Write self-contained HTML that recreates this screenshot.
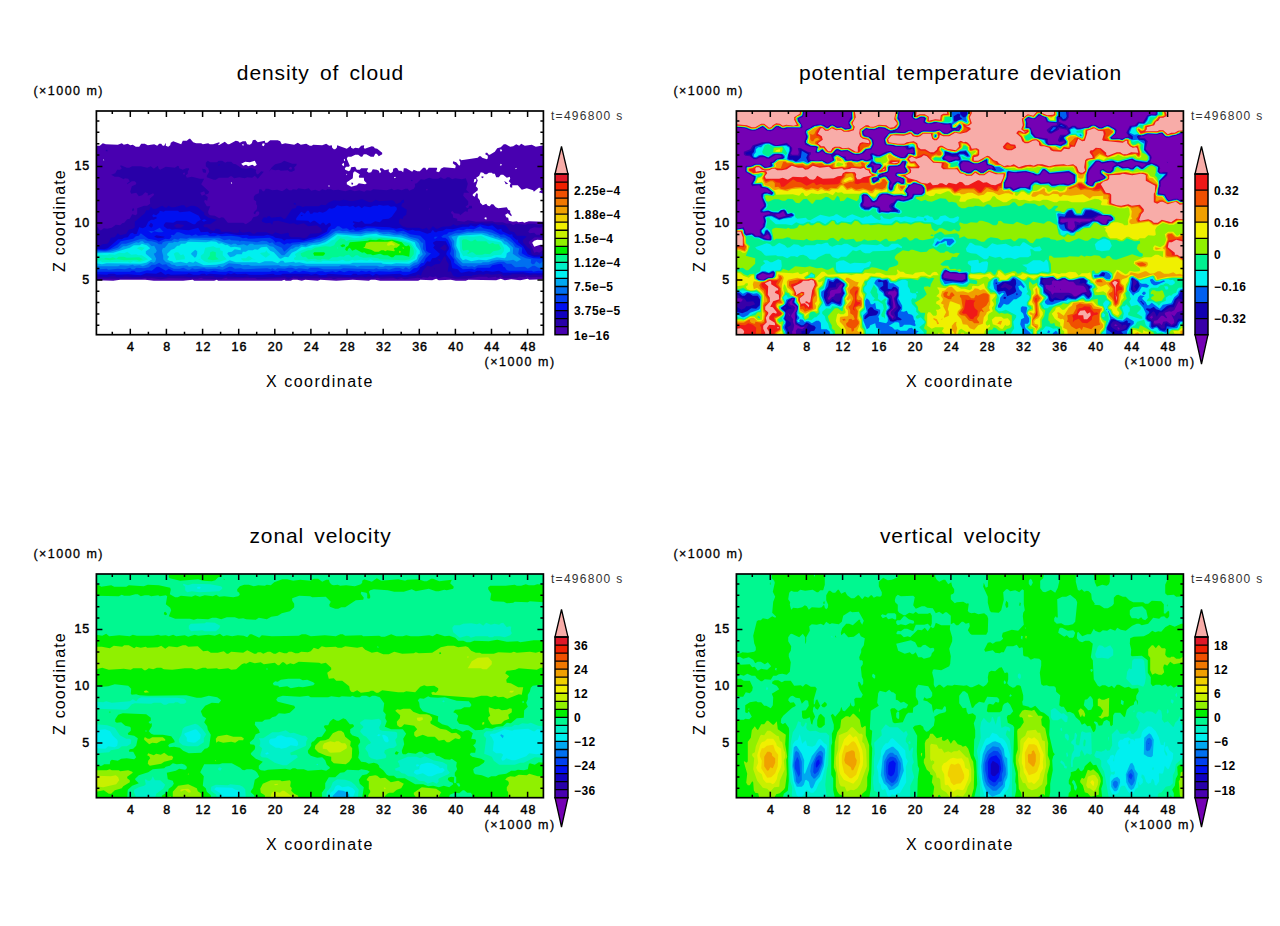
<!DOCTYPE html><html><head><meta charset="utf-8"><style>html,body{margin:0;padding:0;background:#fff;}svg{display:block;}text{font-family:"Liberation Sans",sans-serif;}</style></head><body>
<svg width="1280" height="926" viewBox="0 0 1280 926">
<g transform="translate(0,0)"><clipPath id="cp_cloud"><rect x="96.4" y="111.0" width="447.0" height="223.7"/></clipPath><g clip-path="url(#cp_cloud)"><rect x="96.4" y="111.0" width="447.0" height="223.7" fill="#ffffff"/><path fill-rule="evenodd" fill="#4800b0" d="M351.8 182.2L351.2 184.2L352.8 184.8L353.2 183.2ZM504.2 180.8L505.8 184.2L508.2 183.8ZM481.8 176.2L481.2 177.2L482.8 178.2L483.8 176.8ZM96.2 145.8L96.2 180.2L97.2 180.8L96.2 181.8L96.2 280.2L113.2 280.8L120.2 279.8L145.2 279.8L153.8 280.8L183.2 280.8L192.8 279.8L194.2 280.8L214.2 280.8L216.8 279.8L218.2 280.8L281.8 280.8L284.2 279.8L285.8 280.8L290.8 280.8L292.8 279.8L297.2 279.8L301.8 280.8L305.2 279.8L317.8 280.8L320.2 279.8L336.2 280.8L352.8 279.8L368.8 280.8L370.8 279.8L375.2 279.8L380.2 280.8L418.2 280.8L420.2 279.8L432.2 280.2L436.2 278.8L438.8 280.2L450.8 279.8L455.8 280.8L465.8 280.8L468.2 279.8L496.2 280.2L500.8 278.8L504.8 280.2L511.2 279.2L520.2 280.2L527.8 278.8L529.2 279.8L543.8 279.2L543.8 244.8L540.2 244.8L534.2 246.8L532.2 242.8L534.2 240.8L537.2 239.8L543.8 240.2L543.8 221.8L528.8 221.2L524.2 222.8L522.8 221.8L518.2 222.2L516.8 221.2L512.8 221.8L508.8 220.8L508.2 217.8L506.2 217.2L505.2 214.8L507.8 213.2L511.2 216.2L511.8 215.2L510.2 212.8L510.2 210.8L508.2 209.8L506.8 207.2L498.2 208.2L495.8 207.2L493.2 204.2L491.2 204.2L489.8 206.2L487.8 205.8L486.2 203.8L482.8 205.2L480.2 202.8L479.8 200.2L477.8 197.8L477.8 193.8L476.2 193.2L474.8 196.8L472.8 195.8L472.8 194.2L477.8 190.2L477.8 188.2L475.8 186.2L477.8 180.2L476.2 177.8L479.2 175.8L480.8 172.2L483.2 172.8L484.8 174.2L486.8 174.2L488.8 172.8L491.8 172.8L492.8 173.8L494.8 173.8L496.2 177.2L498.8 177.2L500.8 174.8L503.2 174.8L506.8 177.8L509.8 176.8L510.2 178.8L508.8 181.2L510.8 183.2L509.8 185.2L510.2 187.2L512.2 187.8L512.2 185.2L517.8 185.2L521.8 189.8L526.8 188.2L533.2 190.2L533.8 191.8L538.8 187.8L540.2 187.8L541.8 189.8L538.8 192.2L543.8 193.8L543.8 145.2L535.8 146.8L531.8 144.8L524.8 145.8L521.2 143.8L519.2 145.8L516.2 144.2L513.2 146.2L510.2 146.8L505.8 144.2L503.8 144.2L500.8 147.2L497.2 148.2L494.8 151.8L489.8 154.8L488.8 154.8L487.2 152.8L485.8 152.8L485.2 154.2L487.8 155.8L487.8 158.2L486.8 159.2L482.2 157.8L480.8 156.2L479.2 156.2L477.8 157.8L461.2 160.2L459.8 158.8L459.2 160.2L460.2 161.8L460.2 164.8L459.2 165.8L456.2 162.2L453.2 161.2L452.8 163.2L455.8 165.8L455.2 168.2L443.8 167.2L440.8 168.8L439.8 171.2L438.2 172.2L436.2 171.2L437.2 168.8L436.8 167.8L428.8 167.8L426.8 170.2L425.2 167.8L423.2 167.8L419.8 171.2L417.2 171.2L413.8 169.8L412.2 171.8L406.2 168.2L403.8 168.2L403.2 172.2L401.2 170.8L398.8 170.8L397.2 168.2L395.8 167.8L393.2 168.8L392.8 171.8L390.8 173.2L388.8 171.8L388.8 169.2L384.8 170.2L382.2 168.2L380.2 168.2L379.8 169.2L381.2 171.8L379.8 173.2L378.8 170.8L376.8 169.8L372.8 169.2L371.2 172.2L368.8 172.8L366.8 171.2L368.2 168.2L361.2 168.2L359.8 169.8L356.8 169.8L355.2 166.8L351.2 167.2L350.2 170.2L348.8 171.2L345.2 169.8L344.8 168.2L346.2 166.8L348.8 166.8L349.8 165.8L346.8 158.8L347.8 156.8L351.2 156.8L355.2 154.8L358.2 154.8L360.8 156.8L362.2 156.8L363.8 154.2L366.2 154.2L370.8 156.8L373.8 156.8L375.2 153.8L376.8 153.8L378.8 156.2L382.2 154.2L382.2 152.8L377.2 148.8L374.8 148.2L373.8 146.8L371.8 146.2L364.8 148.8L363.8 147.8L364.2 145.2L361.2 145.8L358.8 148.2L355.2 147.8L353.2 148.8L351.2 147.8L350.8 145.8L346.8 148.8L337.2 145.2L336.8 147.8L335.2 149.2L333.8 149.2L332.2 147.8L331.8 145.2L329.2 145.8L326.2 143.8L322.2 145.2L313.2 144.8L311.8 145.8L309.8 145.8L306.2 143.8L300.8 144.8L297.8 142.8L294.2 144.8L285.2 143.2L281.8 144.2L280.2 141.2L277.8 140.2L270.2 140.2L267.2 142.8L265.2 142.8L264.8 140.8L257.8 142.2L255.2 139.8L252.8 140.2L251.8 143.2L249.8 144.8L247.2 144.2L245.8 141.2L242.8 141.2L239.8 142.8L238.2 141.2L235.8 140.8L229.2 144.2L227.8 144.2L224.8 141.8L218.8 145.2L218.2 144.2L219.8 143.2L219.2 142.2L213.2 144.2L209.8 144.2L208.2 143.2L202.8 144.2L201.2 143.2L196.2 143.2L193.2 142.2L190.2 138.8L189.2 138.8L186.8 140.8L182.8 140.8L181.2 144.2L173.2 141.2L170.8 142.8L170.2 145.2L168.2 146.8L165.8 145.8L165.8 142.8L164.2 145.8L162.8 145.8L161.2 143.8L159.2 143.8L157.2 145.8L154.2 144.2L147.8 145.2L144.8 143.8L141.2 143.8L139.2 146.8L135.8 146.8L132.8 144.8L130.2 145.2L127.8 143.8L123.8 144.8L121.8 143.2L117.8 144.8L105.8 144.2L102.8 143.2L99.8 145.8ZM485.2 217.2L486.8 217.8L486.2 219.8L484.2 218.2ZM328.2 185.8L329.2 185.2L329.8 186.2L328.8 186.8ZM230.8 182.8L231.8 182.2L232.2 183.2L231.2 183.8ZM476.2 178.8L476.2 181.2L473.8 182.8L474.2 179.2ZM393.8 177.2L395.2 176.8L395.8 177.8L394.8 178.2ZM346.2 174.2L346.8 173.8L347.2 174.8L346.8 175.2ZM346.8 182.2L352.8 178.2L353.2 172.8L354.8 171.2L359.8 174.2L358.8 176.2L359.2 177.8L363.8 177.8L364.2 180.8L366.8 183.2L365.2 184.2L358.8 183.2L356.8 185.2L351.2 186.8L346.8 184.2ZM515.2 168.2L516.2 167.8L516.8 168.8L515.8 169.2ZM500.8 163.8L501.8 164.2L501.2 165.8L499.8 165.2ZM343.8 162.8L344.2 165.2L343.2 166.2L341.8 164.2ZM256.8 164.8L254.8 166.2L252.2 164.8L248.2 166.2L246.2 164.8L243.2 165.8L241.2 163.8L245.2 161.8L249.8 162.2L254.8 160.8ZM103.2 159.8L103.8 159.2L104.2 160.2L103.8 160.8ZM344.8 158.8L345.2 160.2L344.2 161.2L343.8 159.8ZM499.8 149.8L501.2 149.2L502.2 150.8L500.8 151.8ZM242.2 144.2L243.2 143.8L243.8 145.2L242.8 145.8ZM262.8 143.2L264.8 143.8L263.8 146.2L261.8 145.2Z"/><path fill-rule="evenodd" fill="#2800a8" d="M133.8 208.2L132.2 208.8L132.2 211.2L134.2 210.2ZM411.2 179.8L410.8 180.8L412.2 181.2L412.8 180.2ZM202.2 168.8L202.8 171.8L203.8 172.8L205.8 172.8L206.2 170.8L205.2 169.2ZM96.2 227.2L96.2 278.8L141.8 278.8L145.2 277.8L147.2 278.8L151.8 278.2L160.8 279.2L168.8 278.2L197.8 278.8L201.2 277.8L203.2 278.8L221.2 279.2L226.2 277.8L227.8 278.8L255.2 278.2L257.2 279.2L284.8 278.2L288.2 279.8L293.2 277.8L298.8 278.8L331.2 278.2L333.8 279.2L337.8 278.2L373.2 278.8L377.8 277.8L380.8 278.8L393.2 278.2L397.8 279.2L401.2 278.2L404.8 279.2L417.8 277.8L421.2 278.2L423.2 277.2L427.8 277.8L429.8 276.2L432.8 277.2L435.8 276.2L438.2 278.2L444.8 276.8L455.2 278.8L466.2 278.8L478.8 276.8L486.8 276.8L488.2 277.8L495.8 276.8L496.8 277.8L498.8 277.8L500.2 276.2L503.8 278.2L517.2 277.8L519.2 276.8L525.2 277.2L526.2 276.2L529.8 277.2L543.8 276.8L543.8 250.8L542.2 250.8L539.2 252.8L536.8 251.8L534.2 252.8L531.8 246.8L528.8 243.2L528.8 241.8L534.8 237.2L543.8 237.8L543.8 234.8L536.2 234.8L534.2 232.8L529.8 233.2L528.2 231.8L530.2 228.8L534.2 227.2L540.2 227.8L543.8 226.8L543.8 223.8L537.8 224.8L534.2 223.8L527.8 223.8L525.8 224.8L515.8 223.8L513.2 225.2L510.2 223.2L506.8 223.8L502.8 222.2L494.8 222.2L492.2 221.2L476.2 221.8L467.8 220.2L464.2 221.8L457.2 220.8L457.2 218.8L453.2 217.8L452.8 214.8L450.8 212.8L451.8 211.2L452.8 211.2L454.2 213.2L459.2 213.8L460.2 215.2L465.2 211.2L467.8 211.8L467.8 209.8L468.8 208.8L472.2 208.2L471.8 205.8L469.2 205.8L468.2 208.2L465.8 207.2L465.8 206.2L468.2 204.8L468.2 201.2L463.2 195.8L463.8 192.8L469.2 192.8L466.2 189.8L467.8 183.8L465.8 178.2L461.8 179.2L455.2 178.2L452.2 179.2L449.2 177.2L447.2 177.2L445.2 178.8L443.2 178.8L440.8 177.2L438.2 178.8L432.8 178.8L429.2 177.8L424.2 179.8L420.8 179.2L416.8 183.2L414.8 183.8L415.2 186.2L413.8 188.8L409.2 190.8L407.8 188.8L405.2 188.8L401.8 190.2L397.8 189.2L393.8 190.2L391.8 188.8L386.8 190.2L373.2 189.2L370.8 190.8L366.8 190.2L364.2 191.8L359.2 190.2L354.8 191.2L350.2 189.8L345.2 191.2L338.2 189.8L333.2 190.2L330.8 189.2L327.2 189.2L325.8 190.2L322.2 189.2L319.2 191.2L315.2 189.8L311.2 190.8L308.8 188.2L304.8 189.2L298.2 188.2L296.8 189.8L292.8 189.2L291.8 190.2L289.2 190.2L286.8 188.2L282.2 191.2L277.2 189.8L272.2 190.2L268.2 188.8L265.8 188.8L264.2 191.2L262.8 191.2L261.2 189.2L259.2 189.2L258.8 193.2L255.2 194.8L253.8 196.8L253.8 199.8L256.2 201.2L256.2 204.2L257.2 205.8L256.8 209.2L253.8 212.2L253.8 213.8L255.2 214.2L256.2 211.8L258.2 211.2L259.2 212.2L259.2 214.2L257.2 216.2L253.2 217.2L251.2 220.8L245.8 224.2L243.2 222.8L227.8 222.8L223.8 217.8L221.8 217.2L219.2 218.2L214.8 215.8L209.8 215.2L208.2 213.2L208.2 211.2L210.2 206.2L206.8 206.2L204.2 201.8L204.8 199.8L207.2 200.8L207.8 197.2L204.8 194.8L208.2 193.8L209.2 191.8L201.2 184.2L204.2 178.8L199.8 178.8L191.8 176.8L186.8 177.8L185.8 175.2L187.8 173.8L187.8 171.2L189.2 169.2L188.8 168.2L186.2 168.2L182.8 169.8L179.2 168.2L178.8 166.2L177.8 165.8L174.8 167.8L165.8 166.8L160.2 169.8L158.8 168.8L157.8 165.8L153.8 168.8L150.8 166.2L147.2 167.8L140.8 166.2L132.2 166.2L129.2 167.8L126.8 167.8L120.8 165.2L120.2 166.2L121.8 168.2L120.2 169.8L117.2 169.8L115.2 173.2L111.2 174.8L114.8 176.8L118.8 176.8L123.8 179.2L124.8 178.2L128.2 178.8L129.8 181.2L127.2 183.2L127.2 184.2L131.8 181.2L134.8 181.2L136.2 182.8L136.2 184.2L131.8 186.2L130.2 191.8L131.2 193.8L136.2 192.8L138.8 196.2L142.2 195.2L145.2 192.2L147.8 193.2L147.8 195.8L153.2 193.2L154.2 194.8L149.8 198.8L150.2 203.8L147.2 205.8L144.2 205.8L137.2 208.2L137.2 213.8L135.8 215.2L132.2 214.2L129.8 218.8L127.2 219.2L124.2 222.8L122.2 223.2L120.2 225.2L115.8 224.8L111.8 227.8L107.2 228.8L103.8 228.2L101.2 230.2L99.8 230.2L97.8 227.2ZM429.2 208.8L429.8 208.2L430.2 209.2L429.8 209.8ZM204.2 191.2L205.2 194.2L201.8 195.8L200.2 192.8ZM425.8 189.2L427.2 188.8L427.8 189.8L426.8 190.8ZM182.8 173.8L184.2 172.2L185.2 174.2L183.8 174.8ZM296.8 163.8L292.2 163.8L284.2 160.8L281.2 162.8L275.2 164.2L271.8 167.2L268.8 171.8L271.2 169.2L275.2 170.2L278.8 169.8L280.8 170.8L287.8 170.2L289.8 171.8L291.8 171.8L294.8 170.2L294.2 167.2L296.2 165.8ZM290.2 166.8L292.2 167.8L291.2 169.8L288.8 168.8ZM205.8 162.8L205.8 166.2L208.2 168.2L209.2 171.8L206.8 175.8L206.8 177.2L213.8 179.8L215.8 179.8L218.8 177.8L228.2 177.8L230.2 176.2L231.8 176.2L234.2 178.2L239.2 177.2L244.8 178.2L247.2 177.2L252.2 177.8L254.8 175.8L257.8 178.8L263.8 171.8L261.2 171.2L258.2 174.2L256.8 174.2L255.8 171.8L256.2 169.8L251.2 167.8L246.2 168.8L241.8 168.2L235.8 164.2L233.2 163.8L231.2 161.8L227.2 161.8L225.2 162.8L222.2 160.8L218.8 160.8L216.8 162.2L210.2 162.2L207.8 160.8ZM105.8 149.8L105.8 151.2L107.8 151.2L107.2 149.8Z"/><path fill-rule="evenodd" fill="#1000c0" d="M435.2 268.2L434.2 268.2L434.2 269.2ZM293.8 203.2L293.8 204.2L296.2 204.8L295.2 202.8ZM543.8 254.2L534.8 255.2L531.8 254.2L530.2 249.2L527.8 247.8L523.2 242.8L522.8 239.8L526.8 236.8L524.2 235.8L516.8 235.8L514.2 232.2L510.2 231.2L505.8 225.8L503.2 224.8L498.2 225.2L493.2 223.2L485.8 223.8L482.2 222.8L477.2 223.8L469.8 223.2L467.8 224.8L462.2 224.2L456.8 225.8L453.2 224.2L450.8 226.2L442.2 226.8L437.8 228.8L436.2 228.8L432.8 226.2L429.8 229.8L428.2 229.8L426.8 227.8L422.8 229.2L419.2 227.8L406.8 227.8L402.2 226.2L399.2 223.2L399.2 219.8L400.8 218.2L402.8 219.2L403.2 216.8L406.2 214.8L406.8 209.8L401.2 206.2L401.8 203.8L404.2 202.2L403.8 199.8L401.8 200.2L400.8 202.2L397.2 203.8L395.8 203.8L394.2 201.2L392.2 200.2L379.2 201.2L375.8 199.8L371.8 202.2L369.2 202.2L362.2 199.2L351.8 201.2L343.8 199.8L339.8 200.8L333.8 200.2L328.2 202.8L325.8 205.2L321.2 204.8L318.8 206.2L304.8 206.2L303.2 207.2L299.8 205.8L296.8 205.8L295.8 208.2L292.2 208.8L285.8 218.2L284.2 219.2L280.8 216.8L271.2 217.8L269.8 216.2L267.8 216.2L266.8 217.8L263.8 217.2L261.8 220.2L262.2 221.8L266.2 223.2L270.2 222.8L272.2 224.8L273.2 221.2L278.2 220.8L289.8 223.8L293.8 223.2L297.2 224.8L303.8 223.2L308.2 226.2L316.8 225.2L320.8 228.2L322.2 231.2L319.2 233.2L310.2 233.8L307.2 237.2L304.2 238.2L299.2 237.2L290.8 237.2L288.8 235.8L288.8 233.2L287.8 232.8L281.2 234.2L275.2 232.2L272.8 234.2L271.2 234.2L266.2 232.2L256.8 232.2L254.8 233.8L252.8 233.8L249.8 231.8L242.8 232.8L239.8 231.2L240.2 229.8L238.8 230.2L239.8 231.2L238.2 232.8L233.2 232.8L229.2 231.8L221.2 231.8L220.2 229.8L217.8 228.8L215.2 228.8L215.2 230.2L212.8 231.2L206.8 227.2L204.2 227.2L203.2 225.8L204.8 224.2L210.2 224.2L216.8 219.8L208.8 217.8L204.2 214.8L204.2 212.8L197.8 207.2L193.8 205.8L190.8 205.8L186.2 207.8L184.2 205.2L181.8 205.2L174.8 207.2L171.2 207.2L168.2 205.8L167.2 207.2L165.2 207.8L162.2 205.8L155.8 208.8L152.8 208.8L150.8 206.8L149.2 210.2L146.2 210.2L144.8 213.2L134.8 221.8L134.8 227.2L132.8 228.8L128.8 229.8L126.2 233.8L120.2 235.2L117.8 233.2L114.8 237.2L110.8 237.8L109.2 241.8L107.2 243.8L102.2 244.2L100.8 245.8L96.2 245.2L96.2 276.8L108.2 277.2L110.8 276.2L114.8 276.2L117.2 277.2L121.8 277.2L125.2 276.2L132.2 277.2L146.8 276.2L166.2 277.2L168.2 276.2L183.8 276.2L190.2 277.2L199.2 276.2L213.2 276.2L215.8 277.2L222.8 277.2L224.2 276.2L242.8 277.2L247.8 276.2L250.2 277.2L272.8 277.2L285.2 276.2L287.2 277.2L290.8 277.2L292.8 276.2L296.8 276.2L301.8 277.2L304.2 276.2L317.8 276.2L319.8 277.2L326.2 277.2L328.2 276.2L354.2 277.2L361.8 276.2L365.8 277.2L368.2 276.2L373.8 277.2L377.2 275.8L379.2 276.8L392.2 276.2L396.2 277.8L398.8 276.8L407.8 277.2L410.2 276.2L415.2 276.2L417.8 274.2L420.8 275.8L422.8 270.8L427.2 265.8L431.2 266.8L435.2 264.2L439.8 263.8L444.2 256.2L445.8 256.8L446.2 260.2L448.8 264.2L447.8 271.8L450.8 271.2L453.2 275.8L457.8 277.2L464.2 275.8L471.2 276.2L472.8 275.2L480.2 274.2L483.8 274.8L485.8 273.8L489.2 273.8L490.8 274.8L501.2 273.8L503.8 275.8L509.8 275.2L511.8 274.2L523.8 274.2L529.2 275.2L534.8 274.2L538.2 275.2L543.8 274.8ZM438.8 258.8L440.8 260.2L439.8 261.2L437.8 259.8ZM444.2 244.8L445.2 244.8L446.8 247.2L446.8 248.8L444.8 251.2L439.8 248.2ZM173.8 225.8L176.8 223.8L183.2 224.8L184.2 225.8L180.8 227.8L176.2 227.8ZM220.2 164.8L218.8 164.2L218.2 165.8Z"/><path fill-rule="evenodd" fill="#0010f0" d="M201.8 220.2L203.8 221.8L206.8 220.2L204.2 219.2ZM543.8 256.8L534.2 256.8L527.8 254.2L523.2 246.2L518.2 242.2L517.8 239.8L516.2 239.8L512.8 236.8L512.2 234.2L509.8 234.8L502.2 231.2L501.2 228.8L497.8 229.8L492.2 225.2L488.2 226.2L479.8 224.2L475.2 226.8L470.8 225.2L468.8 226.8L462.8 226.8L452.8 229.2L446.2 228.8L442.8 230.8L437.8 231.2L436.8 232.2L434.8 232.2L433.2 230.2L432.2 230.2L430.8 232.8L427.2 233.8L419.2 230.8L415.2 230.8L412.8 229.8L407.8 230.8L400.8 227.8L396.2 228.8L389.2 227.2L366.2 226.2L362.2 227.8L357.2 227.2L355.8 228.2L352.8 225.8L354.8 223.8L352.8 222.2L353.2 221.2L358.8 222.2L361.8 220.8L364.8 223.8L370.8 223.8L375.2 221.2L379.8 222.2L382.8 219.2L388.8 218.8L391.8 216.8L396.8 209.8L396.8 207.8L394.8 206.2L390.8 206.8L388.2 205.2L383.2 205.8L378.8 204.8L377.8 205.8L373.2 205.8L370.2 207.2L364.2 206.2L361.8 208.2L358.8 205.8L355.2 207.2L353.2 205.8L349.8 206.8L347.2 205.8L341.2 206.2L337.2 205.2L334.8 207.8L331.8 208.8L329.2 208.2L326.2 211.2L322.8 212.8L319.2 211.8L317.8 212.8L313.8 212.2L312.2 213.8L310.2 213.8L308.8 210.8L307.2 210.8L304.8 213.8L301.2 211.8L296.2 218.2L296.2 220.2L308.2 220.8L310.2 222.8L313.2 220.8L314.8 220.8L320.2 224.8L322.2 222.8L323.8 222.8L325.8 225.2L329.2 222.8L330.8 223.8L330.8 225.8L328.2 227.8L326.8 231.8L315.8 237.2L310.8 237.8L303.8 240.2L298.8 239.2L286.2 239.2L284.2 240.8L281.8 238.8L275.2 237.8L273.2 236.2L267.2 234.8L263.8 235.8L249.2 235.8L247.2 234.8L238.8 235.2L226.2 233.2L220.8 234.2L213.2 232.8L210.2 233.8L207.8 231.8L200.8 232.2L198.2 227.8L188.8 230.2L175.8 229.2L171.8 229.8L170.2 228.8L167.2 228.8L163.8 226.2L163.8 224.8L165.8 222.2L173.2 222.8L176.8 220.8L186.2 220.8L193.2 224.2L195.2 224.2L197.2 221.8L200.8 219.8L198.8 215.8L189.8 211.2L179.8 212.2L177.8 210.8L165.2 210.8L163.8 211.8L159.8 210.8L159.2 212.8L156.2 215.2L153.2 214.2L152.2 215.8L153.2 217.2L156.2 216.8L156.8 218.2L153.8 219.8L151.2 219.8L148.2 221.8L145.8 226.8L142.8 228.2L139.2 227.2L136.8 233.8L134.8 234.2L132.2 232.8L130.2 233.8L127.8 237.2L124.2 237.8L121.8 239.2L118.2 239.2L107.8 248.2L104.2 249.2L96.2 248.8L96.2 274.2L107.2 274.8L108.8 273.8L114.2 273.8L116.8 274.8L128.2 274.2L140.8 275.2L146.2 273.2L156.2 273.8L160.8 271.8L165.2 274.8L168.2 273.8L170.8 274.8L187.2 274.2L188.8 273.2L193.2 274.8L199.2 274.8L201.8 273.8L204.8 273.8L206.2 274.8L209.8 273.8L225.8 274.8L228.2 273.2L230.8 274.2L234.2 273.2L237.2 274.2L245.8 273.8L249.2 274.8L262.2 274.8L273.2 273.8L275.2 274.8L280.8 274.8L282.8 273.8L308.2 273.8L311.2 274.8L315.8 273.8L320.2 275.2L326.2 274.8L328.2 273.8L350.8 275.2L353.2 273.8L356.2 273.8L357.8 274.8L369.2 273.8L372.8 275.8L375.8 273.8L379.2 274.8L399.8 273.8L403.2 275.2L406.2 275.2L416.2 272.2L419.2 269.8L420.2 267.2L424.2 265.2L427.2 261.2L430.2 261.8L432.2 258.2L435.8 257.8L439.2 255.2L439.8 253.8L433.2 247.8L434.8 245.2L433.2 243.8L433.2 242.2L436.2 240.8L445.8 241.2L448.8 247.2L448.8 249.2L446.8 251.8L446.2 254.2L450.8 260.8L452.2 268.2L457.8 269.2L460.2 272.2L461.8 272.8L468.8 271.2L474.2 272.2L477.2 270.8L480.8 270.8L482.8 271.8L486.2 270.8L492.8 271.8L498.8 270.8L503.2 272.8L523.2 272.2L529.8 273.2L543.8 273.2ZM154.2 236.8L156.2 235.2L164.8 236.8L163.2 237.8L157.8 238.2ZM150.8 222.8L152.8 224.2L152.8 226.2L151.2 227.8L148.8 225.8ZM300.8 215.2L302.2 214.8L302.8 215.8L301.2 216.2Z"/><path fill-rule="evenodd" fill="#0040f0" d="M433.8 238.2L435.2 238.8L437.8 236.8L434.8 236.8ZM163.8 231.2L162.8 231.2L159.8 227.8L153.2 231.2L147.2 230.8L149.2 231.2L151.2 233.2L154.2 231.2L158.2 232.2L162.2 232.2ZM441.2 236.8L442.8 237.8L445.2 237.8L447.8 239.8L450.8 246.8L450.8 251.2L449.8 253.8L454.2 259.8L454.2 262.8L462.8 269.2L471.8 268.8L474.8 269.8L477.2 267.8L489.8 267.8L492.2 265.2L500.2 263.8L502.2 264.2L503.2 266.8L504.8 267.2L506.8 270.2L509.2 270.8L531.8 270.8L533.2 271.8L538.2 270.8L543.8 271.2L543.8 258.8L533.8 258.2L527.8 256.8L521.8 253.2L522.2 247.8L516.8 244.8L510.2 237.8L503.8 234.2L500.8 234.8L491.8 229.8L483.2 228.2L480.2 226.2L473.8 229.2L466.8 228.8L463.2 230.2L458.2 229.8L451.2 232.2L448.8 232.2L446.8 234.2L443.8 234.8ZM431.2 253.2L428.8 252.8L426.2 250.8L425.2 240.8L420.2 235.8L410.2 234.2L403.2 230.8L396.8 231.8L393.8 229.8L381.2 229.8L374.2 228.2L367.2 228.2L358.2 230.8L355.2 230.8L353.2 229.2L349.8 230.2L346.8 228.2L342.8 228.8L339.2 226.2L337.2 226.2L334.8 228.8L331.8 229.2L328.2 233.2L320.2 237.8L302.8 241.8L291.8 242.8L290.2 243.8L287.2 243.2L284.2 244.8L279.8 241.8L277.2 241.8L275.8 242.8L273.2 239.8L269.8 237.8L248.2 238.8L246.2 237.8L242.8 238.2L239.2 236.8L231.2 235.8L221.8 236.2L217.8 235.2L214.8 236.2L209.8 236.2L206.8 234.8L198.2 235.8L195.8 234.2L191.8 235.8L189.8 234.8L185.8 234.8L179.2 232.2L176.8 232.2L173.8 235.2L171.8 234.8L170.8 235.8L171.8 236.8L169.2 239.2L165.2 238.8L158.8 241.8L156.2 240.2L148.2 238.8L140.8 233.2L138.8 235.8L135.8 236.2L133.2 238.8L120.8 241.2L117.8 244.2L109.8 249.2L105.2 250.2L96.2 249.8L96.2 271.8L130.2 271.8L131.8 270.8L134.2 270.8L136.2 272.2L139.8 272.2L147.2 270.2L151.8 270.8L156.8 266.8L158.8 266.8L165.8 270.8L168.8 268.8L173.8 271.2L197.2 271.8L200.2 270.8L208.8 271.8L213.8 270.8L218.8 271.8L226.2 271.8L229.8 270.8L233.8 271.8L270.2 271.8L272.2 270.8L277.8 271.8L279.8 270.8L287.2 271.2L290.2 272.8L295.2 270.8L299.2 272.2L302.8 270.8L310.8 272.2L315.8 272.2L317.8 271.2L322.8 271.2L325.2 272.2L332.8 271.2L335.8 272.2L339.8 270.8L344.2 272.2L348.8 270.8L359.2 271.8L361.2 270.8L366.2 271.8L369.2 270.8L373.2 272.2L378.8 271.2L390.2 271.8L400.8 270.8L402.2 271.8L409.8 271.8L413.8 268.2L417.2 267.8L421.2 263.2L423.8 262.8L425.8 258.2Z"/><path fill-rule="evenodd" fill="#0070f0" d="M448.2 236.2L451.8 242.2L452.2 246.8L453.8 250.2L454.2 257.2L458.2 262.8L462.2 266.2L466.2 265.8L467.8 266.8L472.2 266.2L474.2 267.2L478.2 265.2L488.2 264.8L498.2 261.8L503.8 261.8L506.8 263.8L511.2 263.8L515.2 267.2L524.8 266.8L527.8 268.8L532.8 265.8L534.8 265.8L538.2 267.8L543.8 267.8L543.8 260.8L539.8 263.8L536.2 261.2L534.2 264.2L532.2 264.2L530.8 262.8L531.2 259.2L525.8 258.2L520.2 255.8L518.2 253.8L519.2 248.2L515.2 247.2L512.8 243.2L505.2 237.8L500.8 237.2L499.2 235.8L491.8 232.8L483.8 230.8L474.8 230.8L472.8 231.8L467.2 231.2L459.2 233.2L455.2 233.2ZM426.2 253.8L422.8 248.8L423.2 242.8L421.8 242.8L418.2 238.8L409.8 236.8L405.8 234.2L403.2 234.2L401.8 233.2L396.8 233.8L388.8 231.8L379.2 231.8L376.2 230.2L371.2 231.2L365.8 230.8L360.2 232.2L350.8 232.2L346.8 230.8L342.8 231.2L339.2 230.2L334.8 231.2L326.8 236.8L319.2 239.8L316.8 239.8L312.2 241.8L300.8 243.2L299.2 244.2L292.8 244.8L284.2 251.8L281.8 247.8L274.8 244.8L272.2 242.2L269.8 243.2L266.8 241.2L262.2 240.8L257.2 242.2L241.2 240.8L239.8 241.8L238.8 240.8L231.2 240.2L229.8 239.2L224.2 240.2L219.2 237.8L189.2 237.8L186.8 238.8L180.2 238.2L178.2 239.8L174.2 238.8L171.8 240.8L165.8 241.2L162.8 242.2L161.8 244.2L158.8 244.2L156.8 242.8L151.8 241.2L147.8 241.2L144.2 239.2L139.8 239.2L125.8 243.8L121.8 243.8L117.8 247.8L106.2 251.2L96.2 250.8L96.2 268.2L99.8 269.2L106.8 268.8L108.2 269.8L117.8 268.8L124.8 269.2L130.2 267.8L131.8 269.2L134.2 269.2L136.2 267.8L143.8 268.2L148.8 267.2L151.8 264.8L155.2 264.8L159.2 262.8L162.2 264.8L166.2 264.2L168.2 266.2L173.8 268.8L179.8 268.8L183.2 267.8L187.8 269.8L189.8 269.8L192.2 268.2L194.8 269.2L204.2 268.2L206.8 269.2L215.2 268.8L222.8 269.8L229.2 266.8L231.8 266.8L234.8 268.8L240.8 268.2L243.8 269.2L267.2 268.2L270.8 269.2L272.2 268.2L275.2 269.8L277.8 268.2L284.8 268.8L288.2 267.8L292.2 267.8L295.8 269.2L298.8 268.2L307.8 269.2L310.2 267.8L317.8 267.8L323.2 269.2L340.8 269.2L343.2 268.2L373.8 269.2L376.2 268.2L378.8 269.2L385.8 268.8L388.8 269.8L395.8 267.8L399.2 267.8L403.2 269.2L405.8 267.2L409.2 269.2L411.8 266.8L418.8 263.8Z"/><path fill-rule="evenodd" fill="#00a8f0" d="M156.8 250.8L154.2 245.8L151.8 246.2L148.2 243.2L144.8 243.2L142.8 241.2L140.8 241.2L138.8 242.8L136.2 242.2L126.2 246.2L123.2 246.2L119.2 249.2L110.2 251.8L96.2 252.2L96.2 266.2L118.2 266.2L120.2 265.2L128.2 265.8L132.8 264.8L134.2 265.8L139.8 265.2L142.8 266.2L147.8 264.2L150.8 261.8L153.8 262.8L155.2 261.8L156.2 258.8L153.8 253.8L155.8 252.8ZM451.2 236.8L454.2 241.2L454.2 246.8L456.2 251.2L456.2 256.8L462.8 263.2L481.2 263.2L482.8 262.2L488.8 262.2L491.8 260.8L499.2 259.8L507.2 260.8L513.2 259.8L516.8 261.8L521.2 259.2L512.8 253.8L513.2 247.8L506.8 241.8L504.8 241.2L503.2 239.2L500.8 239.2L497.8 237.2L495.2 237.2L492.8 235.2L489.8 235.2L487.2 233.8L482.2 232.8L468.2 232.8ZM422.8 254.2L418.8 243.2L416.2 240.8L400.8 235.2L394.2 235.2L388.8 233.8L383.8 234.2L377.2 232.2L366.2 232.8L360.8 234.2L335.8 232.8L327.2 238.8L320.8 241.8L308.8 243.8L305.8 245.8L301.2 244.8L298.8 246.8L295.8 246.8L292.8 248.8L291.2 248.8L284.2 255.2L281.8 255.2L273.2 246.8L270.2 246.2L266.8 244.2L254.2 244.8L252.8 243.8L249.8 243.8L247.2 245.8L243.8 244.2L237.8 245.2L235.8 243.8L233.2 243.8L231.2 244.8L214.2 239.2L209.8 240.2L190.2 239.2L186.8 240.8L180.2 240.8L177.8 242.2L174.2 241.8L172.8 242.8L168.8 242.8L164.8 247.8L162.8 248.2L161.8 250.8L163.2 255.8L163.2 259.2L166.2 262.2L169.2 262.8L171.8 264.8L174.2 264.8L176.8 266.2L187.2 265.2L188.8 266.8L196.2 265.8L205.2 267.2L216.8 267.2L218.8 265.8L222.2 267.2L228.8 263.2L240.2 264.2L242.2 265.2L248.2 264.8L250.8 265.8L278.8 265.2L280.8 266.2L287.2 266.2L290.2 265.2L295.2 266.2L303.8 265.2L307.2 266.2L338.8 266.2L341.2 265.2L354.8 265.8L357.2 266.8L360.8 265.8L377.2 265.8L379.8 266.8L383.2 266.8L385.2 265.8L409.2 266.2L414.2 262.8L417.2 262.2L419.8 257.2Z"/><path fill-rule="evenodd" fill="#00f0f0" d="M152.2 259.2L145.8 253.8L145.8 251.2L150.2 248.2L146.8 245.2L141.8 243.8L139.8 245.2L133.8 245.2L129.8 247.8L113.2 252.8L96.2 253.2L96.2 263.2L101.8 264.2L106.8 263.2L140.8 263.8L146.2 262.8ZM456.8 239.2L456.2 245.8L459.8 253.8L460.2 257.2L462.8 260.2L465.8 259.2L471.2 261.2L478.8 259.8L486.2 260.2L496.8 257.2L504.8 258.2L506.2 256.8L506.8 253.2L510.2 251.2L509.8 248.2L506.2 244.8L504.2 244.2L501.2 240.8L481.2 234.2L459.2 235.8L457.8 236.8ZM419.8 250.8L416.2 246.2L414.8 242.2L402.2 237.8L379.8 235.2L376.2 233.8L365.8 234.8L361.2 236.2L337.2 234.2L325.2 242.2L317.2 244.8L312.8 244.8L305.8 247.2L301.8 246.8L296.2 250.8L291.8 252.8L288.2 257.2L284.8 256.8L280.8 258.8L279.2 258.2L273.8 252.2L270.2 250.8L266.8 246.8L261.2 247.2L257.8 249.8L254.8 249.2L252.8 250.2L248.2 250.2L245.8 251.8L242.8 251.8L241.8 254.2L236.8 254.2L234.2 256.2L230.2 257.2L227.2 253.8L228.2 252.2L231.8 251.8L234.8 249.2L240.8 250.2L240.8 247.8L234.8 246.8L230.8 247.2L227.2 244.8L225.8 245.2L221.8 243.2L218.8 243.8L216.2 241.8L211.2 241.2L206.2 242.2L187.8 241.8L185.2 243.8L181.2 243.8L179.2 245.8L177.2 245.8L174.2 248.8L171.2 249.8L167.2 253.8L167.2 255.2L169.2 256.8L167.2 259.2L169.2 260.8L172.2 261.2L173.8 262.8L180.8 261.8L186.8 263.2L189.2 261.8L193.2 262.8L195.2 261.2L203.8 265.2L216.2 264.8L223.8 263.2L229.8 260.2L235.8 262.2L256.2 262.2L259.2 263.2L264.8 261.2L272.2 261.2L277.8 263.2L280.8 260.8L283.2 260.8L284.8 262.8L293.8 261.8L295.2 262.8L299.2 262.2L306.2 263.8L350.2 263.8L352.8 262.8L381.2 262.8L382.8 263.8L391.2 264.2L396.2 263.2L409.2 263.8L416.8 259.2L418.2 254.8L419.8 253.8ZM195.2 249.8L197.2 251.2L197.2 253.8L196.2 256.8L194.8 257.8L191.2 254.2L191.2 253.2Z"/><path fill-rule="evenodd" fill="#00f0c8" d="M200.2 259.2L199.2 258.8L198.2 259.8ZM241.2 258.2L241.2 259.2L243.2 260.8L248.8 260.8L251.8 259.2L256.2 259.2L252.8 258.8L249.8 256.2L248.2 256.2L245.8 258.2ZM173.8 253.8L176.2 260.2L184.8 259.2L184.8 256.8L183.2 254.2L180.8 255.2L178.2 252.2L175.8 252.2ZM148.2 259.2L141.8 255.2L138.2 255.2L136.2 254.2L131.2 254.8L127.2 251.8L124.2 253.2L119.2 252.8L114.8 254.8L109.2 254.2L107.2 255.2L100.8 254.8L96.2 255.8L96.2 261.8L100.8 261.2L102.2 262.2L127.8 261.8L130.2 262.8L133.2 261.2L139.8 262.2ZM266.2 250.2L265.2 252.2L260.8 252.8L260.2 253.8L265.8 257.8L269.8 254.8L269.8 253.8L268.2 253.2ZM136.8 248.2L141.8 250.8L144.8 247.8L139.8 246.8ZM200.8 255.8L200.8 258.2L204.2 261.2L208.8 262.8L219.8 261.8L226.8 259.2L222.8 255.2L222.8 251.2L220.2 250.2L220.2 247.8L216.2 247.8L213.2 246.2L205.2 247.8L203.8 253.2ZM459.2 237.8L460.2 250.8L463.2 256.2L465.8 255.8L472.2 257.8L476.2 256.8L480.2 257.8L491.2 256.8L494.2 255.2L501.2 254.8L503.8 251.2L504.2 248.2L500.8 242.2L488.8 240.2L481.2 235.8L473.2 236.8L466.2 236.2L460.8 236.8ZM293.8 259.2L295.8 260.2L303.8 260.2L307.2 261.8L312.2 260.8L317.2 261.8L321.2 261.8L322.8 260.8L337.2 261.2L342.8 259.8L345.8 261.2L348.8 261.2L352.2 259.8L354.8 260.8L360.8 259.8L367.2 260.8L370.2 259.2L373.8 260.8L380.8 260.8L384.2 261.8L407.2 261.8L414.8 258.8L416.8 250.8L411.2 242.8L397.2 238.2L371.2 236.2L354.2 238.2L347.2 236.2L342.2 236.8L337.8 235.8L334.2 239.8L331.8 240.2L327.2 243.8L318.2 246.2L314.2 246.2L311.2 248.2L307.8 247.8L299.2 251.2L294.8 254.2L296.2 256.8L294.2 257.8Z"/><path fill-rule="evenodd" fill="#00f890" d="M96.2 258.2L96.2 259.8L102.8 259.2L110.2 260.2L116.8 259.2L124.2 260.2L136.8 259.8L139.2 260.8L142.8 259.2L139.2 257.2L126.8 257.8L123.8 256.8L118.8 256.8L116.2 258.8L112.8 257.2L109.8 258.2L105.8 257.8L103.8 258.8ZM207.8 258.2L207.8 259.2L212.8 260.2L218.8 259.2L215.8 256.8L215.8 252.2L212.8 251.2L210.2 252.2L209.8 255.8ZM461.8 240.8L462.2 249.2L463.2 250.8L468.2 249.8L469.2 251.8L467.2 252.8L467.8 254.2L471.2 252.2L472.8 252.2L476.2 254.8L482.2 254.8L484.8 253.8L489.8 254.2L493.2 251.2L498.8 250.2L501.2 248.8L498.8 244.2L494.8 244.2L492.8 242.8L489.2 244.2L486.2 241.2L477.2 241.2L475.2 239.2L472.2 241.2L470.2 241.2L466.2 239.2L463.2 239.2ZM413.8 250.8L412.8 247.8L409.8 243.8L395.8 239.2L380.8 237.8L373.8 238.8L369.8 237.8L357.8 240.2L349.8 239.8L346.2 241.2L344.8 239.2L340.2 238.2L335.8 242.2L334.2 245.2L330.2 246.8L325.2 246.2L315.2 247.8L311.2 250.2L308.2 250.2L300.8 253.2L300.8 255.2L302.8 257.2L305.8 256.8L308.2 259.2L315.2 258.8L317.8 259.8L320.8 259.8L322.2 258.8L328.8 259.8L332.2 257.2L337.2 257.2L339.8 256.2L343.8 256.8L345.8 255.2L348.8 254.8L351.8 257.2L353.2 257.2L355.8 255.2L357.8 255.2L359.8 256.8L363.8 257.8L371.2 257.2L378.2 258.2L379.8 259.2L404.8 260.2L409.8 259.2L413.8 254.2ZM336.8 247.8L337.8 247.2L338.2 248.2L337.8 248.8Z"/><path fill-rule="evenodd" fill="#00f000" d="M313.2 253.2L314.2 255.8L323.2 255.8L325.2 253.8L324.2 252.2L314.2 252.2ZM344.8 244.8L342.8 244.2L340.2 245.8L342.2 247.2L345.2 246.2ZM410.2 247.2L408.8 245.2L406.2 246.2L404.8 245.8L401.8 242.2L392.2 239.8L384.8 240.2L379.2 239.2L376.2 240.2L369.8 239.8L367.8 240.8L349.8 242.2L348.2 245.8L345.8 247.2L345.2 249.8L347.2 251.2L348.2 248.8L349.8 247.8L352.2 250.8L355.8 249.2L362.2 252.8L364.2 252.2L367.2 254.2L370.8 254.2L372.8 255.2L380.2 253.8L383.8 255.2L387.8 255.2L391.2 257.2L393.2 257.2L395.2 255.2L402.8 255.2L409.2 256.8Z"/><path fill-rule="evenodd" fill="#90f000" d="M399.2 250.8L399.2 252.8L400.2 253.2L400.8 251.2ZM402.2 247.8L403.2 248.8L404.2 248.2L403.2 247.2ZM400.2 244.8L391.8 240.8L387.8 241.8L370.8 241.8L366.2 242.8L364.8 246.8L363.2 247.8L371.2 249.8L374.8 251.8L378.8 251.8L381.2 250.2L383.8 250.2L385.2 251.2L387.2 250.2L394.2 251.2L394.8 250.2L393.8 248.8L394.8 247.8L396.8 247.8Z"/><path fill-rule="evenodd" fill="#c8f000" d="M394.8 244.2L391.2 241.8L387.8 242.8L386.8 245.2L388.8 245.8L391.2 244.8L394.2 245.8Z"/></g><path d="M112.3 111.0v3M112.3 334.7v-3M130.3 111.0v6M130.3 334.7v-6M148.4 111.0v3M148.4 334.7v-3M166.4 111.0v6M166.4 334.7v-6M184.5 111.0v3M184.5 334.7v-3M202.6 111.0v6M202.6 334.7v-6M220.6 111.0v3M220.6 334.7v-3M238.7 111.0v6M238.7 334.7v-6M256.7 111.0v3M256.7 334.7v-3M274.8 111.0v6M274.8 334.7v-6M292.9 111.0v3M292.9 334.7v-3M310.9 111.0v6M310.9 334.7v-6M329.0 111.0v3M329.0 334.7v-3M347.0 111.0v6M347.0 334.7v-6M365.1 111.0v3M365.1 334.7v-3M383.2 111.0v6M383.2 334.7v-6M401.2 111.0v3M401.2 334.7v-3M419.3 111.0v6M419.3 334.7v-6M437.3 111.0v3M437.3 334.7v-3M455.4 111.0v6M455.4 334.7v-6M473.5 111.0v3M473.5 334.7v-3M491.5 111.0v6M491.5 334.7v-6M509.6 111.0v3M509.6 334.7v-3M527.6 111.0v6M527.6 334.7v-6M96.4 325.2h3M543.4 325.2h-3M96.4 313.9h3M543.4 313.9h-3M96.4 302.6h3M543.4 302.6h-3M96.4 291.2h3M543.4 291.2h-3M96.4 279.9h6M543.4 279.9h-6M96.4 268.5h3M543.4 268.5h-3M96.4 257.2h3M543.4 257.2h-3M96.4 245.8h3M543.4 245.8h-3M96.4 234.5h3M543.4 234.5h-3M96.4 223.1h6M543.4 223.1h-6M96.4 211.8h3M543.4 211.8h-3M96.4 200.4h3M543.4 200.4h-3M96.4 189.1h3M543.4 189.1h-3M96.4 177.7h3M543.4 177.7h-3M96.4 166.4h6M543.4 166.4h-6M96.4 155.0h3M543.4 155.0h-3M96.4 143.7h3M543.4 143.7h-3M96.4 132.3h3M543.4 132.3h-3M96.4 121.0h3M543.4 121.0h-3" stroke="#000" stroke-width="1.5" fill="none"/><rect x="96.4" y="111.0" width="447.0" height="223.7" fill="none" stroke="#000" stroke-width="1.7"/><text x="320.5" y="80" text-anchor="middle" font-size="21" letter-spacing="0.9" word-spacing="3.5">density of cloud</text><text x="33.5" y="95" font-size="12.5" letter-spacing="1.45" stroke="#000" stroke-width="0.3">(×1000 m)</text><text x="484.5" y="366.2" font-size="12.5" letter-spacing="1.55" stroke="#000" stroke-width="0.3">(×1000 m)</text><text x="320" y="387" text-anchor="middle" font-size="16" letter-spacing="1.5">X coordinate</text><text transform="translate(64.5,220.5) rotate(-90)" x="0" y="0" text-anchor="middle" font-size="16" letter-spacing="1.15">Z coordinate</text><text x="90.3" y="283.5" text-anchor="end" font-size="12.5" letter-spacing="1" stroke="#000" stroke-width="0.45">5</text><text x="90.3" y="226.7" text-anchor="end" font-size="12.5" letter-spacing="1" stroke="#000" stroke-width="0.45">10</text><text x="90.3" y="170.0" text-anchor="end" font-size="12.5" letter-spacing="1" stroke="#000" stroke-width="0.45">15</text><text x="131.1" y="350.9" text-anchor="middle" font-size="12.5" letter-spacing="1" stroke="#000" stroke-width="0.45">4</text><text x="167.2" y="350.9" text-anchor="middle" font-size="12.5" letter-spacing="1" stroke="#000" stroke-width="0.45">8</text><text x="203.4" y="350.9" text-anchor="middle" font-size="12.5" letter-spacing="1" stroke="#000" stroke-width="0.45">12</text><text x="239.5" y="350.9" text-anchor="middle" font-size="12.5" letter-spacing="1" stroke="#000" stroke-width="0.45">16</text><text x="275.6" y="350.9" text-anchor="middle" font-size="12.5" letter-spacing="1" stroke="#000" stroke-width="0.45">20</text><text x="311.7" y="350.9" text-anchor="middle" font-size="12.5" letter-spacing="1" stroke="#000" stroke-width="0.45">24</text><text x="347.8" y="350.9" text-anchor="middle" font-size="12.5" letter-spacing="1" stroke="#000" stroke-width="0.45">28</text><text x="384.0" y="350.9" text-anchor="middle" font-size="12.5" letter-spacing="1" stroke="#000" stroke-width="0.45">32</text><text x="420.1" y="350.9" text-anchor="middle" font-size="12.5" letter-spacing="1" stroke="#000" stroke-width="0.45">36</text><text x="456.2" y="350.9" text-anchor="middle" font-size="12.5" letter-spacing="1" stroke="#000" stroke-width="0.45">40</text><text x="492.3" y="350.9" text-anchor="middle" font-size="12.5" letter-spacing="1" stroke="#000" stroke-width="0.45">44</text><text x="528.4" y="350.9" text-anchor="middle" font-size="12.5" letter-spacing="1" stroke="#000" stroke-width="0.45">48</text><text x="551" y="119.8" font-size="12" fill="#333" letter-spacing="1.27">t=496800 s</text><rect x="555.0" y="326.66" width="13.0" height="8.04" fill="#4800b0"/><rect x="555.0" y="318.63" width="13.0" height="8.04" fill="#2800a8"/><rect x="555.0" y="310.59" width="13.0" height="8.04" fill="#1000c0"/><rect x="555.0" y="302.56" width="13.0" height="8.04" fill="#0010f0"/><rect x="555.0" y="294.52" width="13.0" height="8.04" fill="#0040f0"/><rect x="555.0" y="286.49" width="13.0" height="8.04" fill="#0070f0"/><rect x="555.0" y="278.45" width="13.0" height="8.04" fill="#00a8f0"/><rect x="555.0" y="270.42" width="13.0" height="8.04" fill="#00f0f0"/><rect x="555.0" y="262.38" width="13.0" height="8.04" fill="#00f0c8"/><rect x="555.0" y="254.35" width="13.0" height="8.04" fill="#00f890"/><rect x="555.0" y="246.31" width="13.0" height="8.04" fill="#00f000"/><rect x="555.0" y="238.28" width="13.0" height="8.04" fill="#90f000"/><rect x="555.0" y="230.25" width="13.0" height="8.04" fill="#c8f000"/><rect x="555.0" y="222.21" width="13.0" height="8.04" fill="#f0f000"/><rect x="555.0" y="214.17" width="13.0" height="8.04" fill="#f0d000"/><rect x="555.0" y="206.14" width="13.0" height="8.04" fill="#f0a000"/><rect x="555.0" y="198.10" width="13.0" height="8.04" fill="#f07800"/><rect x="555.0" y="190.07" width="13.0" height="8.04" fill="#f05000"/><rect x="555.0" y="182.03" width="13.0" height="8.04" fill="#f02000"/><rect x="555.0" y="174.00" width="13.0" height="8.04" fill="#e01828"/><path d="M555.0 326.66H568.0M555.0 318.63H568.0M555.0 310.59H568.0M555.0 302.56H568.0M555.0 294.52H568.0M555.0 286.49H568.0M555.0 278.45H568.0M555.0 270.42H568.0M555.0 262.38H568.0M555.0 254.35H568.0M555.0 246.31H568.0M555.0 238.28H568.0M555.0 230.25H568.0M555.0 222.21H568.0M555.0 214.17H568.0M555.0 206.14H568.0M555.0 198.10H568.0M555.0 190.07H568.0M555.0 182.03H568.0" stroke="#000" stroke-width="1.3"/><path d="M555.0 174.0L561.5 146.5L568.0 174.0Z" fill="#f8aca8" stroke="#000" stroke-width="1.3"/><rect x="555.0" y="174.0" width="13.0" height="160.7" fill="none" stroke="#000" stroke-width="1.5"/><text x="574" y="339.5" font-size="12" font-weight="bold" letter-spacing="0.4">1e−16</text><text x="574" y="315.4" font-size="12" font-weight="bold" letter-spacing="0.4">3.75e−5</text><text x="574" y="291.3" font-size="12" font-weight="bold" letter-spacing="0.4">7.5e−5</text><text x="574" y="267.2" font-size="12" font-weight="bold" letter-spacing="0.4">1.12e−4</text><text x="574" y="243.1" font-size="12" font-weight="bold" letter-spacing="0.4">1.5e−4</text><text x="574" y="219.0" font-size="12" font-weight="bold" letter-spacing="0.4">1.88e−4</text><text x="574" y="194.9" font-size="12" font-weight="bold" letter-spacing="0.4">2.25e−4</text></g>
<g transform="translate(640,0)"><clipPath id="cp_theta"><rect x="96.4" y="111.0" width="447.0" height="223.7"/></clipPath><g clip-path="url(#cp_theta)"><rect x="96.4" y="111.0" width="447.0" height="223.7" fill="#7400b4"/><path fill-rule="evenodd" fill="#3800a8" d="M420.8 288.8L419.8 289.2L420.8 290.2ZM413.8 285.8L414.2 287.8L414.8 286.2ZM526.8 161.8L527.2 162.8L528.2 162.2ZM103.8 151.8L103.8 154.2L105.2 155.8L109.8 156.2L113.8 159.2L116.8 159.2L120.2 157.2L124.2 157.2L126.8 158.8L129.2 158.8L135.8 154.8L140.2 155.2L141.8 156.8L135.2 159.2L132.8 161.8L130.8 161.8L129.8 163.2L130.2 165.2L127.8 166.8L124.8 166.8L121.2 163.8L114.8 163.8L111.2 165.8L106.2 165.8L105.2 166.8L105.2 171.8L113.8 177.2L113.2 180.2L110.8 183.8L112.2 186.2L119.2 185.2L120.8 187.8L126.2 188.8L130.8 192.2L128.2 192.8L124.8 191.8L121.2 193.8L120.8 196.2L124.2 205.8L120.2 209.8L120.2 211.8L121.2 212.8L128.8 212.2L130.2 213.8L124.8 215.2L122.8 216.8L124.2 221.8L122.8 224.2L122.8 226.8L119.8 229.8L119.8 233.2L120.8 234.2L120.2 235.8L115.8 235.8L113.8 233.8L110.8 232.8L106.2 233.8L103.8 227.2L96.2 228.8L96.2 298.2L100.8 298.2L102.8 299.8L101.2 301.8L96.2 301.8L96.2 334.8L152.2 334.8L152.2 331.2L153.2 330.2L154.2 325.2L152.8 321.2L153.2 319.2L151.2 316.8L151.2 315.2L154.2 310.8L155.2 307.2L152.8 305.2L150.8 305.2L149.2 302.8L152.8 298.2L153.8 298.8L152.2 301.2L152.2 303.2L156.8 306.8L156.8 309.8L154.8 313.2L155.2 324.2L160.8 327.2L165.2 326.8L162.2 329.2L157.8 328.2L155.8 330.8L156.2 334.8L543.8 334.8L543.8 310.2L537.2 312.2L534.2 316.2L531.2 314.2L534.2 320.2L534.2 322.8L531.8 324.8L526.8 321.2L523.2 321.8L521.8 325.2L519.8 323.2L514.8 323.8L513.8 322.8L514.2 320.8L517.2 320.2L521.2 315.8L523.2 315.8L526.2 318.2L527.2 317.8L524.8 314.2L524.8 312.8L529.2 311.2L531.2 311.8L534.2 310.2L538.8 301.2L543.8 303.2L543.8 201.2L540.8 200.8L537.8 198.8L533.8 198.8L529.2 200.2L527.2 198.8L525.2 194.2L519.2 193.2L519.8 187.8L520.8 186.2L520.8 181.2L527.2 175.8L527.8 172.2L523.8 171.8L520.8 172.8L519.2 171.2L520.2 168.2L519.8 166.8L516.8 164.2L510.2 162.2L511.8 157.8L511.2 155.8L505.8 149.2L507.8 141.2L504.8 138.2L499.8 137.8L501.2 136.2L503.8 136.2L507.8 134.2L517.8 134.8L519.8 133.8L521.8 133.8L526.2 137.8L528.8 137.8L543.8 133.2L543.8 111.2L515.8 111.2L515.8 113.2L514.8 114.2L509.8 114.2L507.2 115.2L502.8 122.2L498.2 121.8L494.8 125.2L489.8 125.8L486.2 132.8L488.8 136.2L482.2 138.8L477.2 137.8L472.2 138.2L472.2 136.8L475.8 134.2L476.8 130.2L475.8 128.8L468.2 124.8L461.8 127.2L459.2 127.2L455.2 124.8L451.2 124.8L447.2 127.2L444.2 126.8L441.8 127.8L437.8 127.8L435.2 125.8L432.2 125.8L428.8 127.8L426.8 125.2L418.8 121.8L419.2 118.8L422.8 121.2L425.2 121.2L427.2 119.8L428.8 117.2L428.8 111.2L272.8 111.2L271.2 116.8L274.2 119.8L277.8 119.8L280.8 117.8L283.2 117.8L284.2 118.8L283.2 122.2L285.8 123.8L291.2 124.2L297.8 122.8L303.8 124.8L309.8 124.8L310.2 127.8L311.8 129.2L307.2 133.2L303.2 132.2L299.8 129.2L290.8 130.8L283.2 130.2L277.2 133.8L271.2 129.8L267.8 130.2L264.2 132.2L255.2 131.2L259.2 128.2L260.8 125.2L260.8 120.8L258.8 117.2L259.8 111.2L210.8 111.2L211.2 116.2L208.2 121.8L208.2 124.2L209.8 127.2L208.2 128.2L204.8 128.2L201.2 126.2L197.2 126.8L192.8 124.2L190.2 124.8L187.2 127.2L184.2 124.8L177.2 124.2L172.2 125.8L170.2 127.8L166.2 129.2L164.8 131.2L164.8 133.8L166.2 136.2L164.2 141.8L165.2 144.8L169.8 146.8L175.8 147.2L176.2 148.8L175.2 152.2L176.8 153.2L178.8 153.2L182.2 151.2L185.8 154.2L190.8 154.8L192.8 160.2L187.8 162.8L181.8 159.8L177.2 160.8L169.8 159.8L169.2 156.2L170.8 154.2L170.8 152.2L167.8 151.8L160.2 147.8L157.8 148.2L158.8 152.2L158.2 154.8L151.8 154.8L150.8 153.2L152.2 150.2L152.2 147.8L146.8 142.8L136.2 145.2L128.8 141.8L122.2 142.2L112.8 145.2L110.2 149.2ZM477.2 327.8L478.2 327.2L479.8 328.8L478.8 329.8ZM474.2 325.2L475.2 324.2L477.8 325.2L475.2 326.2ZM512.2 315.2L512.8 317.8L511.2 318.8L509.8 317.2ZM148.8 314.8L149.2 314.2L150.2 315.8L149.8 316.2ZM148.2 313.8L148.8 313.2L149.2 314.2L148.8 314.8ZM254.8 290.2L256.8 292.8L256.2 295.2L253.8 298.2L255.8 307.2L250.8 311.8L250.8 314.2L253.8 316.8L252.8 318.8L248.8 314.2L248.8 312.2L253.2 308.2L253.2 303.8L251.8 296.2L250.8 294.8L248.2 294.2L247.8 292.8L249.8 291.2L253.2 291.2ZM202.2 283.8L202.8 285.2L201.2 288.2L201.2 292.2L199.8 293.2L195.2 293.8L194.2 296.2L191.8 297.2L188.8 300.2L187.8 298.2L189.8 295.2L189.8 291.8L191.2 290.2L196.8 289.2L199.8 285.2ZM405.2 285.8L406.2 284.8L409.8 285.2L412.2 284.2L411.8 281.8L413.2 280.2L419.8 281.2L424.2 279.2L429.2 281.8L433.2 281.8L436.2 285.2L443.2 285.8L445.2 287.8L446.8 291.8L441.8 292.8L436.2 296.2L434.2 296.2L431.8 293.8L428.8 292.8L414.2 292.8L412.2 294.8L410.8 291.8L406.2 288.8ZM118.2 277.8L118.2 275.8L122.8 273.2L126.8 274.8L129.2 274.8L132.2 273.2L133.2 274.2L131.8 277.2L127.8 277.2L123.2 279.8L120.2 279.2ZM303.2 276.2L304.8 272.8L306.8 271.8L309.8 273.2L324.2 274.2L325.2 275.2L325.2 278.8L322.2 280.2L317.8 280.2L303.8 277.8ZM123.2 237.2L127.8 234.2L129.2 235.8L129.8 238.2L128.2 239.2ZM420.2 221.8L420.8 218.8L431.2 218.2L452.2 219.2L449.8 221.2L441.2 221.8L439.8 222.8L435.2 221.2L434.2 221.8L435.2 226.8L432.8 230.2L429.2 229.2L427.8 227.8L427.8 221.8L422.8 222.8ZM454.2 218.8L458.8 215.8L468.2 216.2L471.8 218.2L471.2 219.8L467.8 219.2L465.8 223.8L463.2 223.8L458.8 220.8L454.8 219.8ZM145.8 215.8L138.8 217.8L134.8 214.8L139.8 213.8L143.2 211.2ZM283.2 189.2L283.2 191.2L281.2 193.8L272.8 193.8L271.8 196.8L268.2 198.8L262.2 200.2L259.2 198.8L256.2 199.2L253.2 202.8L251.2 203.2L249.2 205.2L249.2 207.2L251.2 209.8L248.2 211.2L240.8 210.2L239.8 206.8L234.2 205.2L229.2 206.8L226.2 206.8L222.8 205.2L224.2 201.8L224.2 195.8L227.2 196.2L229.8 198.8L231.2 202.2L234.2 202.8L237.2 201.2L239.2 197.2L242.8 194.8L246.8 194.8L252.2 196.8L260.8 196.2L265.2 197.8L267.2 197.2L268.8 195.8L268.8 193.2L266.8 191.2L267.2 189.2L270.2 185.8L274.2 183.8L281.2 185.8ZM233.2 179.8L234.2 178.2L236.8 178.8L234.8 180.8ZM240.2 175.8L241.2 174.8L242.8 175.2L241.2 176.2ZM433.8 181.8L428.2 184.2L424.8 183.2L412.2 184.2L409.2 181.8L401.2 182.8L397.2 180.2L395.8 180.2L391.8 182.2L388.2 187.2L379.2 186.8L373.8 189.2L370.8 186.8L365.2 186.8L365.2 183.2L367.8 178.2L368.8 172.8L377.8 173.2L384.8 172.2L392.2 173.8L395.2 175.8L400.2 175.2L403.2 170.8L404.8 170.8L408.8 174.2L428.8 172.8L433.2 175.8ZM232.2 163.2L234.2 164.8L238.8 164.8L240.2 165.8L240.2 166.8L236.8 168.8L234.8 171.8L233.8 171.2L233.8 166.2L231.2 164.8ZM264.2 162.2L263.8 167.2L266.2 171.2L264.2 172.8L256.8 172.2L255.2 173.8L255.2 175.8L262.2 178.8L263.2 179.8L263.2 181.8L261.8 182.8L259.8 181.2L256.8 180.8L252.8 183.8L250.8 188.2L249.8 185.8L251.8 183.2L251.2 181.2L248.2 178.2L247.2 175.8L242.2 174.8L247.8 172.8L249.2 171.2L250.2 166.8L257.2 166.8L260.2 165.8L263.2 162.2ZM476.2 164.2L472.2 167.2L472.2 169.2L470.2 171.8L467.2 171.8L463.2 168.8L459.8 170.2L459.8 173.8L464.2 177.2L463.8 178.2L455.2 180.8L453.2 182.2L451.8 185.2L450.2 185.2L447.8 183.2L448.2 174.2L449.8 170.2L456.2 162.2L458.8 161.8L462.2 163.8L471.8 161.8ZM352.8 167.2L352.2 168.8L348.8 168.2L343.2 171.8L340.8 171.8L336.2 168.8L334.8 168.8L330.2 171.8L326.8 171.8L323.2 170.8L321.2 168.8L320.8 164.2L323.2 161.8L328.8 162.2L333.2 164.2L338.2 164.2L345.2 161.2L346.8 165.2L350.8 165.8ZM477.8 164.2L491.2 159.8L494.8 161.8L505.2 163.8L505.8 164.8L502.2 167.2L498.8 165.2L495.8 165.2L491.8 168.2L487.8 166.8L483.8 167.2ZM304.2 157.8L306.2 155.8L308.8 155.8L312.8 157.2L317.2 156.8L318.8 158.2L317.8 159.2L314.8 159.2L308.8 161.2ZM273.8 151.2L272.8 153.2L267.8 152.8L263.8 157.2L260.2 156.8L254.2 153.8L250.8 150.8L245.8 151.8L238.8 155.2L231.8 152.8L229.8 154.2L230.8 158.2L226.8 160.2L223.2 158.8L220.8 158.8L218.2 160.2L212.2 159.2L207.2 159.8L205.8 158.2L205.8 156.8L201.8 156.2L198.8 153.8L194.8 153.2L195.8 151.2L197.8 150.2L200.8 151.8L207.8 151.2L213.2 154.8L218.2 155.2L223.8 153.2L226.8 149.8L231.2 149.8L234.2 144.2L233.2 139.8L230.8 137.2L224.8 135.2L223.8 133.8L223.8 131.2L226.2 129.2L234.2 130.2L238.8 128.2L244.2 128.8L249.8 131.8L243.8 138.2L244.2 143.2L245.8 145.2L252.2 145.8L254.2 146.8L265.2 147.2L266.8 149.8L270.2 149.8L272.2 148.8ZM316.2 129.2L318.2 127.8L319.2 128.2L318.8 129.8ZM386.8 119.2L388.2 118.2L394.8 119.2L399.2 115.2L404.8 117.8L406.8 122.2L416.8 123.2L417.2 124.2L416.2 125.2L411.8 125.8L406.8 129.8L406.8 130.8L408.8 133.2L411.2 133.8L418.8 129.8L419.2 128.2L426.8 129.8L428.2 132.8L426.2 134.8L420.2 134.8L417.8 140.2L419.2 142.2L424.2 141.2L424.8 142.2L420.2 144.8L416.8 143.8L409.2 144.2L407.8 142.2L407.8 138.8L395.8 136.8L392.8 132.8L390.8 127.8L387.2 126.2L387.8 123.2L386.8 121.8ZM96.2 111.2L96.2 127.8L104.8 128.2L110.8 130.8L115.2 130.8L122.8 127.2L126.8 130.8L130.8 131.2L133.2 130.2L136.2 127.2L138.2 127.2L142.2 129.2L145.8 129.2L147.8 128.2L161.8 128.2L162.8 126.8L158.8 118.8L163.2 116.8L164.2 111.2Z"/><path fill-rule="evenodd" fill="#1000b0" d="M426.2 126.2L421.2 123.8L419.2 123.8L417.8 126.2L412.8 126.2L408.8 131.8L410.2 132.8L412.8 132.2L416.8 129.2L418.2 126.8L426.2 128.2ZM105.2 152.8L106.2 154.8L109.8 154.8L113.2 158.2L115.2 158.8L120.2 156.2L123.2 156.2L128.2 158.2L134.8 154.2L139.8 154.2L143.2 156.2L142.2 158.2L137.8 158.8L133.2 162.2L131.8 162.2L130.8 163.2L131.8 165.2L129.8 166.8L125.8 167.8L120.2 164.2L115.2 164.2L111.8 166.2L106.2 166.8L105.8 170.8L107.2 172.8L109.8 173.2L114.8 176.8L114.8 178.8L112.2 182.8L112.8 184.8L120.2 184.8L121.8 187.2L126.2 187.8L132.2 192.2L131.2 194.2L127.2 192.8L124.2 192.8L122.2 194.2L121.8 196.2L125.2 205.8L121.2 209.8L121.8 211.8L123.8 212.2L127.8 211.2L133.2 213.2L138.8 213.2L143.2 210.2L146.8 214.8L151.2 214.2L151.8 215.2L140.8 218.2L137.8 218.2L132.8 215.2L125.8 215.8L123.8 217.2L124.8 222.8L123.2 227.8L120.8 229.8L120.8 232.8L122.2 235.2L124.2 235.8L127.2 231.8L130.8 236.8L130.8 238.8L129.8 239.8L126.8 239.8L119.8 236.8L115.2 236.2L112.2 233.8L106.2 234.8L104.8 233.2L103.2 228.2L96.2 229.2L96.2 294.8L98.2 294.8L100.2 296.8L104.8 298.8L106.8 301.8L113.2 301.2L115.2 304.2L109.8 306.2L106.2 306.2L104.8 308.2L101.2 309.8L96.2 306.2L96.2 334.8L148.2 334.8L148.8 331.2L147.2 327.2L150.8 325.2L150.8 322.8L145.2 318.8L146.2 314.2L145.8 311.2L147.2 309.8L151.8 308.2L147.8 305.2L147.8 302.2L149.8 299.8L153.2 297.8L154.2 299.2L152.8 302.2L157.2 306.8L157.2 309.8L155.8 312.2L155.8 322.8L161.2 326.8L162.8 326.8L166.8 323.8L168.2 324.8L165.2 330.2L161.2 331.2L161.8 334.8L543.8 334.8L543.8 318.8L538.2 318.8L535.8 323.8L531.2 326.2L526.2 322.8L524.8 324.2L524.8 328.2L521.8 328.8L518.2 325.2L514.2 325.2L512.8 323.8L512.8 321.8L507.8 318.2L507.8 316.8L513.2 311.2L514.8 312.2L516.8 316.8L519.2 312.2L522.2 312.2L529.8 307.2L533.8 307.2L536.8 299.8L538.8 298.2L543.8 300.8L543.8 201.8L540.8 201.2L537.2 199.2L528.8 200.8L524.2 194.8L518.2 193.8L519.8 181.2L526.8 174.8L526.8 172.8L520.2 173.2L518.2 171.2L519.2 168.2L518.8 166.8L511.2 163.2L507.8 164.2L502.8 168.2L501.2 168.2L497.8 165.8L495.2 166.2L492.8 168.8L490.8 168.8L489.2 167.8L482.8 167.8L477.2 165.2L473.8 166.8L472.8 170.2L469.8 172.8L466.8 172.2L463.8 169.8L460.8 170.2L460.2 171.8L461.2 174.2L465.2 176.8L464.2 178.8L454.2 182.2L452.2 185.8L449.8 185.8L446.8 183.8L447.2 174.2L448.8 169.8L455.8 161.2L457.8 160.8L461.8 162.8L464.8 162.8L468.8 161.2L472.8 161.2L474.8 162.8L479.8 162.8L482.8 161.2L492.2 159.2L495.8 161.2L503.2 162.8L508.2 162.2L510.8 157.8L510.2 155.8L504.8 148.8L506.2 140.8L504.2 139.2L499.8 139.2L498.2 138.2L498.2 136.8L499.2 135.8L502.2 135.8L507.2 133.8L517.2 134.2L521.2 132.8L524.8 136.2L528.2 137.2L531.2 135.8L536.2 135.2L539.8 133.2L543.8 132.8L543.8 111.2L516.8 111.2L516.8 113.8L515.2 115.2L510.8 114.8L508.2 115.8L503.2 123.2L498.2 122.8L496.2 125.8L490.2 126.8L487.8 131.8L487.8 133.8L491.8 137.2L490.8 138.8L488.8 137.8L484.8 137.8L482.8 139.2L471.8 138.8L470.8 137.8L475.8 133.2L475.8 130.2L468.8 125.8L466.2 125.8L460.8 128.2L454.8 125.2L450.8 125.8L447.8 127.8L437.8 128.8L434.8 126.8L432.2 126.8L428.2 128.8L429.2 133.2L427.8 134.8L420.8 136.8L419.8 139.2L420.2 140.8L423.8 139.8L425.8 141.2L425.2 143.2L421.2 145.2L415.2 144.2L408.8 144.8L406.8 143.2L406.2 139.2L402.8 139.2L395.2 137.2L391.8 133.2L390.2 128.2L386.2 127.2L386.8 122.8L385.8 119.2L388.2 117.2L394.2 118.8L399.8 114.8L405.2 117.2L407.8 121.8L416.2 122.8L418.2 121.2L418.2 116.8L423.2 120.2L425.2 120.2L427.8 116.2L426.8 111.2L273.2 111.2L272.2 117.2L273.8 118.8L276.8 119.2L280.2 117.2L283.8 117.2L285.2 118.2L284.2 121.8L286.2 123.2L290.8 123.8L294.2 122.2L298.2 122.2L304.8 124.2L309.8 123.8L311.2 124.8L311.2 127.8L312.8 128.8L315.2 128.8L319.8 125.2L320.8 127.2L319.8 129.8L318.2 130.8L313.2 130.2L307.2 133.8L303.8 133.2L299.2 129.8L294.8 131.2L281.8 131.2L277.2 134.2L275.2 133.8L270.8 130.2L264.8 132.8L254.8 132.2L248.8 133.2L244.2 139.8L246.2 144.8L255.2 146.2L266.8 146.2L267.8 148.8L270.8 148.8L272.2 147.8L273.8 148.2L274.2 153.2L268.8 153.2L264.8 157.8L259.8 157.2L253.8 154.2L251.2 151.8L248.2 151.8L239.8 155.8L236.2 155.8L232.2 153.8L230.8 154.8L231.8 158.8L227.2 160.8L224.8 160.8L221.8 159.2L215.8 161.2L211.2 159.8L206.2 160.2L203.8 157.2L196.2 154.2L192.8 156.8L193.8 159.2L193.2 160.8L189.8 162.8L186.8 163.2L182.8 160.8L176.2 161.2L171.8 160.2L169.2 161.2L167.8 159.2L169.2 153.2L161.2 149.2L159.8 149.2L160.2 154.8L158.8 156.2L150.2 155.8L149.2 154.2L150.8 151.8L151.2 148.2L150.2 146.2L146.2 143.8L135.2 145.8L129.2 142.8L125.2 142.8L114.2 145.8L111.2 150.8ZM470.8 324.2L473.2 321.2L476.8 321.2L481.8 324.8L481.8 327.2L482.8 324.8L486.2 324.8L486.8 326.8L485.2 328.8L478.2 331.2L472.8 328.2L470.8 326.2ZM143.8 307.8L145.2 306.8L146.2 308.2L144.2 308.8ZM255.2 288.8L257.8 292.2L255.2 299.2L258.2 308.2L254.2 312.8L256.2 318.2L252.8 320.2L247.8 314.2L248.2 311.2L251.8 307.8L250.8 298.8L248.2 295.8L245.8 294.8L245.2 292.2L246.2 291.2L252.2 290.2ZM360.2 287.2L364.8 282.8L372.2 286.2L372.2 287.8L369.2 290.2L365.2 287.2L362.2 288.2ZM202.2 282.8L203.8 284.2L202.2 287.2L202.8 294.2L200.8 297.2L200.2 300.2L198.8 301.8L196.2 301.8L192.8 298.8L189.2 302.2L188.2 302.2L186.8 300.8L186.2 297.8L187.8 293.8L187.2 292.2L189.8 287.8L195.8 287.2L196.2 283.8L199.8 282.2ZM493.2 279.8L495.2 280.2L497.2 282.8L494.2 286.2L496.2 289.8L494.8 291.2L492.8 289.8ZM402.2 280.8L403.8 278.8L405.8 279.2L411.8 277.2L416.2 280.2L420.2 280.2L422.2 278.8L425.2 278.8L428.8 280.8L439.8 279.8L440.2 281.2L439.2 283.2L441.2 283.8L443.8 282.8L447.8 286.8L450.2 293.8L449.2 295.8L447.8 295.8L445.2 293.2L442.8 293.2L435.2 297.8L429.8 295.2L427.2 295.2L424.8 296.2L424.2 298.2L421.2 299.8L415.2 297.2L412.2 299.2L410.8 297.8L409.8 294.2L405.2 291.2L404.2 289.2L404.2 284.2L402.2 282.2ZM134.2 273.2L132.8 277.2L128.2 277.8L123.8 280.2L119.2 279.8L117.2 278.2L117.2 275.2L122.2 272.8L129.8 273.8L133.2 272.2ZM302.2 275.8L304.2 271.2L306.2 270.8L310.8 272.8L314.8 272.2L319.8 273.8L325.8 273.8L326.2 279.2L321.8 281.2L307.2 279.8L303.2 278.8L302.2 277.8ZM472.8 218.8L470.8 220.8L468.2 220.2L466.8 224.2L462.2 224.2L458.2 221.2L452.8 220.8L449.8 222.2L442.2 223.2L440.2 224.8L437.2 224.8L436.2 228.8L433.2 231.2L429.2 230.2L426.8 228.2L425.8 222.8L420.8 223.8L419.2 222.2L419.2 218.8L420.8 217.2L452.2 217.8L458.2 214.8L469.2 215.8ZM283.8 187.8L283.8 192.2L281.8 194.2L273.8 194.2L271.2 198.2L263.2 200.8L257.2 199.8L250.8 206.2L253.2 209.2L251.8 211.2L239.8 211.8L239.2 207.8L231.8 206.2L228.2 208.2L225.8 208.2L222.2 206.8L221.2 205.2L223.2 201.2L222.2 196.2L223.8 194.8L226.2 194.8L230.8 198.8L232.2 201.8L234.2 201.8L237.2 199.8L240.2 194.8L244.8 193.8L254.2 196.2L261.8 195.8L266.8 196.8L268.2 194.8L265.8 191.2L269.8 185.2L274.8 182.8L282.2 185.8ZM232.2 178.8L233.8 177.8L237.2 177.8L237.8 179.8L233.8 181.8ZM434.8 175.2L434.8 181.8L433.2 183.2L427.8 185.2L423.2 183.8L412.2 185.2L409.2 182.8L400.2 183.2L397.8 181.8L394.2 181.8L390.2 185.2L388.8 188.8L385.2 187.2L380.8 187.2L373.2 190.2L370.2 187.8L364.8 187.8L364.8 182.2L366.8 178.8L367.8 172.8L368.8 171.8L375.8 172.8L385.8 171.8L392.8 173.2L394.8 174.8L399.2 174.8L403.2 169.8L404.8 169.8L409.8 173.8L428.8 171.8ZM232.2 161.8L235.8 164.2L239.8 164.2L241.2 165.8L241.2 166.8L237.8 168.8L234.8 172.8L232.8 171.2L232.2 166.8L228.2 166.2ZM264.8 161.2L265.8 162.2L264.8 164.2L264.8 167.8L267.2 171.2L264.8 173.2L257.8 172.8L255.8 174.2L256.8 176.2L263.8 179.2L263.8 182.8L262.2 183.8L259.2 181.8L255.8 182.2L250.8 189.8L248.8 186.2L250.2 183.8L250.2 181.2L245.8 175.8L239.8 177.2L238.8 175.8L241.2 173.8L247.2 172.2L248.8 170.2L248.8 167.2L250.2 165.8L256.8 166.2L260.2 164.8L263.2 161.2ZM354.8 169.2L352.8 169.8L349.2 168.8L342.8 172.8L340.2 172.2L337.2 169.8L333.8 169.8L330.8 172.8L327.2 172.8L320.8 169.8L319.8 164.2L322.2 161.2L323.8 160.8L327.8 161.2L333.8 163.8L338.2 163.8L346.2 160.2L347.2 164.8L352.2 165.8ZM303.2 157.2L306.2 154.2L312.2 155.8L316.8 155.2L319.2 157.2L319.8 159.2L318.8 160.2L315.2 159.8L308.8 161.8L304.2 159.8ZM259.2 111.2L211.2 111.2L211.8 118.2L209.2 121.8L209.2 124.8L210.8 126.8L210.2 128.2L205.2 129.2L202.2 127.2L196.8 127.2L193.8 125.2L190.8 125.2L187.8 127.8L181.8 124.8L173.8 125.8L165.8 130.8L166.8 138.2L165.2 140.8L165.2 143.2L170.8 146.2L176.8 146.8L177.2 148.2L175.8 151.2L177.2 152.8L182.8 150.2L186.2 153.8L192.2 154.2L196.2 149.8L198.8 149.8L201.2 151.2L206.8 150.2L215.8 154.8L219.8 154.2L223.8 152.2L226.2 149.2L230.8 148.8L233.2 144.2L232.2 139.8L230.2 137.8L224.2 135.8L223.2 134.8L222.8 131.2L225.8 128.8L232.8 129.8L239.8 127.2L245.2 128.2L251.2 131.2L257.2 129.2L260.2 124.2L259.8 120.8L257.8 117.8ZM96.2 127.2L104.8 127.8L109.2 129.8L114.8 130.2L123.2 126.8L126.2 129.8L128.8 130.8L132.8 129.8L136.8 126.2L142.8 128.8L147.2 127.8L161.2 127.8L161.8 125.2L158.2 120.8L157.8 118.8L162.8 115.8L163.8 111.2L96.2 111.2Z"/><path fill-rule="evenodd" fill="#0060f0" d="M415.8 127.2L413.2 127.2L410.2 131.2L412.2 131.2L415.8 128.2ZM419.8 125.2L424.8 127.2L421.2 124.8ZM106.2 167.8L106.2 170.8L107.2 172.2L109.8 172.8L111.8 174.8L115.2 176.2L114.8 180.2L112.8 183.2L113.2 184.2L120.8 184.2L121.8 186.8L128.2 188.2L133.2 192.8L131.8 194.8L127.2 193.2L124.8 193.2L122.8 194.8L122.8 197.8L125.8 204.2L125.8 206.2L121.8 210.8L123.2 211.8L128.2 210.8L133.8 212.8L138.2 212.8L141.2 210.2L143.8 209.8L145.8 211.2L147.2 214.2L151.2 213.2L153.2 214.8L153.2 215.8L139.2 219.2L132.2 215.8L128.2 215.8L124.8 217.2L125.8 221.8L124.2 227.2L121.2 230.2L121.2 232.2L123.2 234.8L124.2 234.8L125.8 230.8L127.2 230.2L129.2 232.2L131.2 236.8L131.2 239.2L130.2 240.2L126.8 240.2L117.8 236.8L114.8 236.8L111.8 234.2L106.2 235.2L104.2 233.2L103.2 228.8L96.2 229.8L96.2 292.8L98.8 292.8L102.2 295.8L104.8 295.8L107.2 293.2L109.2 293.2L112.8 295.8L117.8 295.8L120.2 299.8L119.8 305.2L116.2 308.8L111.2 308.2L107.2 311.2L102.2 313.2L96.2 311.8L96.2 334.8L146.8 334.8L146.8 331.8L144.8 327.8L146.2 321.8L144.2 318.8L145.8 313.2L145.2 311.8L140.8 308.2L146.2 303.8L147.8 300.2L152.2 297.8L154.8 298.2L153.8 302.2L157.8 306.2L157.8 309.8L156.2 312.8L157.2 317.2L156.2 320.2L156.8 322.8L161.2 325.2L163.2 325.2L166.8 322.2L171.8 325.2L174.2 325.8L175.8 327.8L174.2 330.8L170.8 331.2L168.2 334.8L472.2 334.8L471.8 332.8L467.2 329.8L467.2 327.2L471.2 319.2L473.8 319.2L480.8 322.2L483.2 322.2L486.8 320.2L487.8 321.2L487.8 323.2L489.2 322.8L490.8 323.8L486.8 329.8L481.2 331.8L482.8 333.2L482.8 334.8L543.8 334.8L543.8 320.8L539.2 321.2L537.8 322.8L537.2 325.2L534.2 327.2L526.8 326.2L526.2 329.2L524.8 330.8L522.8 330.8L520.2 329.8L516.8 326.2L512.2 327.8L511.2 326.8L511.2 321.8L507.8 320.2L506.2 318.2L506.8 315.8L509.2 312.8L509.2 311.8L505.8 309.2L506.8 308.2L510.2 308.8L513.8 306.8L516.2 309.2L521.2 310.8L527.2 305.8L532.8 304.2L534.8 299.2L538.8 295.8L539.8 292.8L541.2 291.2L543.8 290.8L543.8 201.8L540.8 201.8L537.8 199.8L533.8 199.8L528.2 201.2L524.2 195.2L517.8 194.2L519.2 181.2L526.2 173.8L519.2 173.2L517.8 171.2L518.2 166.8L511.8 163.8L507.2 165.2L502.8 168.8L501.2 168.8L497.8 166.2L496.2 166.2L493.2 169.2L490.8 169.2L489.2 168.2L482.2 168.2L477.2 165.8L474.2 167.2L472.8 171.2L470.8 172.8L467.2 172.8L463.8 170.2L461.8 170.2L460.8 171.8L461.2 173.2L464.8 175.8L465.8 177.8L459.2 181.2L455.8 181.8L452.2 186.2L450.2 186.2L445.8 183.2L446.8 181.2L446.8 174.2L448.2 169.8L455.8 160.8L459.2 160.8L461.8 162.2L469.2 160.8L473.2 160.8L475.2 162.2L479.8 162.2L482.8 160.8L492.2 158.8L495.8 160.8L503.2 162.2L507.2 162.2L509.8 159.8L509.8 156.2L504.2 149.8L505.2 141.8L503.8 140.2L498.8 139.8L496.8 136.8L498.2 135.2L502.8 135.2L508.2 133.2L517.8 133.8L519.2 132.8L522.2 132.8L526.2 136.8L528.8 136.8L543.8 132.2L543.8 111.2L517.2 111.2L517.2 114.2L515.8 115.8L511.2 115.2L507.8 116.8L507.2 119.2L503.8 123.8L498.8 123.2L497.2 125.8L491.8 126.8L488.8 131.2L488.8 133.2L492.8 136.2L492.8 139.2L487.2 137.8L482.8 139.8L471.2 139.2L470.2 137.8L475.2 133.2L475.2 130.2L469.2 126.2L465.8 126.2L462.2 128.2L458.8 128.2L455.2 125.8L451.8 125.8L448.8 127.8L437.2 129.2L434.2 127.2L432.8 127.2L429.2 129.2L430.2 133.2L423.8 137.2L423.8 138.8L426.2 141.2L426.2 142.8L421.2 145.8L415.2 144.8L408.8 145.2L406.2 143.2L405.2 139.8L394.8 137.8L391.2 133.8L390.2 129.2L389.2 128.2L385.8 127.8L386.2 122.8L385.2 119.2L388.8 116.8L391.8 118.2L394.8 118.2L398.8 114.2L406.2 117.2L407.8 121.2L416.2 122.2L417.2 121.8L416.8 117.2L418.2 115.8L421.2 116.8L423.2 119.2L425.8 118.2L426.8 116.2L425.8 111.2L327.2 111.2L327.2 114.2L325.2 117.2L323.2 117.2L320.2 114.2L320.2 111.2L273.8 111.2L272.8 117.2L273.8 118.2L277.2 118.8L280.2 116.8L283.8 116.8L285.8 118.2L284.8 121.8L287.2 123.2L291.2 123.2L295.2 121.8L305.2 123.8L310.2 123.2L311.8 124.2L311.8 127.2L312.8 128.2L317.2 127.2L319.2 124.8L321.2 125.8L321.2 127.2L319.2 130.8L313.2 130.8L308.2 133.8L303.8 133.8L299.8 130.2L293.2 131.8L283.8 131.2L278.2 134.2L275.2 134.2L271.2 130.8L269.2 130.8L263.8 133.2L253.8 132.8L248.8 133.8L244.8 139.8L246.2 144.2L261.8 146.2L267.8 145.8L268.8 148.2L271.8 147.2L274.2 147.8L274.8 153.8L273.8 154.8L268.8 153.8L265.8 157.8L261.8 158.2L253.8 154.8L251.2 152.2L248.2 152.2L239.8 156.2L236.2 156.2L233.8 154.8L231.8 154.8L232.8 158.8L227.2 161.2L224.8 161.2L222.2 159.8L218.2 161.2L213.8 161.2L211.8 160.2L205.8 160.8L204.2 158.2L197.8 154.8L196.2 154.8L193.2 156.8L194.2 160.2L187.2 163.8L181.8 160.8L177.8 161.8L171.2 160.8L168.2 162.2L166.2 157.8L167.8 154.2L161.8 150.8L160.8 157.8L156.8 161.2L155.2 161.2L152.8 159.8L149.2 159.8L148.2 158.8L148.2 154.8L150.2 150.8L149.8 146.8L146.2 144.8L135.8 146.2L129.2 143.2L125.2 143.2L115.2 146.8L113.8 152.2L112.2 153.8L112.2 155.8L113.8 157.8L116.8 157.8L119.8 155.8L123.8 155.8L128.2 157.8L134.8 153.8L142.2 154.2L144.2 157.2L142.8 158.8L137.2 159.2L134.2 162.2L131.8 163.2L132.2 166.2L128.2 167.8L124.2 167.8L120.8 164.8L114.8 164.8L110.8 166.8L107.2 166.8ZM237.8 311.2L238.2 312.8L236.2 315.2L229.2 316.2L225.2 319.2L224.2 318.8L224.8 316.2L227.8 313.2L227.8 309.8L230.2 307.2L232.2 307.2L234.2 309.8ZM501.8 302.8L502.8 302.2L504.2 304.2L503.2 304.8ZM500.2 301.2L501.2 300.8L502.2 302.2L501.8 302.8ZM363.2 298.2L364.2 296.8L366.2 297.2L365.2 299.2ZM375.8 293.8L377.2 293.2L377.8 294.2L376.8 295.2ZM356.2 282.2L357.2 283.2L356.8 284.2L355.2 283.2ZM238.2 280.2L239.8 279.8L242.8 280.8L246.2 279.8L247.8 282.2L247.8 288.8L251.2 289.2L253.2 286.8L255.8 287.2L257.8 289.2L258.2 295.2L256.8 299.2L258.2 303.8L261.2 307.8L257.8 312.8L257.8 316.8L261.8 319.2L260.8 320.2L257.2 320.2L253.2 321.8L250.2 321.2L246.8 313.8L247.2 311.2L250.2 308.2L250.2 306.2L248.2 303.8L249.2 298.8L244.8 295.2L243.8 291.8L240.2 288.8L240.2 287.8L243.2 285.8L243.2 282.8L242.2 281.8L238.8 282.2L237.8 281.2ZM197.8 279.2L204.2 283.8L204.2 285.8L202.8 287.8L202.8 290.2L204.2 293.2L201.8 297.8L200.8 303.8L199.8 304.8L191.8 301.8L187.8 304.8L186.2 303.2L183.8 297.2L184.2 291.8L188.2 286.2L189.2 280.8L193.2 282.2L195.8 279.2ZM375.8 279.8L376.2 283.8L375.2 286.8L376.2 291.2L374.2 293.2L367.2 296.2L365.2 291.2L363.8 290.8L358.2 291.8L356.8 290.2L356.8 284.8L358.2 284.8L362.8 281.8L370.2 281.2L373.2 278.2ZM492.2 277.8L498.2 281.8L499.8 285.8L497.2 290.2L494.8 292.2L492.8 292.2L490.8 289.2L491.8 281.8L491.2 279.2ZM400.8 278.8L401.8 277.8L406.8 278.2L412.2 276.8L417.8 280.2L422.2 278.2L425.2 278.2L428.8 280.2L432.8 280.2L443.2 278.2L446.8 280.8L446.2 283.8L450.8 286.8L449.2 289.2L451.2 294.2L450.2 296.8L448.2 298.2L444.2 294.2L442.8 294.2L435.8 298.8L431.8 298.8L427.8 297.2L423.8 300.2L414.2 300.2L413.2 301.8L410.8 301.8L409.2 300.2L408.2 295.8L404.2 292.2L403.2 285.2L400.2 283.8ZM465.2 273.2L464.2 276.2L458.8 275.8L462.8 272.2ZM134.8 272.8L134.2 276.2L132.8 277.8L127.8 278.2L124.8 280.2L119.8 280.2L117.2 279.2L116.2 277.8L117.2 274.2L122.8 271.8L129.2 273.2L133.2 271.2ZM301.8 275.2L304.8 270.2L306.8 270.2L310.8 272.2L314.2 271.8L319.2 273.2L325.8 272.8L327.2 274.2L327.2 279.8L325.8 281.2L321.8 282.2L305.2 280.8L302.2 278.8ZM418.8 223.2L418.8 217.2L419.8 216.2L424.8 216.8L426.8 212.8L429.8 210.2L431.8 210.2L434.2 214.8L436.8 215.8L441.8 215.8L443.8 214.8L445.8 210.2L451.2 210.2L462.8 215.2L466.2 214.8L470.8 215.8L473.2 218.2L472.2 220.8L468.2 221.2L468.8 222.8L466.8 224.8L462.2 224.8L458.2 221.8L452.8 221.2L439.2 227.8L432.8 232.2L427.2 230.2L425.2 228.2L424.2 224.2L420.8 224.8ZM284.2 187.8L284.2 192.8L281.8 194.8L274.2 194.8L271.8 198.8L263.8 201.2L260.2 201.2L259.2 200.2L256.8 200.8L253.2 206.8L258.2 210.8L257.8 211.8L238.8 212.2L238.8 208.8L237.8 207.8L232.2 206.8L228.8 209.2L224.8 209.2L220.8 206.2L220.8 203.8L222.2 201.8L221.8 195.8L223.2 194.2L227.2 194.8L232.8 201.2L236.2 200.2L238.2 196.2L241.8 193.8L247.8 193.8L254.2 195.8L261.8 195.2L266.8 196.2L267.2 193.8L265.2 191.2L265.8 189.2L269.2 184.8L270.8 184.8L273.8 182.8L281.2 184.8ZM231.8 178.8L233.8 177.2L238.8 177.8L238.8 179.8L233.8 182.8L232.8 182.2ZM435.2 174.8L434.8 182.8L427.2 185.8L423.2 184.2L411.8 185.8L408.8 183.2L400.2 183.8L397.2 182.2L394.2 182.2L390.8 185.2L389.8 189.2L385.2 187.8L380.8 187.8L373.2 190.8L370.2 188.2L364.2 188.2L364.2 182.2L366.2 178.8L367.2 172.2L368.2 171.2L375.2 172.2L385.8 171.2L392.8 172.8L397.2 174.8L399.2 174.2L402.8 169.2L404.8 169.2L409.8 173.2L428.8 171.2ZM231.8 161.2L236.2 163.8L239.8 163.8L241.8 165.8L239.8 168.8L237.2 169.8L235.8 172.8L232.2 171.8L232.2 168.2L231.2 166.8L227.2 166.8L227.2 165.8L229.8 164.2ZM265.8 161.2L266.2 163.2L264.8 166.2L267.8 171.2L265.8 173.2L257.8 173.2L256.2 174.2L257.2 176.2L262.8 177.8L264.2 179.2L264.2 183.2L262.2 184.2L259.2 182.2L256.8 182.2L253.8 185.2L252.2 189.8L250.2 190.2L248.8 188.2L249.8 181.2L246.2 176.8L243.8 176.2L241.2 177.8L238.8 177.8L238.2 175.2L242.8 172.8L247.2 171.8L248.2 170.2L248.2 166.8L249.2 165.8L257.2 165.8L260.2 164.2L262.2 161.2ZM356.2 170.2L353.8 170.8L351.2 169.2L348.8 169.2L343.8 172.8L340.2 172.8L337.2 170.2L335.2 169.8L330.8 173.2L327.2 173.2L321.8 171.2L320.2 169.8L319.2 163.8L320.8 161.2L323.8 160.2L328.2 160.8L333.2 163.2L338.8 163.2L346.8 159.2L347.2 163.8L353.8 166.2ZM302.2 158.2L304.8 154.8L304.8 152.2L305.8 151.2L312.2 153.8L317.2 153.2L319.8 151.8L325.8 151.2L328.8 155.2L327.8 156.2L323.8 153.8L319.2 153.8L318.2 155.2L320.2 157.8L320.2 160.2L315.8 160.2L311.2 162.2L308.8 162.2L305.8 160.2L303.8 160.2ZM294.8 135.8L295.2 135.2L295.8 136.2L295.2 136.8ZM319.2 113.8L320.2 114.8L319.8 116.8L322.2 118.8L314.8 121.8L313.8 120.8L313.8 116.2L317.8 113.8ZM258.8 111.2L211.8 111.2L212.2 118.8L209.2 122.8L211.2 126.8L210.2 128.8L205.8 129.8L201.8 127.2L196.8 127.8L192.2 125.2L187.8 128.2L182.2 125.2L175.2 125.8L166.2 130.8L166.2 133.8L167.8 136.8L165.8 142.8L170.8 145.8L176.8 146.2L177.8 147.2L176.8 149.8L177.2 152.2L179.2 151.8L182.2 149.2L186.2 153.2L192.2 153.8L196.2 149.2L198.2 149.2L201.2 150.8L207.8 150.2L215.2 154.2L221.2 153.2L225.8 149.2L230.8 148.2L232.8 144.2L231.8 139.8L227.8 136.8L224.2 136.2L222.8 134.8L222.2 131.2L225.8 128.2L233.8 129.2L238.2 127.2L244.8 127.8L250.8 130.8L257.2 128.8L259.8 124.8L259.2 120.8L257.2 117.8ZM96.2 126.8L104.2 127.2L110.8 129.8L115.2 129.8L121.8 126.2L123.2 126.2L128.2 130.2L132.2 129.8L135.8 126.2L138.8 126.2L142.2 128.2L147.2 127.2L159.8 127.8L161.2 126.8L161.2 125.2L157.8 120.8L157.2 118.8L162.2 115.8L163.2 111.2L96.2 111.2Z"/><path fill-rule="evenodd" fill="#00f0f0" d="M543.8 111.2L517.8 111.2L517.8 114.8L516.8 115.8L511.2 115.8L508.8 116.8L507.2 120.8L504.8 123.8L499.2 123.8L496.8 126.8L491.8 127.8L489.8 132.8L494.2 134.8L497.2 134.2L501.8 135.2L506.8 133.2L516.2 133.8L522.2 132.2L525.2 135.8L529.2 136.2L532.8 134.8L535.8 134.8L540.8 132.2L543.8 132.2ZM543.8 202.2L541.2 202.2L536.8 199.8L528.8 201.8L526.2 199.8L524.2 195.8L518.8 195.2L517.2 194.2L517.8 188.2L519.2 184.8L518.8 180.8L525.2 174.2L519.8 174.2L517.2 171.8L517.8 167.2L511.8 164.2L507.2 165.8L502.8 169.2L501.2 169.2L497.8 166.8L496.2 166.8L493.2 169.8L490.8 169.8L487.8 168.2L482.2 168.8L478.2 166.2L474.8 167.2L473.8 170.8L470.8 173.2L466.2 172.8L462.2 170.2L461.2 171.2L461.8 173.2L466.2 176.8L464.8 179.2L454.8 182.8L453.8 185.8L452.2 186.8L446.8 184.8L445.2 182.8L446.2 181.2L446.2 174.8L448.2 168.8L455.8 160.2L459.2 160.2L461.8 161.8L473.2 160.2L477.2 162.2L492.2 158.2L495.8 160.2L507.2 161.8L509.2 159.2L509.2 156.8L503.8 150.2L504.2 143.8L497.8 139.8L491.8 140.2L488.2 138.2L485.2 138.2L482.2 140.2L479.2 139.2L471.8 139.8L469.8 137.8L474.8 133.2L475.2 131.2L473.8 129.2L467.2 126.2L461.8 128.8L459.2 128.8L454.2 125.8L452.8 125.8L448.2 128.2L444.8 128.2L440.2 129.8L436.8 129.8L434.2 128.2L430.8 129.2L430.2 130.2L431.2 133.2L424.2 137.8L426.8 141.2L426.8 143.2L424.8 144.8L420.8 146.2L415.8 145.2L407.8 145.2L405.2 143.2L404.2 140.2L394.2 137.8L390.8 133.8L390.2 129.8L388.8 128.2L385.2 128.2L385.8 122.2L384.8 119.2L387.8 116.8L393.2 118.2L394.8 117.8L398.8 113.8L399.8 113.8L402.2 115.8L406.8 117.2L408.8 121.2L416.2 121.8L416.2 117.2L417.8 115.2L417.8 111.2L328.2 111.2L328.2 113.8L326.2 117.2L326.8 122.2L322.2 120.2L319.2 120.2L312.2 124.8L312.8 127.8L315.8 127.8L319.2 124.2L320.2 124.2L321.8 127.2L319.2 131.2L314.2 130.8L307.8 134.2L304.2 134.2L299.8 130.8L295.2 131.8L282.2 131.8L277.8 134.8L273.8 133.8L271.8 131.2L268.8 131.2L265.2 133.2L255.8 132.8L249.2 133.8L245.2 139.2L246.8 144.2L251.2 144.2L256.2 145.8L268.8 145.2L269.8 146.8L273.2 146.2L274.8 147.8L275.2 154.2L274.2 155.2L270.2 153.8L268.2 154.2L267.2 156.8L265.2 158.2L260.2 158.2L253.8 155.2L250.2 152.2L239.8 156.8L236.2 156.8L232.8 155.2L233.2 160.8L236.2 163.2L240.8 163.8L242.2 165.8L240.2 168.8L237.2 170.2L236.2 173.2L233.8 173.2L232.2 172.2L231.2 167.2L227.8 167.8L226.8 166.8L231.2 160.8L226.8 161.8L222.8 160.2L217.8 161.8L205.2 160.8L203.2 158.2L198.2 155.2L196.2 155.2L193.8 157.2L194.8 160.2L189.2 163.8L185.8 163.8L182.2 161.2L171.2 161.2L167.8 163.2L163.8 161.2L155.8 162.2L152.8 160.8L148.2 160.2L146.8 158.8L149.2 150.8L149.2 147.8L146.2 145.8L133.8 146.2L129.2 143.8L125.8 143.8L123.2 144.8L121.2 147.2L118.2 147.2L115.8 149.2L115.8 152.2L113.8 154.8L113.8 156.8L115.8 157.2L118.8 155.2L122.2 154.8L128.2 157.2L132.8 153.8L138.2 153.2L143.2 154.2L144.8 155.8L144.8 157.8L143.2 159.2L137.2 159.8L134.2 162.8L132.2 163.2L133.2 165.2L132.2 166.8L124.8 168.2L119.8 164.8L115.8 164.8L112.2 166.8L107.2 167.2L106.8 171.2L116.2 176.2L115.8 179.2L113.2 183.8L121.2 183.8L122.8 186.8L127.2 187.2L133.8 192.8L132.2 195.2L127.2 193.8L123.8 194.2L123.2 197.8L126.2 203.8L126.2 206.8L122.8 210.8L128.2 210.2L131.8 211.8L138.2 212.2L140.2 210.2L144.2 209.2L146.2 210.8L147.2 213.2L148.2 213.8L151.8 212.8L154.2 214.8L154.2 215.8L151.2 217.8L143.2 218.8L139.2 220.2L131.2 216.2L126.2 216.8L125.2 217.8L126.2 220.2L125.2 226.8L121.8 230.2L121.8 231.8L123.2 233.8L124.2 233.8L124.8 230.8L127.2 229.2L130.2 232.8L131.8 236.2L131.8 239.8L130.8 240.8L124.2 240.2L119.2 237.8L114.8 237.2L111.8 234.8L106.2 235.8L104.2 234.2L103.8 230.8L102.2 228.8L96.2 229.8L96.2 291.8L100.2 291.8L102.8 293.8L107.2 291.8L113.2 293.8L116.8 293.2L118.2 293.8L120.8 296.8L120.2 308.2L118.8 309.8L110.2 312.8L107.8 315.2L103.8 317.2L102.2 317.2L98.2 314.8L96.2 314.8L96.2 334.8L145.8 334.8L145.2 331.8L143.2 328.2L143.2 326.2L145.2 323.2L145.2 321.2L143.2 318.8L144.8 315.2L144.8 312.2L141.8 310.2L140.2 307.8L144.8 304.8L146.2 299.8L151.8 297.2L154.2 297.2L155.2 298.2L154.8 302.2L158.2 306.2L157.2 314.8L159.2 317.2L159.2 318.8L157.2 320.2L157.8 322.2L159.8 321.8L159.2 320.2L160.2 319.2L162.8 319.8L164.8 322.2L166.2 321.2L168.8 321.2L171.8 323.2L176.2 320.8L178.8 320.8L180.8 322.8L181.2 329.2L186.8 329.2L189.8 331.8L189.8 334.8L240.2 334.8L240.2 330.2L239.2 328.8L236.2 327.8L235.2 323.2L230.2 325.2L229.2 327.8L226.8 329.2L223.2 320.2L223.2 315.2L226.8 311.8L225.2 305.2L225.2 300.8L226.8 298.2L229.2 300.2L230.8 304.2L232.8 304.2L235.2 302.8L236.2 308.8L240.2 309.8L240.2 313.2L238.2 316.8L239.2 318.8L238.8 321.8L246.2 323.2L247.8 321.2L247.8 317.8L245.8 313.8L246.2 310.8L248.8 308.2L248.8 306.8L246.8 303.8L247.8 298.2L243.8 295.8L243.2 293.2L239.2 290.2L238.2 287.2L234.2 283.2L235.8 280.2L238.2 278.8L241.8 279.8L247.8 279.2L249.8 283.2L253.2 283.2L258.8 287.2L259.2 295.2L258.2 298.2L262.2 305.8L262.2 309.2L260.8 311.2L263.8 311.8L266.8 310.8L268.2 313.8L271.8 314.8L273.2 316.2L273.8 319.2L275.2 321.2L274.8 322.8L275.8 325.2L274.8 326.2L270.2 324.8L264.2 324.8L262.2 326.8L259.8 327.2L259.2 323.2L258.2 322.2L254.8 322.2L248.8 325.8L252.2 327.2L254.8 329.8L257.8 329.2L260.2 330.8L266.8 330.8L268.8 328.2L271.8 327.8L273.8 329.8L278.8 331.2L276.8 332.8L276.2 334.8L383.8 334.8L384.2 332.8L380.2 324.2L381.2 319.2L384.2 317.8L383.2 313.8L380.8 311.2L380.8 307.8L382.2 306.2L386.2 306.8L387.2 307.8L386.2 313.8L389.2 318.2L389.2 321.8L387.8 323.8L384.8 323.8L384.8 326.8L385.8 328.8L390.2 332.8L390.8 334.8L412.8 334.8L412.8 333.2L415.8 330.8L417.2 331.8L418.2 334.8L466.2 334.8L466.2 327.8L470.2 318.8L468.8 312.8L467.8 311.8L468.2 310.8L471.2 316.2L476.8 319.8L482.8 320.8L486.8 317.2L493.8 321.2L493.8 323.8L490.2 326.8L487.2 331.2L486.8 334.8L543.8 334.8L543.8 321.8L540.2 322.2L537.2 328.2L528.8 328.8L525.8 332.8L519.2 330.8L517.2 327.8L515.2 327.8L512.8 329.2L511.2 328.8L509.2 326.8L509.8 322.2L507.2 321.2L505.2 318.8L505.8 313.2L503.2 307.8L497.2 300.8L498.2 297.2L500.2 295.2L504.8 296.2L502.8 297.2L502.2 298.8L505.8 302.2L507.2 305.2L508.8 305.2L511.8 302.8L519.8 308.8L522.8 304.8L531.2 303.2L534.2 297.2L537.8 294.2L538.8 291.2L540.8 289.2L543.8 288.8ZM408.2 330.2L410.2 331.2L409.2 333.2L407.2 332.8ZM466.2 309.2L466.8 308.8L467.2 309.8L466.8 310.2ZM505.2 291.8L505.8 293.8L503.8 295.2L501.8 293.8L503.2 291.8ZM509.8 279.8L512.2 278.8L515.2 281.8L519.8 281.8L523.8 280.2L525.2 281.2L516.2 285.2L513.8 285.2L511.2 283.2ZM197.8 278.2L205.2 283.8L205.2 285.2L203.2 288.2L205.2 293.2L202.8 297.8L202.2 304.8L200.8 306.2L199.2 306.2L193.8 303.8L191.8 303.8L189.2 306.2L185.8 306.2L181.2 295.8L181.2 291.8L184.8 289.2L187.8 278.8L192.8 280.2L195.2 278.2ZM488.8 290.2L490.8 278.2L491.8 277.2L493.2 277.2L498.2 280.2L499.8 282.8L501.8 283.8L506.2 283.8L509.2 285.8L507.2 287.8L501.8 286.8L498.8 291.8L494.8 293.8L493.2 295.8ZM380.8 281.2L384.8 286.8L383.8 288.2L380.8 285.2L378.2 286.2L379.2 289.2L382.2 292.2L381.2 295.8L376.2 299.2L373.8 299.2L368.8 304.2L366.8 304.8L363.8 303.8L360.8 307.8L358.2 307.8L357.8 305.8L359.8 301.8L360.2 297.8L364.2 293.2L362.2 292.8L359.2 294.8L354.2 288.8L353.2 283.8L353.8 279.8L356.8 278.8L357.8 281.8L360.2 282.2L362.2 281.2L368.8 280.8L372.8 277.2L374.8 277.2ZM399.8 278.2L401.2 276.8L403.8 277.8L413.2 276.8L417.2 279.8L422.2 277.8L424.8 277.8L428.2 279.8L433.8 279.8L440.2 277.8L443.8 277.8L448.2 280.8L447.2 282.8L447.8 283.8L452.2 285.8L452.2 287.2L450.2 289.2L452.2 293.2L451.8 296.2L449.2 299.2L446.8 299.2L443.8 295.8L442.2 295.8L435.8 299.8L428.2 299.2L426.2 300.8L421.8 301.2L412.2 304.8L407.2 304.8L405.2 303.2L404.8 301.2L407.8 298.2L407.8 296.8L403.2 293.2L402.8 287.8L399.2 284.8L400.2 280.2ZM453.8 275.8L454.8 274.8L458.8 274.8L461.8 271.8L466.2 271.8L469.2 273.2L471.2 276.2L469.8 279.2L466.8 279.2L462.8 276.8L454.8 277.8ZM135.2 272.8L134.8 276.2L132.8 278.2L128.8 278.2L124.2 280.8L118.2 280.2L115.8 278.2L115.8 275.2L122.2 271.2L125.2 271.2L128.8 272.8L131.8 270.8L133.8 270.8ZM301.2 275.2L303.2 270.8L305.2 269.2L310.2 271.8L316.8 271.8L319.2 272.8L326.8 272.2L327.8 273.2L327.8 281.2L323.2 283.8L312.8 282.8L304.8 284.2L301.2 278.2ZM314.2 240.8L314.2 241.8L309.8 245.8L307.2 244.8L306.8 241.2L305.8 240.8L301.8 242.8L299.8 242.8L295.8 245.8L294.8 245.2L297.2 241.2L300.2 241.8L304.2 238.8L312.2 238.8ZM417.2 214.2L418.2 213.2L424.2 214.2L427.8 210.2L432.2 209.2L435.2 214.2L441.8 214.8L444.8 209.2L451.2 209.2L459.2 212.2L462.8 214.8L470.8 215.2L473.2 217.2L473.8 219.8L469.8 221.8L466.8 225.2L461.2 224.8L457.2 221.8L452.8 221.8L448.2 226.2L443.2 226.8L433.8 232.8L430.8 233.2L427.8 231.2L422.8 230.8L419.8 228.2L417.8 222.8L418.2 219.2ZM284.8 188.2L284.8 192.8L281.8 195.2L274.8 195.2L272.8 198.8L268.2 200.8L263.8 201.8L257.8 200.8L254.8 204.8L254.8 207.2L259.8 210.2L260.2 212.2L258.8 213.2L255.2 212.2L250.2 212.2L248.2 213.2L241.8 212.2L239.2 213.2L237.2 211.2L237.2 208.2L232.8 207.2L228.8 210.2L224.8 210.2L221.2 208.2L219.8 205.8L219.8 204.2L221.8 201.2L221.2 195.2L223.2 193.8L227.2 194.2L233.2 200.8L234.2 200.8L236.2 199.2L239.2 194.2L242.2 193.2L247.8 193.2L253.2 195.2L261.2 194.8L264.8 196.2L266.8 195.8L266.8 193.8L264.8 191.2L265.8 188.8L267.8 186.8L268.2 184.8L271.2 184.2L273.8 182.2L282.2 184.8ZM435.8 174.8L435.2 182.8L428.8 185.8L419.8 184.8L415.2 186.2L411.8 186.2L408.8 183.8L400.2 184.2L397.2 182.8L394.8 182.8L391.2 185.8L391.2 188.8L390.2 190.2L385.2 188.2L380.8 188.2L373.2 191.2L369.2 188.2L366.2 189.2L363.8 188.2L363.8 182.8L366.2 177.8L366.8 171.8L368.2 170.8L373.8 171.8L385.8 170.8L397.8 174.2L399.8 173.2L402.8 168.8L404.8 168.8L409.8 172.8L428.8 170.8ZM266.8 161.8L265.2 166.8L267.2 169.2L267.8 171.8L265.2 173.8L256.8 174.2L257.2 175.8L264.8 178.8L264.8 183.2L263.8 184.2L261.2 184.2L257.8 182.2L254.2 185.2L252.8 189.8L251.8 190.8L249.8 190.8L248.2 188.2L249.2 181.2L245.8 176.8L239.2 178.2L239.2 179.8L237.8 181.2L233.8 183.2L232.2 182.2L231.2 178.8L232.8 177.2L237.2 176.8L239.2 173.8L246.8 171.8L247.8 170.8L247.8 167.2L248.8 165.8L257.8 165.2L259.8 164.2L262.2 160.8L265.8 160.8ZM301.8 157.8L304.2 154.8L304.2 150.8L311.8 152.8L316.8 152.8L320.2 150.8L326.2 150.2L330.2 156.2L329.2 157.2L327.2 157.2L323.2 154.8L319.8 154.8L321.8 160.2L328.2 160.2L334.2 163.2L337.8 163.2L346.8 158.8L347.8 159.8L348.2 164.2L351.8 164.8L354.8 166.8L359.2 166.8L364.8 170.2L360.8 171.8L355.8 171.8L351.8 169.8L348.2 169.8L343.2 173.2L340.8 173.2L336.2 170.2L334.2 170.2L331.2 173.2L328.2 173.8L320.2 170.2L318.2 164.8L319.2 162.2L318.8 161.2L315.8 160.8L309.2 162.8L306.2 160.8L302.8 160.2ZM439.2 134.8L440.8 134.2L441.8 135.8L440.8 136.2ZM295.2 134.2L296.8 135.8L295.8 137.2L294.2 136.8ZM273.2 117.2L275.8 118.8L281.2 116.2L284.8 116.8L286.2 118.2L285.2 121.8L288.8 123.2L293.8 121.8L307.8 123.2L312.2 122.8L312.8 120.8L312.2 115.2L310.8 111.2L274.2 111.2ZM258.2 111.2L212.2 111.2L212.8 118.2L209.8 122.2L209.8 123.8L211.8 126.8L210.8 128.8L204.8 129.8L201.8 127.8L197.2 128.2L193.2 125.8L191.2 125.8L188.2 128.2L186.2 128.2L180.8 125.2L174.8 126.2L166.8 130.8L166.2 132.2L167.8 135.2L167.8 138.2L166.2 140.8L166.2 142.8L170.2 145.2L177.2 146.2L178.2 147.2L176.8 150.8L177.2 151.8L178.8 151.8L182.2 148.8L185.8 152.8L191.2 153.8L195.8 149.2L197.8 148.8L200.8 150.2L207.2 149.8L213.2 153.2L219.2 153.8L221.8 152.8L225.8 148.8L230.2 148.2L232.2 144.2L231.2 139.8L228.2 137.2L224.2 136.8L222.2 134.8L221.8 131.2L226.2 127.8L229.2 128.8L234.8 128.8L239.2 126.8L244.2 127.2L249.8 130.2L252.8 130.2L256.8 128.8L259.2 125.2L259.2 121.8L257.2 118.8ZM96.2 126.8L105.8 127.2L112.8 129.8L116.2 129.2L122.8 125.8L127.8 129.8L131.2 129.8L136.2 125.8L138.2 125.8L143.2 128.2L146.2 127.2L160.2 127.2L160.8 124.8L157.8 121.2L157.2 117.8L162.2 115.2L162.8 111.2L96.2 111.2Z"/><path fill-rule="evenodd" fill="#00f090" d="M488.2 333.2L488.2 334.8L543.8 334.8L543.8 322.8L541.8 322.8L540.2 324.2L539.8 326.8L537.8 329.2L532.2 328.8L526.8 334.8L524.8 334.8L521.8 332.2L517.2 333.2L515.8 331.2L511.2 330.2L505.8 325.2L504.2 319.8L497.2 321.8L495.2 325.2L490.8 327.8ZM233.8 284.8L230.2 292.2L232.8 296.8L234.8 298.2L233.2 300.8L237.8 300.8L242.8 304.2L243.8 308.8L241.2 314.8L241.8 316.8L243.8 317.2L245.2 319.2L244.8 313.8L246.8 308.2L245.2 301.2L246.8 299.2L245.2 298.2L241.2 301.2L237.8 298.8L238.2 294.2L237.2 292.8L237.2 289.2ZM123.2 230.2L122.8 231.2L123.8 231.8ZM283.8 218.2L284.2 220.2L285.8 220.8L286.8 219.8L285.8 218.2ZM122.2 151.8L122.8 153.8L127.2 156.2L129.2 156.2L132.2 153.2L143.2 153.2L145.8 155.2L147.2 153.2L143.2 146.2L133.2 146.8L128.2 144.2L124.8 145.2ZM495.8 127.8L495.8 130.8L499.2 134.8L502.2 134.8L508.2 132.8L517.2 133.2L519.2 132.2L522.8 132.2L525.8 135.8L528.2 136.2L543.8 131.8L543.8 111.2L519.2 111.2L518.8 114.2L514.8 117.2L509.8 117.2L509.2 120.8L506.8 123.2L502.8 125.2L500.2 124.8ZM543.8 202.8L540.8 202.2L537.2 200.2L527.8 201.8L523.2 195.8L517.8 195.2L516.8 194.2L518.8 185.2L518.2 180.2L522.2 175.8L519.2 174.8L516.8 172.2L516.8 166.8L511.8 164.8L508.2 165.8L502.8 169.8L499.8 169.2L496.8 167.2L494.2 169.8L490.8 170.2L487.8 168.8L482.2 169.2L478.2 166.8L476.8 166.8L475.2 167.8L474.2 170.8L471.2 173.2L466.8 173.2L462.2 170.8L461.8 172.8L466.8 176.8L465.2 179.2L455.2 182.8L454.2 185.8L452.8 186.8L449.8 186.8L446.8 185.2L444.8 182.2L445.8 181.2L445.8 175.2L447.8 168.8L452.2 162.2L455.8 159.8L458.8 159.8L462.8 161.8L469.8 159.8L479.8 161.2L492.2 157.8L495.8 159.8L506.8 161.2L508.8 159.2L508.8 156.8L502.8 150.2L503.2 144.8L497.8 140.8L492.8 141.8L490.8 139.8L486.8 138.2L483.2 140.2L470.8 139.8L469.8 138.8L469.8 136.8L474.2 133.2L474.8 130.8L468.2 126.8L464.8 127.2L462.8 128.8L458.8 128.8L454.8 126.2L452.2 126.2L447.2 128.8L437.2 130.8L436.2 131.8L436.8 132.8L441.2 132.8L442.8 134.2L442.8 136.8L441.8 137.8L437.8 135.8L436.2 133.8L432.2 133.8L425.2 137.2L425.2 138.8L427.2 141.2L427.2 143.2L425.8 144.8L419.8 147.2L416.2 145.8L408.2 145.8L399.8 139.2L393.8 138.2L390.2 134.8L390.2 130.8L389.2 128.8L385.8 129.2L384.8 128.2L385.2 121.8L384.2 119.8L388.2 116.2L394.2 117.8L398.2 113.8L400.2 113.8L402.8 115.8L406.8 116.8L408.8 120.8L416.2 121.2L415.8 117.2L417.2 114.8L416.8 111.2L328.8 111.2L328.8 113.8L326.8 117.8L328.2 121.8L327.2 123.2L321.8 120.8L318.8 120.8L314.2 123.8L312.2 126.2L313.2 127.8L314.8 127.8L320.2 123.8L321.8 125.2L321.8 128.2L318.8 131.8L313.2 131.2L306.2 134.8L301.8 133.2L299.2 130.8L294.2 132.2L284.2 131.8L281.8 132.2L278.2 134.8L274.8 134.8L271.2 131.2L263.8 133.8L250.2 133.8L245.8 138.8L245.8 142.2L247.2 144.2L262.8 145.8L272.2 144.2L275.2 147.8L275.8 154.2L274.8 155.2L269.2 154.2L267.2 157.2L264.8 158.8L259.8 158.2L253.2 155.2L250.2 152.8L239.8 157.2L233.8 156.8L234.2 160.8L236.2 162.8L240.8 163.2L242.8 165.8L240.8 168.8L237.8 170.2L237.2 172.8L235.8 173.8L231.8 172.2L230.8 167.8L227.8 168.2L226.2 166.8L226.2 165.8L229.2 163.8L230.2 161.2L224.2 161.8L222.8 160.8L220.2 160.8L217.2 162.2L211.2 160.8L204.8 161.2L202.8 158.2L198.2 155.8L195.8 155.8L194.2 157.2L195.2 160.2L193.8 161.8L188.2 164.2L186.2 164.2L182.8 161.8L176.2 162.2L173.8 161.2L170.8 161.8L167.8 163.8L164.2 162.2L155.2 162.8L152.8 161.2L148.2 160.8L144.8 158.8L137.2 160.2L132.8 163.8L133.8 165.2L133.2 166.8L128.2 168.2L124.2 168.2L120.2 165.2L115.2 165.2L111.2 167.2L107.8 167.2L106.8 168.8L107.8 171.8L113.2 174.8L116.2 174.8L117.8 175.8L114.2 182.2L114.2 183.8L121.8 183.2L122.8 186.2L128.8 187.8L134.2 192.8L133.8 194.8L132.2 195.8L127.2 194.2L124.2 194.8L124.2 198.8L127.8 204.8L126.8 207.8L124.2 210.2L129.2 209.8L133.2 211.2L138.2 211.2L141.2 208.8L145.2 208.8L148.2 212.8L153.8 212.8L154.8 213.8L155.2 217.2L157.2 218.8L165.8 217.8L167.8 219.8L170.2 220.2L180.2 214.8L189.2 216.8L193.8 215.8L195.8 214.2L197.2 214.2L203.2 217.8L205.8 217.8L207.2 216.2L212.2 214.2L221.2 217.8L223.2 217.8L225.8 216.2L227.2 216.8L231.2 214.8L235.2 218.2L239.2 220.2L241.2 219.2L240.2 217.2L240.8 215.8L241.8 215.8L243.8 218.2L249.8 219.2L255.8 216.8L262.2 217.2L265.8 216.2L275.2 218.2L277.8 216.2L283.8 217.2L284.8 215.8L287.8 215.2L290.2 216.8L292.2 216.8L294.2 220.2L298.2 219.2L300.2 216.2L305.2 215.2L309.8 218.2L313.2 218.2L317.8 216.2L319.2 217.2L318.2 220.8L314.2 223.2L307.8 221.2L303.8 221.2L300.8 224.8L297.2 224.8L292.2 222.2L284.8 222.2L282.2 221.2L275.2 221.2L271.2 222.8L264.2 221.2L260.8 222.2L257.2 220.2L255.2 220.2L251.2 223.8L243.2 223.8L238.2 222.8L222.8 223.8L218.2 219.8L214.8 219.2L210.8 222.2L201.2 221.2L197.2 223.2L195.2 220.2L191.2 219.8L185.2 224.2L179.8 221.2L177.2 221.2L173.8 223.2L171.2 223.2L169.8 221.8L167.2 221.8L163.2 223.8L160.2 223.8L156.2 222.2L151.8 225.2L145.8 224.2L135.8 224.2L130.2 219.2L129.2 217.2L126.2 217.8L127.2 222.2L125.8 228.2L127.2 228.2L129.8 230.2L132.2 235.8L132.2 240.2L130.2 241.8L122.8 240.8L118.2 238.2L114.8 238.2L111.8 235.8L106.2 236.2L104.2 234.8L102.2 229.2L96.2 230.2L96.2 290.8L102.8 290.2L112.2 292.2L116.8 291.8L121.2 296.2L120.2 310.8L117.8 311.2L104.2 318.8L96.2 316.8L96.2 334.8L144.8 334.8L144.8 332.2L142.8 329.2L142.8 325.8L144.8 322.2L141.8 318.8L144.2 314.8L144.2 312.2L139.8 308.8L139.8 307.2L144.8 303.8L144.8 300.8L143.2 297.8L145.2 295.2L146.8 295.2L147.8 297.8L154.2 296.8L156.2 298.8L155.8 301.8L158.2 304.8L158.8 306.8L158.2 313.8L162.2 315.2L162.2 317.2L164.8 320.8L166.8 319.8L171.2 320.2L174.8 317.2L176.2 317.2L179.8 313.8L179.2 308.8L182.8 303.8L182.8 301.8L180.2 296.2L179.8 290.2L183.8 288.2L185.8 279.2L187.2 277.8L191.2 278.8L198.2 277.8L206.2 283.8L206.2 285.2L204.2 288.2L205.8 291.8L205.8 294.2L203.8 297.8L203.8 303.8L202.8 306.2L200.8 308.2L198.2 306.8L192.2 306.2L190.8 308.8L186.2 308.2L182.2 311.8L182.2 313.8L184.8 316.2L185.8 320.2L188.2 323.8L189.2 328.2L192.8 332.8L192.8 334.8L226.2 334.8L225.8 330.2L222.8 323.2L222.8 318.8L221.2 312.8L225.2 309.2L224.2 301.8L226.8 293.8L224.2 290.8L224.2 287.8L226.8 284.8L227.2 282.2L231.2 277.8L239.8 278.2L242.2 279.2L248.2 278.8L250.2 281.8L255.2 282.8L262.2 279.8L265.2 279.8L267.8 281.2L267.8 286.2L269.8 289.2L270.2 292.2L272.2 293.2L275.8 293.2L276.8 295.8L275.8 298.8L272.2 298.2L271.2 300.2L271.8 303.8L276.2 308.2L276.2 311.8L278.8 314.2L275.8 316.2L275.8 318.2L277.8 318.8L280.8 317.2L284.8 321.8L284.2 323.2L279.2 327.2L283.8 332.2L283.8 334.8L370.2 334.8L374.2 328.2L373.2 321.8L376.2 317.2L376.2 315.2L365.8 309.8L361.8 311.2L358.8 311.2L356.2 308.8L358.8 300.8L358.8 297.2L355.8 291.8L350.8 289.2L349.2 287.2L350.2 286.2L350.8 281.8L354.2 278.2L357.2 278.2L358.2 281.2L360.2 281.8L362.2 280.8L368.8 280.2L372.2 276.8L376.2 277.2L383.2 281.2L386.2 284.8L387.2 290.2L388.2 291.2L386.2 294.2L388.2 294.8L389.8 296.8L389.2 299.2L386.8 302.2L386.8 305.2L389.8 308.2L387.2 310.2L386.8 313.2L390.2 318.8L389.8 323.8L386.8 325.8L386.2 327.2L391.8 332.2L392.2 334.8L398.2 334.8L398.2 332.2L402.8 329.8L405.8 326.2L409.2 326.8L413.2 328.8L416.8 328.2L418.8 330.8L419.2 334.8L462.2 334.8L462.2 333.2L465.2 329.8L468.8 319.2L468.2 313.2L465.8 310.8L463.2 304.8L463.2 303.2L465.8 300.2L468.2 300.8L469.8 302.8L467.2 306.8L467.8 309.2L470.2 311.2L471.8 314.8L476.8 318.8L481.8 319.2L482.8 318.2L483.8 313.2L481.8 307.2L482.8 306.2L484.8 306.2L486.2 304.2L489.8 307.8L489.8 311.2L488.2 312.8L488.2 315.2L499.8 318.8L502.2 318.8L502.2 316.8L496.8 313.2L500.8 309.2L500.8 307.2L497.2 304.8L491.2 306.2L489.2 301.8L491.2 298.8L489.8 296.2L489.8 292.8L487.2 290.2L487.2 288.8L489.8 282.2L490.2 277.8L491.2 276.8L493.2 276.8L500.2 280.8L510.8 276.8L512.8 276.8L514.8 280.2L516.8 281.2L523.8 279.2L528.8 279.2L530.2 280.2L532.8 279.8L534.8 281.8L534.8 283.2L532.2 285.2L529.8 285.2L528.2 283.8L525.2 283.2L523.2 284.8L520.2 285.2L517.8 287.8L511.2 287.8L508.8 289.8L509.2 297.8L506.8 300.2L507.2 301.2L512.2 301.2L517.2 303.8L518.8 305.8L521.2 302.8L525.8 300.8L525.8 297.8L529.2 295.2L531.2 295.8L533.2 293.8L536.2 292.8L537.2 289.2L538.8 287.8L543.8 287.2ZM463.2 312.8L465.2 314.8L464.2 317.2L462.2 316.8L462.2 313.8ZM275.8 292.2L277.2 291.2L278.2 292.8L276.8 293.2ZM524.2 286.2L527.2 286.2L528.2 287.2L528.2 289.2L525.8 289.8ZM398.8 277.8L400.8 276.2L403.8 277.2L413.2 276.2L416.8 279.2L424.8 277.2L428.2 279.2L431.2 279.8L440.2 277.2L443.8 277.2L449.8 281.2L448.8 282.8L452.8 284.2L453.8 285.8L453.8 287.2L451.8 288.8L453.2 293.2L452.8 296.8L449.2 300.2L446.2 300.2L443.8 297.8L441.8 297.8L436.8 300.2L430.8 300.8L427.8 302.8L422.2 302.2L412.8 306.2L409.2 306.8L407.8 308.2L404.2 308.2L401.8 303.8L406.2 298.2L406.2 296.8L401.8 293.8L401.8 288.8L398.2 285.2ZM168.2 276.8L171.2 273.8L174.2 275.2L173.8 277.2ZM452.8 273.8L458.2 274.2L461.2 271.2L467.2 271.2L471.8 274.2L471.8 278.2L469.8 280.2L465.8 279.8L462.8 277.2L454.2 278.2L453.2 277.2ZM300.8 275.2L302.2 271.2L304.8 268.8L310.2 271.2L316.8 271.2L318.8 272.2L326.8 271.2L328.8 272.2L327.8 277.8L329.8 281.2L326.2 284.2L322.2 285.2L315.2 283.8L304.2 285.2L300.8 279.2ZM196.2 269.8L195.8 262.8L199.2 260.8L203.8 260.2L210.2 263.8L214.2 262.8L225.2 263.2L229.8 261.2L231.2 262.2L229.2 266.8L224.2 268.2L221.2 272.2L198.2 272.2ZM409.2 270.8L408.2 272.2L402.2 271.2L396.8 273.2L389.8 273.2L385.8 270.8L386.8 269.8L386.8 267.8L382.2 264.8L387.2 264.2L393.2 260.2L400.2 260.2L403.8 262.2L405.8 259.8L406.8 259.8L408.2 262.2ZM327.8 261.8L329.2 260.8L337.8 259.8L338.8 260.8L338.8 262.8L339.8 263.2L342.2 261.8L346.8 261.2L348.2 262.8L347.2 269.8L344.8 272.8L342.2 272.8L340.8 271.8L333.2 272.8L330.8 272.2L331.2 266.2L327.8 263.8ZM141.2 260.2L141.8 266.2L140.8 269.2L139.8 270.2L135.2 270.8L135.2 276.2L133.2 278.2L128.2 278.8L123.2 281.2L118.8 280.8L115.2 278.2L115.8 273.8L120.2 271.2L120.8 266.8L125.2 263.2L123.2 261.2L123.8 260.2L127.2 260.2L130.2 262.2L132.2 262.2L138.2 259.2ZM115.2 247.2L126.8 243.2L130.2 244.2L132.2 246.2L134.2 246.2L139.2 242.8L144.8 245.2L147.2 247.8L149.8 247.2L153.8 244.2L158.2 244.8L161.2 246.8L163.2 246.8L165.2 245.2L174.8 245.2L177.2 243.8L181.2 244.2L185.8 242.8L187.8 242.8L189.2 245.2L192.2 246.8L197.2 244.8L201.2 245.2L204.2 243.8L207.2 243.8L213.8 247.2L216.2 247.2L221.8 244.2L237.2 245.2L240.8 243.8L244.8 246.8L248.2 246.8L251.8 243.8L257.8 243.8L262.2 246.8L261.8 248.2L257.2 247.2L254.8 249.2L249.8 250.8L232.8 251.2L229.8 253.2L225.2 253.2L222.8 252.2L220.2 249.8L216.2 251.2L212.8 250.2L206.2 256.8L201.2 256.8L198.2 258.8L192.8 257.2L189.8 253.8L185.8 253.8L178.2 257.2L175.2 259.8L169.8 259.2L166.8 256.2L163.2 254.8L159.8 255.2L157.2 257.2L154.8 256.2L150.8 256.2L147.2 258.2L142.8 256.2L137.8 256.2L135.8 255.2L126.2 255.8L124.8 255.2L121.2 251.2L116.8 249.2ZM401.8 249.8L399.8 251.2L394.8 251.2L392.2 249.2L390.2 249.2L391.2 255.2L388.2 257.2L379.8 257.2L374.8 259.2L370.8 257.8L366.8 257.8L363.2 259.2L360.2 256.8L355.2 257.8L348.8 255.8L348.8 257.2L346.8 259.2L344.2 259.2L336.2 253.8L330.8 253.2L326.8 251.8L325.8 248.8L329.8 242.8L331.2 242.8L335.2 245.2L340.8 245.8L344.8 248.2L346.8 248.2L352.2 243.2L357.2 244.8L365.8 243.8L372.2 246.8L375.8 245.8L379.8 246.2L382.8 242.2L384.2 242.2L393.2 247.8L399.8 246.2ZM454.8 244.2L457.8 241.2L463.2 238.8L465.2 238.8L469.8 240.8L471.8 245.8L469.2 250.2L461.8 251.2L456.2 249.8ZM316.2 241.2L315.8 242.8L310.8 247.2L306.8 246.8L305.2 243.2L300.2 244.2L296.8 247.2L294.8 247.2L292.2 245.2L294.2 241.8L294.2 239.8L295.8 238.2L297.2 238.2L299.8 240.2L303.8 237.2L313.2 237.2ZM474.2 218.2L474.2 220.2L470.2 222.2L467.8 225.2L461.2 225.2L454.8 221.8L451.8 223.2L449.8 226.8L443.8 227.2L435.8 231.8L433.2 234.8L431.2 234.8L427.2 232.8L423.8 235.2L422.2 235.2L420.8 234.2L419.8 230.2L418.2 228.2L415.8 213.2L416.8 212.2L424.2 213.2L427.2 209.8L432.8 208.8L436.8 214.2L440.8 214.2L442.2 213.2L442.2 211.2L444.2 208.8L448.8 208.2L458.8 211.2L463.2 214.2L470.8 214.8ZM285.2 188.8L285.2 192.2L284.2 194.2L281.8 195.8L275.8 195.8L272.8 199.8L263.8 202.8L258.2 201.8L256.2 204.2L255.8 206.8L261.8 210.8L261.8 212.8L259.8 214.2L255.8 213.2L250.2 213.2L248.8 214.2L241.8 213.2L238.8 214.2L236.2 211.8L236.2 208.8L232.8 208.2L229.8 211.2L224.8 211.2L220.8 209.2L218.8 206.2L218.8 204.2L220.8 201.2L220.2 196.2L223.8 193.2L227.2 193.8L233.8 200.2L236.8 197.8L239.2 193.8L242.8 192.8L247.2 192.8L252.8 194.8L260.2 194.2L265.8 195.8L266.8 194.8L264.2 190.8L267.2 186.8L267.2 185.2L274.2 181.8L282.8 184.8ZM119.2 175.2L119.8 174.2L121.2 174.8L120.2 175.8ZM267.2 161.8L265.8 167.2L268.2 170.2L268.2 171.8L263.8 174.2L257.2 174.2L257.8 175.8L262.8 177.2L265.2 179.2L264.8 184.2L261.8 184.8L257.2 182.8L254.2 186.2L253.2 189.8L251.8 191.2L249.8 191.2L247.8 187.8L247.8 185.2L249.2 181.8L245.8 177.2L244.2 176.8L240.2 178.2L238.8 181.2L234.2 183.2L231.8 182.2L231.2 178.2L233.2 176.8L237.2 176.2L237.8 174.2L239.2 173.2L246.2 171.8L248.8 165.2L258.2 164.8L262.8 160.2L265.2 160.2ZM302.2 149.8L315.2 152.8L321.2 149.8L326.2 149.2L330.8 154.8L330.8 156.8L329.2 158.2L327.2 158.2L321.2 155.8L322.8 159.2L328.2 159.8L333.2 162.8L338.8 162.8L347.2 158.2L348.2 159.2L348.2 163.8L352.8 164.8L354.8 166.2L359.8 166.2L366.8 170.2L371.2 170.2L373.8 171.2L385.8 170.2L392.8 171.8L396.2 173.8L398.8 173.2L400.2 170.2L402.8 168.2L406.8 169.2L409.8 172.2L428.8 170.2L436.2 174.8L436.2 181.2L434.8 183.8L427.8 186.2L419.8 185.2L415.2 186.8L411.8 186.8L408.2 184.2L400.2 184.8L394.8 183.2L392.2 185.2L391.8 189.8L390.2 191.2L388.8 191.2L385.8 189.2L379.8 189.2L374.2 191.8L372.2 191.2L369.8 188.8L364.8 189.8L363.2 188.2L363.2 183.8L366.2 176.8L365.8 171.8L357.2 172.2L348.8 169.8L343.8 173.2L340.2 173.2L336.8 170.8L334.2 170.8L330.8 173.8L327.2 173.8L320.2 170.8L318.8 166.2L317.2 164.8L318.2 162.8L317.8 161.8L309.8 163.2L300.8 159.2L303.8 154.8ZM294.8 134.2L296.8 134.8L296.8 136.8L295.8 137.8L293.8 136.8ZM273.2 115.8L274.8 118.2L276.8 118.2L280.2 116.2L285.2 116.8L286.2 117.8L285.8 121.8L287.8 122.8L291.2 122.8L295.2 121.2L300.8 122.2L309.2 122.2L311.2 120.8L311.2 114.8L309.8 111.2L274.2 111.2L274.2 114.2ZM258.2 111.2L212.2 111.2L212.8 119.2L210.2 122.2L210.2 124.2L212.2 127.2L211.2 128.8L205.8 130.2L201.2 127.8L196.8 128.2L193.2 126.2L190.8 126.2L187.8 128.8L186.2 128.8L181.8 125.8L175.8 126.2L167.2 130.8L166.8 132.8L168.2 135.8L168.2 138.2L166.8 140.8L166.8 142.8L171.2 145.2L177.2 145.8L178.2 146.8L177.2 150.2L177.8 151.2L182.8 148.8L186.2 152.8L187.8 153.2L192.8 152.8L195.8 148.8L198.8 148.8L201.2 150.2L208.2 149.8L215.2 153.8L219.8 153.2L225.2 148.8L230.2 147.8L231.8 144.8L231.2 140.2L227.2 137.2L223.8 136.8L222.2 135.2L221.8 130.8L225.8 127.8L233.2 128.8L238.2 126.8L245.2 127.2L250.8 130.2L256.2 128.8L259.2 123.2L256.8 118.8ZM96.2 126.2L104.2 126.8L111.2 129.2L115.2 129.2L121.2 125.8L123.8 125.8L128.2 129.8L132.8 128.8L135.8 125.8L138.8 125.8L142.2 127.8L147.2 126.8L160.2 126.8L160.8 125.8L157.8 121.8L156.8 118.2L161.8 115.2L162.8 111.2L96.2 111.2Z"/><path fill-rule="evenodd" fill="#90f000" d="M491.2 329.2L491.8 334.8L514.8 334.8L513.2 332.2L500.8 325.2L499.8 325.8L498.8 328.8L492.2 327.8ZM543.8 323.8L541.8 324.8L538.8 329.8L531.2 330.2L529.8 331.8L529.2 334.2L543.8 334.8ZM466.8 313.8L466.8 315.2L467.8 315.2ZM466.2 321.2L463.8 320.2L461.2 317.2L461.2 313.8L464.2 310.8L464.2 308.2L462.8 306.2L459.8 305.8L457.8 304.2L457.8 298.8L451.8 299.8L449.2 301.2L445.8 301.2L443.2 299.2L441.2 299.2L436.8 301.2L431.2 301.8L427.8 304.2L423.2 303.2L420.8 305.2L416.2 305.8L412.8 307.8L408.8 313.8L408.2 320.2L409.8 321.8L409.8 323.2L412.2 323.8L414.2 322.8L415.2 325.8L419.8 327.2L420.8 334.8L461.2 334.8L461.2 332.8L464.2 329.8ZM512.2 290.2L510.8 292.2L510.8 294.2L512.8 293.8L514.2 295.8L511.8 296.8L510.8 298.8L515.8 301.8L521.8 300.8L524.8 296.2L522.8 290.8L521.2 290.2L519.8 291.2L516.2 291.2L514.8 290.2ZM389.2 281.8L388.8 285.2L389.2 288.2L391.2 291.2L390.8 298.2L387.8 302.8L387.8 304.8L390.8 306.2L391.8 308.8L388.8 310.2L387.2 312.8L387.8 314.8L390.8 317.8L390.2 324.8L387.8 327.8L390.2 329.2L392.8 328.8L393.2 334.8L396.8 334.8L397.2 331.2L401.8 327.2L401.8 320.2L404.2 316.2L405.2 310.2L401.8 308.2L399.8 303.8L404.8 297.8L400.2 293.8L400.2 288.8L397.8 286.2L396.8 282.8L392.8 284.8L390.2 281.8ZM96.2 230.2L96.2 268.8L102.8 267.8L106.2 270.2L108.2 270.2L115.2 263.8L115.2 258.2L105.8 255.8L109.8 246.2L106.2 243.2L105.8 236.8L103.2 233.2L102.8 230.2ZM142.2 147.2L133.8 147.8L133.2 152.2L141.8 152.2L142.8 149.2ZM543.8 111.2L521.8 111.2L522.2 114.2L521.2 115.2L518.2 115.2L512.8 120.2L510.8 123.8L503.8 125.2L502.2 128.8L498.8 126.8L496.2 128.2L496.8 131.2L500.2 134.8L506.8 132.8L516.2 133.2L522.2 131.8L526.2 135.8L529.2 135.8L532.8 134.2L535.8 134.2L540.8 131.8L543.8 131.8ZM543.8 202.8L539.8 202.2L536.8 200.2L528.2 202.2L525.8 200.2L522.8 195.8L517.8 195.8L516.2 194.2L518.2 185.8L518.2 181.8L517.2 177.8L514.8 175.2L515.8 172.8L515.8 167.8L512.8 165.8L510.2 165.8L503.8 170.2L500.2 170.2L497.2 168.2L492.8 171.2L488.2 169.8L482.8 170.2L477.2 167.2L475.8 168.2L475.2 170.8L470.8 173.8L467.8 173.8L462.2 171.2L462.8 173.8L467.2 177.2L465.8 179.2L459.2 182.2L455.8 182.8L454.2 186.2L452.8 187.2L446.2 185.2L444.2 182.2L445.2 180.8L445.8 173.8L448.8 165.8L448.2 162.2L449.2 161.2L456.2 159.2L458.8 159.2L463.8 161.2L471.2 158.8L478.2 160.8L489.8 157.2L492.8 157.2L496.2 159.2L506.2 160.8L507.8 159.2L507.8 156.2L505.8 154.2L502.2 152.8L500.2 147.8L500.8 144.8L498.2 142.8L495.2 144.8L492.8 144.8L491.2 143.2L490.8 140.8L487.8 138.8L485.2 138.8L482.8 140.8L479.2 139.8L470.2 139.8L469.2 137.2L474.2 132.8L474.2 130.8L468.8 127.2L465.8 127.2L461.8 129.2L459.2 129.2L452.8 126.2L449.8 128.2L445.2 128.8L442.8 130.8L443.8 135.8L442.2 138.2L437.2 136.2L435.8 134.8L429.2 135.2L425.8 137.2L425.8 138.8L427.8 141.2L427.2 144.2L422.2 146.2L420.2 148.2L415.2 145.8L407.2 145.8L402.8 143.2L401.2 140.8L397.8 138.8L391.8 138.2L388.8 140.2L386.2 140.2L384.2 136.8L389.2 133.8L389.8 130.2L388.2 128.8L384.2 128.8L385.2 125.2L384.2 118.8L387.8 116.2L390.2 116.2L393.2 117.8L394.8 117.2L398.2 113.2L399.8 113.2L403.2 115.8L407.2 116.8L410.2 120.8L415.8 120.8L415.2 117.2L416.8 114.8L416.2 111.2L329.2 111.2L327.2 117.8L328.8 121.8L327.8 123.8L326.2 123.8L322.2 121.2L318.8 121.2L312.8 125.8L313.2 127.2L315.2 127.2L319.2 123.2L320.2 123.2L322.2 125.8L322.2 128.2L319.8 131.8L314.2 131.2L307.8 134.8L302.8 134.2L299.8 131.2L297.2 131.2L295.8 132.2L282.2 132.2L277.8 135.2L274.2 134.8L271.2 131.8L268.8 131.8L265.2 133.8L255.8 133.2L249.8 134.2L245.8 139.8L247.2 143.8L251.2 143.8L256.2 145.2L265.2 145.2L273.2 143.8L274.8 145.2L276.2 154.2L275.2 155.8L269.8 154.2L265.8 158.8L264.2 159.2L258.8 158.2L253.2 155.8L250.8 153.2L248.2 153.2L240.8 157.8L235.2 158.2L235.2 160.8L236.2 161.8L240.8 162.2L243.2 165.8L241.2 168.8L237.8 170.8L237.8 173.2L245.8 171.8L247.2 170.2L247.2 166.2L249.2 164.8L257.8 164.8L260.2 163.2L261.8 160.2L263.2 159.8L266.2 160.2L267.8 162.2L266.2 164.8L266.2 167.2L268.8 170.8L268.2 172.2L265.2 174.2L257.8 174.2L258.2 175.8L263.8 177.2L265.8 179.2L265.8 183.8L264.8 184.8L260.8 184.8L257.2 183.2L254.8 186.2L253.8 190.2L251.8 191.8L249.8 191.8L247.8 189.8L247.2 185.8L248.8 181.8L244.8 177.2L240.2 178.8L238.8 181.8L237.2 181.8L234.2 183.8L231.8 183.2L230.8 178.2L232.8 176.8L236.8 176.2L237.2 174.2L232.8 173.2L231.2 171.8L230.8 168.2L227.2 168.2L226.2 167.2L226.2 165.2L228.8 163.8L229.8 161.8L224.8 162.2L222.2 160.8L218.2 162.2L213.8 162.2L211.8 161.2L204.8 161.8L202.8 158.8L197.2 155.8L194.8 157.2L195.8 159.8L195.2 161.2L189.2 164.2L185.2 164.2L181.8 161.8L171.8 161.8L167.8 164.2L166.2 164.2L162.2 162.2L159.8 163.2L155.8 163.2L145.8 159.8L139.2 159.8L133.8 163.8L134.2 166.2L133.2 167.2L127.2 168.8L124.8 168.8L119.2 165.2L115.8 165.2L112.2 167.2L108.8 167.2L107.2 168.2L107.8 171.2L112.8 174.2L117.8 174.2L120.2 173.2L122.8 173.8L121.2 176.2L117.2 177.8L114.8 183.2L122.2 182.8L123.2 186.2L126.8 186.2L134.2 191.8L134.8 194.8L133.2 196.2L127.2 195.2L124.8 195.8L126.2 200.8L128.2 201.8L134.2 199.2L138.8 199.2L142.2 200.8L145.2 200.8L147.8 198.8L152.8 199.2L155.8 202.8L159.2 203.2L163.2 199.2L166.8 198.8L171.8 203.8L172.8 203.8L175.8 199.8L181.2 199.8L185.8 196.8L188.2 197.2L192.2 200.2L194.2 200.2L197.2 195.8L199.2 197.2L200.2 201.2L203.8 200.8L207.2 197.2L216.8 201.2L218.8 198.8L219.2 195.8L221.2 193.8L224.2 192.8L227.2 193.2L233.8 198.8L236.2 197.2L238.2 193.8L243.2 192.2L247.2 192.2L252.8 194.2L262.8 194.2L265.8 195.2L265.8 193.8L263.8 190.8L266.8 186.8L266.8 184.8L267.8 183.8L270.8 183.8L273.2 181.8L275.8 181.8L283.2 184.8L285.2 187.8L285.2 193.8L282.8 196.2L275.8 197.2L276.2 198.8L281.2 201.2L285.2 199.8L287.8 201.2L291.8 201.8L300.2 198.2L305.8 198.8L308.8 202.2L311.8 201.8L316.2 202.8L318.2 206.2L321.8 208.2L325.2 208.2L328.2 206.8L333.2 206.8L335.2 205.8L343.8 206.8L347.2 204.2L349.8 204.8L352.8 207.2L369.2 205.2L372.8 202.2L374.8 202.2L378.2 206.2L381.8 205.8L385.2 203.2L394.8 203.8L398.8 206.2L403.8 204.8L408.8 209.8L411.2 208.8L414.2 205.8L417.2 205.8L418.2 206.8L415.2 209.2L415.2 210.8L420.8 211.2L422.2 212.2L424.2 212.2L427.2 208.8L432.8 207.8L434.8 209.2L436.8 213.2L440.8 213.2L441.8 209.8L443.8 207.8L450.8 207.8L456.8 209.2L461.8 211.8L463.8 213.8L471.2 214.2L474.8 217.2L475.2 220.2L471.2 222.2L467.8 225.8L460.8 225.8L456.2 222.8L454.2 222.8L450.2 227.8L443.8 228.2L438.8 231.8L436.2 232.2L434.2 235.8L431.2 235.8L427.8 234.2L424.2 237.2L418.8 234.2L416.8 225.2L409.8 221.2L407.2 221.2L403.8 223.8L393.2 221.8L389.8 224.2L386.2 225.2L376.8 221.8L373.2 224.2L363.8 223.2L360.8 220.8L358.2 221.2L357.8 223.8L356.2 225.2L353.2 225.2L348.8 222.8L342.2 220.8L339.2 220.8L337.2 222.8L330.8 222.2L327.2 223.8L323.8 223.8L319.8 222.2L319.2 224.2L320.8 227.8L319.2 231.2L317.2 231.2L314.2 229.2L311.2 231.2L308.8 231.2L302.2 228.2L299.2 228.2L296.8 230.8L294.8 231.2L291.8 228.2L290.8 223.8L284.2 223.8L280.2 222.2L275.2 222.8L270.8 224.8L266.8 223.2L259.8 223.8L256.8 221.8L252.2 225.2L243.8 225.2L238.8 224.2L230.8 225.2L228.2 224.2L221.2 224.8L217.8 221.2L214.8 220.8L211.2 224.8L205.2 222.8L201.2 222.8L198.8 224.8L196.8 224.8L195.2 223.8L194.2 221.2L192.2 220.8L187.8 224.8L185.2 225.8L182.8 225.2L179.2 222.8L176.8 222.8L172.8 225.2L170.8 225.2L168.2 223.2L163.2 225.8L159.2 224.8L157.2 227.8L153.8 228.8L150.2 228.8L148.2 227.8L146.2 228.8L135.8 227.8L132.8 228.8L131.8 230.2L133.8 240.2L136.2 238.8L142.8 238.8L147.2 237.2L149.8 237.8L151.2 239.2L163.8 240.2L166.8 238.8L168.8 240.2L172.2 240.8L176.8 239.8L187.2 240.2L190.2 238.2L193.2 237.8L197.8 241.2L198.8 241.2L199.8 239.2L202.2 237.8L205.8 239.8L213.8 238.8L216.2 241.8L221.2 241.2L224.2 239.2L227.8 240.8L235.8 239.8L240.2 241.8L245.2 238.8L246.8 238.8L248.8 241.2L254.8 241.2L257.8 239.2L260.8 239.2L263.2 237.2L266.2 237.2L269.8 240.8L272.2 240.2L274.8 238.2L277.2 238.2L279.2 239.8L282.8 240.2L292.8 238.2L294.2 236.8L294.2 234.8L299.8 231.8L301.2 231.8L304.8 234.8L316.8 233.2L319.2 235.2L319.2 238.2L324.2 236.2L327.8 238.8L335.2 238.8L341.2 241.8L344.2 241.8L347.2 238.8L350.8 237.2L357.8 238.2L361.2 240.2L370.8 238.8L373.8 241.2L375.2 241.2L378.8 238.2L385.8 238.8L390.2 242.8L392.8 243.2L396.2 238.8L400.2 238.8L403.8 237.2L409.2 237.8L410.8 239.2L415.2 239.8L416.8 240.8L423.8 239.2L426.2 241.8L429.2 242.2L438.8 238.2L445.2 240.8L447.8 240.8L452.2 237.8L458.8 239.2L462.8 236.8L464.8 236.8L470.8 239.8L476.2 239.8L479.2 241.2L483.2 241.2L486.8 238.2L494.8 241.2L499.8 240.8L500.2 243.2L497.8 244.8L496.8 248.8L499.8 252.2L502.8 253.8L502.8 255.8L501.8 256.8L499.2 256.8L492.2 254.2L476.2 259.8L472.8 259.2L469.2 255.8L466.8 256.2L465.2 258.2L462.2 258.2L459.2 255.8L454.2 255.2L450.8 256.2L446.2 255.8L444.8 256.8L441.2 255.2L438.8 256.8L429.2 256.2L426.8 257.2L413.8 257.8L411.2 255.8L409.2 255.8L408.8 259.2L410.8 263.8L411.2 271.8L409.8 273.2L407.8 273.8L401.2 272.8L397.8 274.2L389.8 274.2L381.8 271.8L380.2 273.2L377.8 273.8L375.2 271.2L372.8 271.2L364.8 273.8L360.8 269.8L357.8 269.8L355.2 274.8L353.8 274.8L350.8 271.8L348.2 271.8L344.8 273.8L340.2 272.8L333.8 273.8L330.2 273.2L328.2 275.2L328.8 278.2L329.8 279.2L336.2 280.2L337.2 281.2L337.2 283.2L336.2 284.2L329.8 283.2L326.8 286.8L320.2 286.8L315.8 284.8L310.2 284.8L306.8 286.2L303.8 286.2L301.2 284.2L299.8 280.8L299.8 276.8L301.2 271.8L303.2 268.8L305.8 267.8L309.8 270.2L316.8 270.2L319.8 271.8L321.2 270.2L320.2 269.2L316.8 269.8L315.2 268.8L310.2 269.2L308.2 265.8L302.2 265.8L300.2 264.2L305.2 260.2L310.2 259.8L312.2 256.8L316.8 257.2L319.8 253.2L316.2 252.8L313.8 253.8L309.8 252.8L307.8 251.2L305.8 251.2L304.2 252.8L300.2 252.8L293.2 248.2L289.2 249.2L286.8 251.8L280.8 252.2L272.8 249.8L270.8 249.8L268.8 251.2L262.8 250.2L256.8 254.2L254.8 256.8L254.8 258.8L258.2 261.8L258.2 264.2L256.2 265.8L249.2 267.8L247.2 271.2L235.8 267.8L231.2 267.2L228.8 269.2L224.8 269.8L222.2 273.2L196.8 273.2L194.8 271.2L193.2 267.2L188.2 269.8L186.2 269.8L181.8 267.8L176.8 268.2L169.8 266.2L165.2 267.2L155.2 266.2L148.8 270.8L143.2 268.8L140.8 271.2L136.2 271.2L135.8 276.2L134.2 278.2L128.8 278.8L124.2 281.2L119.2 281.2L114.8 278.8L114.2 273.8L109.8 274.2L107.8 275.8L103.8 274.2L100.8 271.8L96.2 271.2L96.2 289.2L99.2 289.2L103.2 287.8L106.8 290.2L111.2 291.2L116.2 290.2L119.8 292.8L121.8 295.8L120.8 312.2L117.8 312.2L115.2 315.2L109.8 316.2L104.2 319.8L99.8 318.8L96.2 319.2L96.2 334.8L144.2 334.8L141.8 327.8L143.2 321.8L142.2 321.2L139.2 322.8L137.8 319.8L143.8 314.8L143.8 312.8L139.2 309.2L138.8 306.8L144.2 303.8L144.2 301.8L142.2 297.8L144.2 295.2L145.8 291.2L146.8 292.8L148.8 293.2L150.2 295.8L153.8 296.2L156.8 298.8L156.2 300.8L158.8 304.8L159.2 312.2L163.8 314.8L163.8 317.2L165.2 319.8L168.8 317.8L168.8 314.8L170.8 312.2L173.8 311.2L176.8 313.8L178.8 312.2L178.2 308.8L181.8 302.8L179.2 296.2L178.8 288.8L182.8 285.8L184.8 280.8L184.8 278.2L185.8 277.2L193.8 277.8L195.8 276.8L202.8 279.8L206.2 282.8L207.2 285.8L205.2 288.2L206.8 294.2L204.2 298.8L205.2 303.2L203.2 306.8L202.8 310.8L201.8 311.2L197.8 308.2L194.8 308.2L187.8 316.2L189.2 321.2L191.8 325.2L191.8 328.2L194.8 330.8L195.2 334.8L224.8 334.8L224.2 329.8L222.2 327.2L221.8 318.8L220.2 315.2L220.2 311.8L224.2 307.8L223.8 300.2L225.2 294.2L222.8 291.8L222.8 287.2L224.8 284.8L224.2 281.8L227.8 280.2L231.2 276.8L240.2 277.8L242.2 278.8L248.2 278.2L251.8 281.2L256.2 281.2L258.2 279.2L270.8 278.8L277.8 280.2L280.8 277.2L284.8 277.2L288.8 278.8L292.2 277.8L294.2 278.2L290.8 284.2L290.2 287.2L287.8 286.2L284.2 286.8L283.8 288.2L286.8 294.2L283.8 297.2L274.8 302.8L277.8 306.8L278.2 310.2L280.8 312.8L285.2 312.8L284.2 318.2L286.2 322.2L283.8 328.2L286.8 330.8L286.2 334.8L347.2 334.8L347.8 331.2L349.8 329.8L352.2 329.8L353.8 327.2L356.2 328.2L358.8 330.8L364.8 330.8L367.2 328.8L370.2 328.2L371.8 326.2L371.8 315.2L367.8 313.2L364.8 313.8L361.2 312.8L359.2 313.8L355.2 310.2L354.8 308.2L356.2 303.8L355.8 299.2L356.8 297.8L356.8 294.2L354.2 292.2L350.8 292.8L347.2 287.8L348.2 282.2L352.8 278.2L355.2 277.2L357.8 277.8L358.8 278.8L358.8 280.8L359.8 281.2L361.8 280.2L367.2 280.2L372.2 276.2L375.8 276.2L383.8 280.8L385.8 280.2L387.8 277.8L389.2 277.8L392.8 280.2L394.8 280.2L400.8 275.8L403.8 276.8L413.2 275.8L416.8 278.8L419.2 278.8L421.2 277.2L424.8 276.8L429.2 279.2L436.8 278.2L440.2 276.8L444.2 276.8L449.8 280.2L450.8 282.8L452.8 283.2L455.2 285.8L455.8 287.2L453.2 289.2L454.8 295.2L464.2 294.8L466.2 296.2L466.8 298.8L470.8 302.2L470.8 304.2L468.2 306.8L468.2 308.8L470.8 310.2L472.2 313.8L474.2 315.8L478.2 317.8L481.8 313.8L481.8 311.8L479.2 307.8L482.2 304.2L482.8 302.2L486.8 298.8L485.2 293.2L486.8 291.2L486.2 288.2L489.2 281.2L489.2 278.2L491.2 276.2L493.2 276.2L498.8 279.8L500.8 279.8L512.8 275.8L514.2 276.8L514.8 279.2L516.8 280.8L523.8 278.8L533.2 277.8L543.8 278.2ZM118.2 315.8L120.2 317.2L119.8 318.8L117.2 317.2ZM175.2 274.8L174.8 277.8L169.2 277.8L167.2 278.8L165.2 278.2L165.2 277.2L168.8 275.2L171.2 272.2ZM451.8 271.2L453.8 270.2L455.8 273.2L457.8 273.2L461.8 270.2L468.8 270.8L472.2 273.2L472.8 277.2L469.8 280.8L465.8 280.2L462.8 277.8L453.8 278.8L452.2 276.8ZM290.2 235.8L291.8 234.2L293.8 235.2L292.8 236.2ZM293.2 158.8L295.2 157.2L300.2 157.8L303.2 154.8L303.2 152.8L300.8 149.2L301.2 148.2L308.8 151.2L315.8 152.2L322.2 148.8L323.2 145.8L325.2 145.2L327.8 147.2L327.8 150.2L331.2 154.2L331.2 156.8L329.8 158.8L330.2 160.8L334.2 162.8L337.8 162.8L341.8 161.2L345.8 158.2L347.8 158.2L348.8 159.2L348.2 162.8L354.8 165.8L359.8 165.8L363.8 168.2L372.2 170.2L387.8 169.8L390.8 171.2L393.8 171.2L396.8 173.2L398.2 172.8L399.8 169.8L402.2 167.8L406.2 168.2L410.2 171.8L429.2 169.8L436.8 174.8L436.8 181.2L435.2 183.8L429.2 186.2L417.8 186.2L414.2 187.8L410.8 187.2L408.2 185.2L399.2 185.2L395.2 184.2L392.8 186.2L392.8 189.8L389.2 193.2L387.8 193.2L383.8 190.2L381.2 190.2L378.2 192.2L372.8 191.8L369.8 189.2L364.2 189.8L363.2 188.8L363.2 182.2L365.8 177.2L365.8 172.2L358.2 172.8L354.8 172.2L351.2 170.2L348.2 170.2L343.2 173.8L340.8 173.8L337.2 171.2L334.8 170.8L331.2 173.8L327.8 174.2L321.2 171.8L317.2 165.8L311.8 167.2L310.2 166.2L310.8 163.8L305.8 161.2L294.2 160.2ZM294.8 133.8L296.2 133.8L297.2 135.2L297.2 136.8L295.8 138.2L294.8 138.2L293.2 136.2ZM273.8 115.2L274.8 117.8L277.2 117.8L281.2 115.8L285.2 116.2L286.8 117.8L285.8 121.2L288.8 122.8L293.8 121.2L302.8 121.8L304.2 120.8L304.8 116.8L310.8 116.2L309.2 111.2L274.8 111.2L274.8 113.8ZM257.8 111.2L212.8 111.2L213.2 118.8L210.2 122.8L212.2 126.8L211.2 129.2L204.8 130.2L201.8 128.2L197.2 128.8L192.8 126.2L191.2 126.2L188.2 128.8L185.8 128.8L183.8 126.8L180.8 125.8L175.2 126.8L167.2 131.8L168.8 135.8L167.2 142.8L170.8 144.8L177.8 145.8L178.8 146.8L177.8 150.8L182.8 148.2L185.2 151.8L189.2 153.2L192.2 152.8L196.2 148.2L198.2 148.2L200.8 149.8L207.2 149.2L213.2 152.8L219.2 153.2L222.2 151.8L224.8 148.8L229.8 147.8L231.8 143.8L230.2 139.2L226.8 137.2L224.2 137.2L221.8 135.2L221.2 130.8L226.2 127.2L229.2 128.2L234.8 128.2L239.2 126.2L244.2 126.8L249.8 129.8L252.8 129.8L256.2 128.2L258.8 124.8L258.8 122.2L256.2 118.2ZM96.2 126.2L105.8 126.8L112.2 129.2L116.2 128.8L122.2 125.2L124.2 125.8L127.8 129.2L131.2 129.2L136.2 125.2L138.2 125.2L143.2 127.8L146.2 126.8L159.8 126.8L160.2 125.2L156.8 120.8L156.2 118.2L161.8 114.8L162.2 111.2L96.2 111.2Z"/><path fill-rule="evenodd" fill="#f0f000" d="M320.2 334.2L324.8 334.8L323.8 332.8L321.2 332.8ZM298.2 332.8L297.8 334.8L299.8 334.8L299.8 332.8ZM492.8 330.8L493.2 334.8L511.2 334.8L510.8 332.2L505.2 331.2L503.2 329.8L503.2 332.2L502.2 333.2L496.2 330.2L493.2 329.8ZM543.8 327.8L542.2 327.8L537.8 331.2L533.2 330.8L534.8 334.8L543.8 334.8ZM351.8 319.8L352.8 324.2L357.2 325.8L360.8 328.8L362.8 328.8L365.2 324.8L366.2 325.8L368.2 325.8L370.2 324.2L370.2 321.2L367.8 318.2L363.8 318.8L361.2 316.8L355.2 316.8ZM411.8 313.8L414.8 318.8L420.2 322.8L420.2 325.2L421.8 326.8L422.2 329.8L424.2 331.2L424.2 334.8L460.2 334.8L460.2 332.2L464.2 327.2L464.2 323.2L461.8 320.8L460.2 316.2L460.8 313.2L463.2 310.2L463.2 308.2L461.8 306.8L457.2 305.8L453.2 301.2L445.8 302.2L443.2 300.8L439.8 300.8L438.2 301.8L432.2 302.2L424.2 309.8L422.2 309.8L419.2 306.8L415.8 307.8L415.2 310.2ZM396.8 285.2L392.8 288.8L393.8 293.2L391.8 295.8L391.2 299.8L389.2 302.2L389.2 304.2L392.8 305.8L393.2 310.2L388.2 311.8L388.2 314.2L391.2 316.8L390.8 326.2L394.8 328.2L394.2 334.8L396.2 334.8L396.2 331.2L400.2 326.2L400.2 319.2L402.8 314.8L402.8 312.2L400.2 308.8L398.8 303.8L402.2 300.2L403.2 297.8L399.2 294.2L398.8 289.2ZM355.8 294.2L350.2 294.2L345.2 287.8L343.8 283.2L338.2 286.2L333.2 285.8L332.2 286.2L331.8 288.8L329.8 290.2L324.8 288.8L321.2 288.8L315.2 285.8L309.8 285.8L305.2 288.2L297.8 287.2L297.2 287.8L299.2 290.8L299.2 293.2L296.2 296.2L299.2 297.8L299.8 299.8L296.2 301.8L296.2 303.8L299.2 305.2L300.8 308.2L298.2 309.8L295.8 309.8L296.8 311.8L296.8 314.8L295.8 315.8L293.2 315.8L290.2 312.2L288.2 312.2L287.2 314.2L287.2 325.8L291.8 328.8L295.2 327.2L303.2 327.2L303.8 328.2L301.8 331.2L304.8 333.8L304.8 334.8L317.8 334.8L318.8 330.2L321.2 328.8L325.8 331.8L329.8 332.8L330.8 334.8L344.2 334.8L344.8 330.8L350.2 326.2L349.8 324.2L347.2 325.8L345.8 324.2L345.8 322.2L347.8 319.8L347.8 315.8L348.8 313.8L352.8 311.2L351.8 307.8L353.8 305.2L353.8 303.2L351.8 300.2L355.2 296.2ZM354.8 276.2L352.8 275.8L349.8 273.2L344.8 274.8L330.8 274.2L329.2 275.2L330.2 277.8L339.2 279.2L344.2 276.8L347.2 276.8L349.8 279.2ZM356.2 276.2L358.2 276.8L359.8 278.2L359.8 279.8L366.2 279.8L371.2 275.8L374.8 275.2L375.2 273.8L372.8 272.8L365.2 275.8L359.2 270.8L358.2 271.2L357.8 274.2ZM298.8 275.2L296.8 272.2L294.8 271.8L292.2 272.8L290.2 275.2L287.8 274.8L283.8 271.8L275.2 272.8L272.8 274.8L265.8 273.8L263.2 271.8L260.2 271.8L257.8 269.8L256.8 269.8L257.8 273.2L255.8 275.2L245.8 275.2L239.8 272.8L236.2 272.8L234.8 273.8L225.2 272.8L222.8 274.2L216.2 273.8L211.2 275.2L206.2 273.8L187.8 274.8L184.2 271.8L181.8 271.8L174.8 278.8L168.8 278.2L165.2 279.2L163.8 277.2L168.2 274.2L168.2 272.2L167.2 271.8L161.2 274.2L159.2 273.8L158.2 272.2L152.8 273.2L137.2 272.2L136.2 276.8L134.2 278.8L128.2 279.2L123.2 281.8L119.8 281.8L114.2 279.2L113.8 275.2L111.8 275.2L108.8 277.8L103.2 275.8L100.2 273.2L96.2 272.8L96.2 286.2L103.8 285.2L105.8 283.2L107.8 283.2L107.8 285.2L105.8 286.8L107.2 289.2L110.2 290.2L114.2 290.2L116.8 289.2L122.2 293.8L122.8 295.8L121.8 319.8L117.8 320.2L114.2 316.8L110.8 316.8L103.8 320.8L96.2 320.2L96.2 334.8L143.2 334.8L141.8 331.2L141.2 324.2L139.8 324.2L137.2 322.2L136.8 319.2L143.2 314.2L143.2 312.8L138.8 309.2L138.2 305.8L142.2 304.8L143.8 303.2L141.8 299.8L141.8 297.2L144.2 293.2L143.2 288.2L143.8 285.2L144.8 284.2L148.2 292.2L149.8 292.8L152.2 295.8L156.8 297.8L157.2 301.2L159.2 304.8L159.8 311.2L164.2 313.8L164.8 316.8L170.8 311.2L177.2 311.2L177.8 306.2L179.8 302.8L177.2 288.8L181.8 284.8L182.8 280.8L180.2 282.2L178.8 282.2L177.8 280.8L185.2 275.8L189.2 276.8L198.2 276.2L203.2 279.2L208.2 284.2L208.2 285.8L206.2 288.8L207.8 294.2L205.2 298.2L206.8 303.2L204.2 307.2L205.8 312.2L203.8 314.2L200.2 314.2L198.8 313.2L197.2 314.2L195.8 320.8L197.2 324.8L203.2 330.8L203.8 334.8L223.2 334.8L223.2 331.2L220.2 327.2L220.8 319.8L219.2 316.2L219.2 311.2L223.2 307.2L223.2 295.8L220.8 291.2L221.8 285.8L224.8 279.8L227.2 279.2L229.8 276.2L231.2 275.8L240.2 276.8L241.8 277.8L247.2 277.2L250.2 278.2L252.2 280.2L254.2 280.2L260.2 277.2L277.2 278.2L280.8 275.8L285.8 275.8L290.2 277.2L293.2 275.2ZM543.8 232.8L541.2 233.2L537.8 235.8L536.8 235.8L533.2 231.8L528.2 231.8L524.8 234.2L526.2 239.8L524.2 244.8L520.2 247.2L514.8 245.2L513.2 247.2L513.2 249.8L514.8 250.8L523.2 251.2L522.8 257.2L518.2 254.8L515.2 254.8L511.2 257.2L504.2 257.2L494.2 261.2L493.8 263.8L499.8 268.2L500.2 270.2L499.2 271.2L494.8 271.8L489.8 270.8L487.2 273.8L485.2 274.2L479.2 270.2L476.8 269.8L473.8 274.2L472.8 278.8L469.8 281.2L466.8 281.2L462.8 278.2L458.8 278.2L453.2 279.8L451.8 278.2L450.2 272.2L447.8 273.2L441.8 273.2L438.8 275.8L435.8 272.2L429.2 271.8L425.8 273.2L421.2 273.2L419.2 274.2L413.8 272.8L409.2 274.8L400.8 273.8L397.8 275.2L389.8 275.2L382.8 273.2L380.8 275.2L377.2 276.2L381.8 279.2L384.2 279.2L387.8 276.2L393.8 278.8L399.8 275.2L404.8 276.2L413.8 275.2L417.2 278.2L421.8 276.2L425.8 276.2L430.8 278.8L439.2 276.2L444.8 276.2L447.8 278.8L450.8 279.8L456.2 285.2L457.8 288.8L455.2 291.2L457.8 292.2L463.2 291.2L466.2 293.2L467.2 297.8L471.8 301.8L471.8 305.2L469.2 307.8L471.8 309.2L473.2 313.2L477.2 315.8L479.2 314.2L479.2 312.2L477.2 310.2L477.2 308.2L480.2 304.8L481.2 300.8L483.8 297.8L483.2 294.8L485.2 291.2L485.8 284.8L488.2 280.8L488.8 277.8L490.2 276.2L493.2 275.8L499.8 279.2L513.2 275.2L514.8 276.2L516.2 279.8L531.8 277.2L543.8 277.2ZM96.2 230.2L96.2 250.2L100.2 250.8L102.8 252.8L105.2 252.8L107.2 250.8L108.2 246.2L105.2 243.2L105.2 237.8L103.2 234.2L102.8 230.8L101.8 229.8ZM251.2 192.8L254.2 193.8L261.8 193.2L264.8 194.2L263.2 190.8L266.2 186.8L266.2 185.2L261.2 185.2L257.2 183.8L254.8 190.8ZM247.2 191.8L247.2 184.8L248.2 181.8L244.8 177.8L240.2 179.2L240.2 181.2L238.8 182.2L236.8 182.2L233.8 184.2L231.2 183.2L230.2 178.2L231.8 176.8L236.8 175.8L236.8 174.2L232.2 173.2L230.8 171.2L230.8 168.8L227.8 168.8L225.8 167.2L225.8 165.2L228.8 162.2L225.8 162.8L222.2 161.2L218.2 162.8L214.2 162.8L210.8 161.2L204.2 162.2L201.8 158.8L197.2 156.2L195.2 157.8L196.2 160.8L194.8 162.2L188.8 164.8L185.8 164.8L182.2 162.2L175.8 162.8L172.8 161.8L167.8 164.8L166.2 164.8L162.8 162.8L155.8 163.8L145.8 160.2L139.2 160.2L134.2 163.8L135.2 165.8L134.2 167.2L124.2 168.8L120.2 165.8L115.2 165.8L112.8 167.2L107.8 168.2L107.8 170.8L113.8 174.2L122.8 172.8L123.8 174.2L121.2 177.2L118.2 178.2L116.2 182.8L121.8 181.8L123.8 183.8L123.8 185.8L128.8 186.8L135.2 191.8L136.2 194.8L152.8 194.2L159.2 195.8L161.8 192.8L163.2 192.8L164.8 195.8L166.8 196.2L171.2 193.2L178.2 194.2L186.8 192.8L192.8 195.2L195.8 191.8L197.8 192.8L201.8 192.2L203.8 193.8L219.8 193.8L223.2 192.2L226.8 192.2L231.2 196.2L235.2 196.8L236.8 194.2L239.8 192.2ZM196.2 165.8L196.8 163.2L198.2 162.2L203.2 163.8L202.8 165.2L198.2 166.2ZM262.8 159.8L257.8 158.2L250.2 153.8L247.8 154.2L246.2 155.8L247.8 160.8L245.8 162.8L243.2 163.2L243.2 166.8L241.8 168.8L238.2 170.8L238.2 172.8L246.2 171.2L246.8 166.2L248.2 164.8L258.2 164.2L260.2 162.8L260.8 160.8ZM140.2 149.8L139.2 149.2L136.2 150.2L135.2 151.8L139.8 151.8ZM543.8 111.2L522.8 111.2L523.2 114.8L522.2 115.8L517.8 116.2L516.8 118.2L513.8 120.2L512.2 123.8L503.8 125.8L503.8 128.8L502.8 129.8L499.2 127.8L497.2 127.8L496.8 129.8L499.8 134.2L509.2 132.2L517.2 132.8L519.2 131.8L522.8 131.8L526.8 135.8L534.8 134.2L540.2 131.8L543.8 131.8ZM246.2 139.2L246.2 141.8L247.8 143.8L264.2 145.2L272.8 143.2L275.2 144.8L276.2 155.2L273.8 156.2L271.2 154.8L269.2 154.8L268.2 156.8L264.8 159.2L268.2 162.2L266.2 166.8L268.8 169.8L268.8 171.8L265.8 174.2L258.8 174.2L258.2 175.2L264.2 177.2L265.8 178.8L265.8 182.2L267.8 183.8L270.2 183.8L272.8 181.8L275.2 181.2L283.8 184.8L285.8 188.2L285.8 194.2L290.2 196.2L293.8 195.8L295.8 193.2L300.2 194.2L307.2 191.2L309.2 191.2L313.8 195.2L319.8 195.8L320.8 196.8L319.2 200.8L319.8 201.8L325.2 201.8L327.2 199.8L333.2 198.2L338.8 198.8L343.2 202.8L350.2 200.2L352.8 196.2L354.8 196.2L356.8 198.8L363.2 202.2L366.2 202.2L372.2 198.8L376.2 198.8L379.2 200.2L384.2 199.8L389.8 201.2L393.8 200.2L399.8 201.2L402.8 199.8L407.2 199.8L414.2 202.2L416.8 202.2L419.2 200.8L427.8 200.8L431.8 202.2L444.2 202.2L454.8 198.8L458.8 199.2L461.2 200.8L461.8 201.8L460.8 204.2L461.8 205.2L471.8 205.8L479.2 208.2L484.8 208.2L487.8 207.2L489.2 208.8L489.8 214.8L487.8 220.2L488.2 224.2L487.2 225.2L484.2 225.2L482.8 223.8L477.8 222.2L473.8 222.2L471.2 223.2L469.2 225.8L463.8 227.2L465.8 228.2L465.2 230.8L467.2 233.2L467.8 235.8L470.2 238.2L476.8 238.2L481.8 240.2L486.8 236.8L488.8 236.8L493.2 239.2L497.8 239.8L499.8 238.2L504.8 238.2L508.2 235.2L514.2 235.8L515.8 234.8L515.2 229.8L516.8 226.8L522.8 222.8L529.2 224.8L533.8 224.8L538.8 221.2L543.8 221.8L543.8 202.8L540.2 202.8L537.2 200.8L527.2 202.2L522.8 196.2L516.8 195.8L515.8 193.8L518.2 184.8L517.8 182.2L513.8 177.2L510.2 176.2L507.8 172.8L501.8 171.2L492.8 172.8L486.8 170.8L474.8 172.2L471.8 173.8L466.8 173.8L462.8 171.8L462.8 173.2L467.2 176.8L467.2 178.2L458.8 182.8L455.8 183.2L455.2 185.2L453.2 187.2L448.2 186.8L443.2 182.8L444.2 181.2L444.8 175.2L447.2 169.8L447.2 161.8L449.2 160.2L459.8 158.8L463.8 160.2L465.8 158.2L474.8 156.8L478.2 154.8L482.8 156.8L487.2 156.8L495.2 155.2L497.2 157.8L500.2 157.8L501.2 156.8L501.2 151.8L499.2 147.8L499.2 144.2L492.8 145.8L490.2 143.2L490.2 140.8L486.8 138.8L483.2 140.8L469.8 139.8L468.8 137.2L473.8 132.8L473.8 130.8L469.2 127.8L466.8 127.2L462.8 129.2L458.2 129.2L454.8 126.8L452.2 126.8L449.2 128.8L444.2 129.8L444.2 135.2L442.8 138.8L441.2 138.8L434.8 135.2L429.2 135.8L426.2 137.8L428.2 141.2L427.8 145.2L426.8 146.2L422.8 146.2L420.2 149.2L415.2 146.2L408.2 146.2L403.2 144.2L399.2 139.8L396.2 138.8L392.8 138.8L387.8 141.2L385.2 140.8L383.2 135.2L387.2 134.2L389.2 132.8L388.8 129.2L384.8 129.8L383.8 128.8L384.8 125.8L383.8 119.2L386.2 116.8L389.8 115.8L392.2 117.2L394.2 117.2L397.8 113.2L400.2 113.2L402.8 115.2L407.8 116.8L409.8 119.8L414.2 120.2L414.2 117.8L416.2 115.2L416.2 111.2L329.8 111.2L327.8 117.2L327.8 119.2L329.2 121.8L328.2 123.8L326.8 124.2L322.2 121.8L318.8 121.8L313.2 125.8L313.2 126.8L315.8 126.8L319.8 122.8L322.2 124.8L322.2 129.2L319.2 132.2L313.2 131.8L308.2 134.8L303.2 134.8L298.2 131.2L295.2 132.8L283.8 132.2L281.8 132.8L278.8 135.2L274.8 135.2L271.8 132.2L269.8 131.8L266.2 133.8L250.2 134.2ZM292.2 158.2L295.2 156.2L300.8 156.8L302.8 154.8L302.8 152.8L300.2 149.8L301.2 147.8L305.2 149.8L314.8 152.2L320.2 149.2L322.2 147.2L322.8 144.2L325.2 144.2L328.8 147.2L328.2 149.8L329.8 151.8L335.2 150.8L336.2 151.8L331.8 155.2L330.8 160.8L333.2 162.2L338.8 162.2L345.2 158.2L347.8 157.8L349.2 159.2L349.2 163.2L352.2 163.8L355.8 165.8L359.2 165.2L365.2 168.2L374.2 167.8L377.2 169.2L382.2 169.2L386.8 167.8L393.8 168.2L397.8 166.8L405.2 167.2L408.2 168.8L411.8 168.8L414.8 167.2L432.8 167.2L434.2 168.8L434.8 171.8L437.2 174.8L437.2 181.8L434.2 184.8L425.8 187.2L425.2 189.2L422.2 191.2L419.8 191.2L416.8 189.8L412.8 189.8L409.8 191.8L407.8 191.8L406.2 188.2L402.8 186.8L396.8 190.8L392.2 191.2L389.8 194.8L387.8 194.8L383.8 191.8L381.2 191.8L377.2 195.8L375.8 195.8L374.8 194.8L375.2 192.8L372.8 192.2L369.2 189.8L363.8 190.2L362.8 189.2L362.8 182.8L365.8 176.2L365.8 172.8L364.8 172.2L359.8 173.2L355.8 172.8L349.2 170.2L344.2 173.8L339.8 173.8L336.8 171.2L334.2 171.2L331.2 174.2L327.2 174.2L320.8 171.8L317.8 166.8L310.2 167.8L309.2 166.8L309.8 164.2L306.2 161.8L294.8 161.2L292.2 159.2ZM294.8 133.2L296.8 133.8L297.8 135.2L296.2 138.2L294.2 138.2L293.2 136.8L293.2 134.8ZM274.2 117.2L276.8 117.8L280.2 115.8L283.8 115.8L286.8 117.2L287.2 118.2L286.2 121.2L287.8 122.2L295.8 120.8L301.2 121.8L303.2 120.2L303.8 116.2L309.8 116.2L310.2 114.8L308.8 111.2L275.2 111.2ZM257.2 111.2L213.2 111.2L213.8 117.8L210.8 122.2L210.8 123.8L212.8 126.8L211.8 129.2L205.8 130.8L201.2 128.2L196.2 128.8L193.2 126.8L191.2 126.8L187.8 129.2L186.2 129.2L181.8 126.2L174.8 127.2L167.8 131.8L169.2 136.2L167.8 142.2L170.8 144.2L178.2 145.8L179.2 147.2L178.2 150.2L181.2 148.2L183.2 148.2L185.2 151.2L187.8 152.8L191.8 152.8L195.8 148.2L198.8 148.2L201.2 149.8L208.2 149.2L215.2 153.2L219.8 152.8L224.8 148.2L229.8 147.2L231.2 144.2L231.2 141.8L229.2 138.8L223.8 137.2L221.8 135.8L221.2 130.2L225.8 127.2L233.8 128.2L238.2 126.2L245.2 126.8L250.8 129.8L256.8 127.8L258.2 125.2L258.2 121.8L256.2 118.8ZM96.2 125.8L106.2 126.8L110.8 128.8L115.2 128.8L121.2 125.2L123.8 125.2L128.8 129.2L131.8 128.8L135.2 125.2L139.2 125.2L142.2 127.2L147.2 126.2L159.8 126.2L156.2 120.2L156.2 117.8L161.2 114.8L161.8 111.2L96.2 111.2Z"/><path fill-rule="evenodd" fill="#f0a000" d="M495.2 333.2L495.2 334.8L500.2 334.8L497.8 332.2ZM543.8 329.8L540.2 331.2L540.8 334.8L543.8 334.8ZM317.2 321.8L314.8 322.2L311.8 325.8L311.8 329.8L314.2 332.8L314.8 334.8L315.8 334.8L317.2 328.2L316.2 325.2L316.2 322.8ZM362.2 320.8L359.2 321.2L357.8 323.2L356.2 323.2L360.8 324.8ZM302.8 318.8L301.8 318.8L301.2 320.2ZM292.8 318.8L296.2 321.2L297.2 324.2L299.2 323.8L296.8 319.2L294.2 318.2ZM416.8 312.8L417.8 314.2L417.8 317.8L420.8 319.2L422.8 318.8L424.2 320.2L423.2 327.8L427.2 329.8L427.8 334.8L459.2 334.8L459.8 330.8L463.2 327.2L463.2 324.8L460.8 321.8L459.8 318.2L460.2 312.8L462.2 309.8L462.2 308.2L454.8 306.2L451.8 302.8L445.8 303.2L442.8 301.8L433.2 302.8L431.8 305.8L428.8 307.8L423.8 315.8L418.8 312.2ZM396.8 287.8L395.2 289.2L395.8 293.2L392.8 296.8L391.8 301.8L394.2 305.2L394.8 312.2L393.2 313.8L390.8 312.2L388.8 312.8L389.8 314.2L392.2 315.2L391.8 324.8L395.8 328.2L395.2 334.8L395.2 331.2L398.2 327.8L398.2 324.8L394.8 323.8L394.2 321.2L395.8 319.2L398.2 318.2L399.8 315.8L398.2 302.8L401.8 298.8L401.8 297.8L397.8 293.8ZM302.2 291.2L300.8 295.8L302.8 298.8L302.8 300.2L300.8 303.2L303.8 304.8L303.2 306.2L306.2 312.2L303.8 316.8L304.2 317.8L308.8 315.8L308.8 311.8L307.8 309.2L309.8 301.8L310.8 301.2L320.2 304.8L320.8 308.2L317.8 311.2L317.2 314.8L321.2 319.2L322.8 324.2L327.2 324.8L329.8 328.2L334.2 329.8L338.2 325.2L342.8 323.8L343.8 317.2L346.2 314.2L346.8 312.2L350.2 310.2L349.2 308.8L349.2 306.2L350.2 304.8L350.2 295.2L344.8 289.8L343.2 289.2L340.2 290.2L338.2 288.8L334.8 288.2L332.8 290.8L328.2 292.8L323.2 291.2L316.8 291.8L311.8 286.8L309.8 286.8L307.2 287.8L305.2 290.2ZM206.2 277.8L205.2 279.8L209.2 283.8L209.2 286.2L207.2 288.8L208.8 294.8L206.2 299.2L208.2 300.8L210.2 298.2L210.8 300.2L205.8 306.2L205.8 308.2L207.8 310.2L208.2 315.2L207.2 316.2L200.8 316.8L199.8 317.8L199.8 321.8L203.2 325.2L205.8 329.8L205.8 334.8L220.8 334.8L220.8 331.8L218.2 331.8L217.2 330.8L219.8 324.2L219.8 321.2L218.2 318.2L218.8 309.2L222.2 306.8L222.2 298.8L219.2 295.2L219.8 287.2L217.2 285.8L218.8 282.2L215.8 281.8L208.2 277.8ZM148.2 279.8L146.8 281.8L147.2 287.2L152.8 291.8L152.2 294.8L157.8 297.8L157.8 300.8L159.8 304.2L160.2 310.8L165.2 313.8L175.8 308.8L176.2 306.2L174.8 303.2L176.8 301.2L177.2 297.2L176.2 287.8L178.2 285.8L176.2 280.2L171.8 278.2L165.8 279.8L157.2 277.8ZM142.8 275.8L138.8 274.2L137.8 274.8L137.8 277.8L136.8 278.8L128.8 279.2L125.8 281.2L121.8 282.2L113.8 281.2L112.8 284.2L113.8 289.2L117.2 287.8L121.2 290.8L123.8 294.2L123.8 301.2L122.8 303.8L122.8 311.2L123.8 313.8L123.2 319.2L121.2 321.2L117.8 321.2L113.8 317.8L111.2 317.8L104.2 321.2L96.2 321.2L96.2 334.8L136.8 334.8L136.8 333.8L140.8 330.8L140.8 325.8L136.8 322.8L135.8 318.8L142.8 314.2L142.8 312.8L137.2 307.8L137.2 305.2L138.2 304.2L142.8 303.8L142.8 301.8L140.8 298.8L143.2 293.2L141.8 289.8L141.8 285.2L143.8 277.8ZM454.8 282.2L457.2 285.2L460.8 286.8L466.8 284.2L470.2 288.2L467.2 292.8L467.2 294.8L468.2 297.2L472.2 300.8L473.2 305.2L475.8 307.2L479.2 304.2L481.2 294.8L484.2 291.2L484.2 285.8L481.2 283.2L481.2 280.8L482.2 279.2L486.8 277.8L489.8 275.2L492.2 274.8L497.8 278.2L500.2 278.2L513.2 274.2L516.2 276.8L517.2 279.2L527.2 276.8L543.8 276.2L543.8 275.2L539.8 273.8L536.2 274.2L533.2 272.2L528.8 273.8L524.2 273.8L520.2 271.2L517.8 271.2L514.2 273.2L510.2 273.8L506.2 271.2L504.8 271.2L498.2 273.8L490.8 272.2L488.8 275.2L485.2 275.8L481.2 274.2L477.2 271.2L473.8 278.8L469.8 281.8L466.8 282.2L462.8 278.8L456.2 279.2ZM495.2 262.2L495.2 264.2L500.2 267.2L505.8 267.2L507.8 265.2L507.8 262.8L506.2 261.8L499.2 261.2ZM515.2 247.2L515.2 249.2L516.2 249.8L521.2 248.8ZM526.8 233.8L526.2 236.8L527.2 239.8L525.2 245.2L522.8 248.2L524.8 249.8L525.2 256.8L526.2 257.8L537.2 257.2L541.2 260.2L543.8 260.8L543.8 233.8L537.8 236.8L535.8 236.2L532.2 232.8L528.8 232.8ZM96.2 230.8L96.2 249.2L105.2 251.8L106.8 249.8L107.2 246.2L104.8 243.8L104.2 236.2L102.8 233.8L102.8 231.8L101.8 230.2ZM257.8 184.2L258.2 188.2L260.8 191.2L262.2 190.8L265.8 186.8L264.8 185.2L261.2 185.8ZM543.8 220.8L543.8 203.2L539.8 202.8L536.8 200.8L527.8 202.8L521.8 196.8L516.8 196.2L515.8 195.2L515.8 192.8L517.8 185.2L517.2 183.2L512.8 178.2L509.2 177.8L507.8 173.8L503.2 172.2L491.2 173.2L487.8 171.8L475.8 172.8L470.8 174.2L463.2 172.8L467.8 176.8L467.2 178.8L459.8 182.8L456.2 183.2L455.2 185.8L452.8 187.8L450.2 187.8L446.8 186.2L441.8 181.8L438.8 181.8L433.8 185.2L427.2 187.2L426.8 190.2L424.8 192.2L419.8 192.8L417.2 191.2L413.2 191.2L409.8 193.8L407.8 193.8L405.2 191.8L404.8 188.8L403.8 188.2L399.2 191.2L393.2 192.2L391.2 195.2L392.2 196.8L395.2 196.8L399.2 194.2L402.2 194.2L404.8 195.8L408.8 195.8L412.8 193.8L418.2 194.2L419.2 196.2L420.8 196.8L423.2 194.8L430.8 195.8L442.8 194.2L449.8 198.8L452.8 196.2L463.2 195.8L463.2 199.2L466.8 199.2L467.8 200.2L467.2 203.8L468.8 204.8L480.8 207.8L487.8 206.2L490.2 207.8L491.8 211.2L491.2 216.8L492.2 218.8L489.8 219.8L489.2 222.2L491.2 224.2L508.8 221.8L513.2 225.2L516.8 225.2L522.8 221.8L528.2 223.8L532.8 223.8L537.2 220.8ZM246.2 165.2L244.8 165.2L241.2 169.2L238.8 170.2L238.2 171.8L239.8 172.8L246.2 170.8ZM108.2 168.2L108.2 170.8L113.2 173.8L123.2 172.2L124.2 174.2L121.8 178.2L124.8 185.2L129.2 186.2L134.2 190.2L138.8 189.2L147.2 191.2L151.2 189.2L161.2 188.2L166.2 190.8L173.2 189.2L177.8 191.2L180.8 189.2L182.2 189.2L184.8 190.8L189.2 191.2L191.8 189.2L197.8 189.2L201.2 185.8L202.8 185.8L206.8 190.2L211.8 188.8L214.8 190.8L219.2 191.2L223.2 189.8L227.2 190.8L230.2 193.2L232.8 193.2L235.2 189.8L241.8 190.8L245.8 189.2L246.8 188.2L246.8 184.8L247.8 183.2L247.8 181.8L244.8 178.2L241.2 179.2L239.8 182.2L236.8 182.8L233.8 184.8L231.2 184.2L229.8 178.2L231.2 176.8L236.2 175.8L236.2 174.8L232.2 173.8L230.8 172.2L229.8 168.8L226.8 168.8L225.2 167.2L225.2 165.2L227.8 162.8L224.2 162.8L222.8 161.8L220.8 161.8L216.8 163.8L211.2 161.8L208.2 161.8L204.8 163.2L205.8 165.2L204.8 166.8L200.2 166.2L195.8 167.2L194.8 166.2L195.2 162.8L193.2 162.8L189.8 164.8L184.8 164.8L182.2 162.8L176.2 163.2L172.2 162.2L169.8 164.2L166.2 165.2L162.2 163.2L155.2 164.2L151.8 162.2L147.8 162.2L145.2 160.8L138.2 161.2L135.2 163.8L136.2 166.2L133.8 167.8L124.8 169.2L119.2 165.8L115.8 165.8L112.8 167.8ZM212.8 178.2L212.2 180.2L209.2 180.2L205.2 182.2L203.2 181.2L205.2 178.8L210.2 176.8ZM196.2 157.8L197.2 160.8L201.8 161.2L201.2 159.2L197.8 157.2ZM248.2 155.2L247.8 156.8L249.2 159.8L247.2 163.8L247.8 164.2L255.8 164.8L259.8 162.8L260.8 160.2L260.2 159.2L254.2 157.2L249.8 154.2ZM317.2 123.8L313.8 126.2L315.8 126.2ZM543.8 111.2L523.2 111.2L524.2 114.8L522.2 116.2L518.2 116.2L517.2 118.8L514.2 120.8L512.2 124.2L504.8 125.8L504.2 129.2L503.2 130.2L501.2 130.2L498.8 128.2L497.8 128.2L497.2 129.8L500.8 134.2L506.8 132.2L516.2 132.8L522.2 131.2L526.8 135.2L535.8 133.8L539.2 131.8L543.8 131.2ZM246.8 138.8L246.8 142.2L248.8 143.8L250.8 143.2L256.2 144.8L265.2 144.8L272.2 142.8L275.8 144.8L276.8 155.8L274.2 156.8L271.8 155.2L269.2 155.2L266.2 159.2L269.8 163.8L273.8 163.8L275.2 165.8L270.8 166.2L267.2 165.2L266.8 167.2L268.8 169.2L269.2 171.8L265.2 174.8L258.8 174.8L264.8 177.2L266.2 178.8L266.8 182.8L270.2 183.2L273.2 181.2L275.8 181.2L279.2 183.2L282.2 183.8L284.8 185.2L286.8 192.2L292.8 189.8L307.2 188.8L310.2 189.2L312.2 192.2L314.8 193.8L319.2 192.8L321.2 194.2L323.8 194.2L328.2 192.8L332.2 192.8L338.2 195.8L343.8 194.8L347.2 191.8L353.2 192.2L358.8 195.2L365.2 193.2L368.8 193.2L372.8 194.8L373.2 193.2L368.8 190.2L364.2 191.2L362.2 189.8L362.2 183.8L365.8 173.8L364.8 172.8L357.2 173.2L353.2 172.2L351.2 170.8L348.8 170.8L343.2 174.2L339.2 173.8L336.2 171.2L334.8 171.2L331.8 174.2L327.8 174.8L320.8 172.2L317.8 167.2L309.8 168.2L308.2 167.2L308.8 164.2L306.2 162.2L295.2 161.8L292.8 160.8L291.8 159.2L291.8 157.8L294.8 155.8L300.2 156.2L302.2 154.2L301.8 151.8L299.8 149.8L299.8 148.2L301.2 147.2L307.2 150.2L315.8 151.8L320.8 148.2L321.8 146.8L321.8 143.8L325.2 143.8L328.8 146.2L329.2 150.8L331.2 151.2L336.2 150.2L337.2 151.2L335.8 154.2L333.8 154.2L332.2 155.8L331.2 160.8L332.8 161.8L337.8 162.2L343.2 159.8L345.2 157.8L347.8 157.2L349.8 159.2L350.2 162.8L355.2 165.2L360.2 165.2L364.8 167.8L374.2 166.8L378.2 168.8L381.8 168.8L387.8 166.8L392.8 167.8L399.8 165.8L410.2 168.2L413.8 166.8L433.2 166.2L438.2 175.2L438.2 177.8L440.8 178.8L443.2 178.2L443.8 175.8L446.8 170.8L446.8 161.2L449.2 159.8L454.8 159.2L459.8 154.8L467.2 157.8L476.8 154.2L479.8 154.2L484.2 156.2L495.2 154.2L498.2 157.2L499.8 156.8L500.8 154.8L498.8 145.2L497.8 144.8L494.2 146.2L491.8 145.8L489.2 142.8L489.8 140.8L487.8 139.2L485.8 139.2L482.8 141.2L479.2 140.2L469.8 140.2L468.2 137.2L473.2 132.8L473.2 130.8L468.2 127.8L459.2 129.8L453.2 126.8L449.8 128.8L445.8 129.2L444.8 130.2L444.8 135.2L443.2 139.2L435.2 136.2L430.2 136.2L427.2 138.2L428.8 141.2L428.8 146.2L423.8 146.2L420.8 149.8L418.8 149.8L415.8 147.2L412.2 147.2L403.2 144.8L397.8 139.2L392.8 139.2L387.2 141.8L384.8 141.2L382.2 135.8L380.2 134.2L385.8 134.2L389.2 131.8L388.8 129.8L387.8 129.2L384.8 130.2L383.2 128.8L384.8 124.2L383.2 119.8L387.2 115.8L390.2 115.8L393.2 117.2L397.2 113.2L400.2 112.8L404.8 115.8L411.2 117.8L415.8 115.2L415.8 111.2L330.2 111.2L328.2 116.8L329.8 123.2L328.2 124.2L325.8 124.2L322.2 122.2L319.2 122.2L322.2 124.2L323.2 126.8L322.2 130.2L320.2 132.2L314.2 131.8L309.2 134.8L304.2 135.2L301.8 134.2L299.2 131.8L297.2 131.8L295.8 132.8L297.8 134.8L297.8 137.2L296.2 138.8L293.8 138.2L292.8 136.8L293.8 132.8L282.2 132.8L279.2 135.2L275.2 135.8L271.2 132.2L269.2 132.2L265.2 134.2L251.8 134.2L250.2 134.8ZM274.2 116.8L277.2 117.2L281.2 115.2L285.2 115.8L287.2 117.2L286.8 121.2L290.2 122.2L293.8 120.8L301.8 121.2L303.2 115.8L309.2 115.8L309.8 114.8L308.8 111.2L275.2 111.2ZM257.2 111.2L213.2 111.2L213.8 119.2L211.2 122.2L211.2 124.2L213.2 127.2L212.2 129.2L204.8 130.8L201.8 128.8L197.8 129.2L192.8 126.8L188.8 129.2L185.8 129.2L182.8 126.8L178.2 126.8L174.2 128.2L168.2 132.2L169.8 136.2L168.8 142.2L171.2 143.8L178.2 145.2L179.2 146.2L179.2 149.2L181.2 147.8L183.2 147.8L186.2 151.8L189.2 152.8L191.8 152.2L193.2 149.8L196.2 147.8L198.2 147.8L200.8 149.2L207.2 148.8L213.2 152.2L219.2 152.8L224.8 147.8L228.8 147.2L230.8 144.8L230.8 141.2L228.8 138.8L221.8 136.2L220.8 130.2L226.2 126.8L231.8 128.2L239.2 125.8L244.2 126.2L250.2 129.2L252.8 129.2L256.2 127.8L258.2 124.2L257.8 121.2L255.8 118.2ZM96.2 125.8L105.8 126.2L112.2 128.8L117.2 127.8L122.2 124.8L124.2 125.2L128.2 128.8L131.2 128.8L136.2 124.8L139.8 125.2L143.2 127.2L146.2 126.2L159.2 126.2L159.2 124.8L155.8 119.8L155.8 117.8L157.2 116.2L160.8 115.2L161.8 111.2L96.2 111.2Z"/><path fill-rule="evenodd" fill="#f05000" d="M202.2 319.2L203.2 320.8L205.8 320.2L204.8 318.8ZM427.2 315.2L427.8 319.2L426.8 321.8L428.8 322.2L431.2 326.2L436.2 329.2L439.8 327.8L441.8 330.2L443.2 326.8L451.2 329.2L454.2 326.2L460.2 324.8L459.2 321.8L459.2 314.8L460.8 309.2L453.2 308.8L451.2 305.2L449.2 304.2L443.2 304.2L439.8 303.2L436.2 305.2L436.2 308.2L433.2 313.8ZM397.2 294.2L393.2 297.8L393.2 300.2L395.2 303.8L395.8 312.8L392.2 320.2L392.8 324.8L396.2 327.8L396.8 326.8L394.2 325.8L392.8 323.8L392.8 320.2L397.8 315.8L397.2 302.8L400.2 298.2ZM348.8 294.8L346.2 293.2L343.2 293.2L337.8 295.8L335.8 294.8L334.2 298.2L331.2 298.2L328.2 295.2L320.2 294.8L319.8 296.8L321.2 298.2L322.8 307.8L319.2 312.2L319.2 313.8L321.2 315.2L324.8 315.8L329.2 320.8L332.2 321.2L334.2 323.2L338.8 323.2L339.2 322.2L337.2 319.8L337.2 318.2L339.2 315.8L339.8 312.2L341.2 310.8L343.2 312.2L343.8 311.8L341.8 308.8L346.2 305.8L348.8 301.2ZM303.2 293.8L303.8 296.8L308.8 299.2L311.2 299.2L311.8 297.2L314.8 295.2L312.2 292.2L310.8 292.8L309.2 296.2L306.8 295.2L308.2 291.8L305.2 291.8ZM213.8 286.2L209.8 290.2L209.8 292.8L212.2 295.8L213.2 298.8L210.8 304.8L208.2 306.8L210.2 310.2L210.2 313.2L213.2 315.2L214.8 319.2L212.8 320.2L211.2 318.8L208.8 319.2L208.2 321.8L206.2 323.2L206.2 325.2L208.2 327.2L211.2 328.2L211.8 331.8L213.8 330.8L214.2 328.2L216.2 327.2L218.8 323.8L218.8 321.8L216.8 318.8L217.8 311.2L215.8 307.8L218.2 306.2L220.8 306.2L221.8 304.2L221.2 300.8L220.2 299.8L218.2 300.2L216.8 298.8L218.8 288.8L217.8 287.2ZM456.2 280.8L457.2 282.2L462.8 282.2L460.8 279.2L458.8 279.2ZM477.8 278.8L473.2 279.8L468.8 283.8L472.8 288.8L472.2 291.8L469.2 293.2L468.8 294.8L471.8 297.8L473.8 301.2L474.2 304.2L475.8 305.8L478.2 303.2L479.2 293.8L481.8 292.2L483.8 289.2L483.2 286.8L480.2 283.8L479.8 279.2ZM149.2 281.2L148.8 285.8L153.2 290.2L154.2 292.8L153.8 295.2L158.2 296.8L158.2 300.2L160.2 304.2L160.2 309.2L162.8 309.2L164.8 311.8L172.2 309.2L173.2 308.2L172.8 300.2L173.8 297.2L175.8 295.2L174.8 289.2L176.8 285.8L176.8 283.2L175.2 280.2L172.8 278.8L169.8 278.8L167.8 279.8L158.8 279.2ZM160.2 294.8L161.8 293.2L162.8 294.2L161.8 295.2ZM140.8 275.8L139.2 275.8L139.2 278.2L137.2 279.8L128.2 279.8L125.2 281.8L121.2 282.2L119.2 285.2L120.8 288.8L123.8 290.8L124.8 295.2L127.2 299.2L127.2 301.8L124.8 302.8L123.2 305.8L123.2 309.2L125.2 313.2L123.8 321.8L121.8 322.8L115.2 321.8L115.2 323.2L114.2 323.8L111.2 322.8L109.8 321.2L110.2 319.8L108.8 319.8L103.8 322.8L96.2 322.8L96.2 334.8L135.2 334.8L135.8 332.8L140.2 329.8L140.2 326.2L136.8 323.8L134.8 318.2L140.2 315.8L142.2 313.8L136.2 306.8L136.2 304.2L137.8 302.8L141.8 302.8L140.2 299.8L141.2 295.2L140.8 288.2L138.2 284.8L142.2 278.2ZM496.8 263.2L498.2 265.2L500.8 266.2L505.2 265.8L506.2 264.2L502.2 262.2ZM528.2 234.2L527.2 235.2L528.2 239.2L525.2 246.8L526.2 249.2L526.2 255.2L527.2 256.2L531.8 256.8L536.8 256.2L543.8 260.2L543.8 234.8L539.2 237.2L535.2 237.2L531.8 233.8ZM96.2 230.8L96.2 248.2L98.8 248.2L104.8 250.8L106.2 246.8L104.2 243.8L103.8 236.2L102.2 231.2ZM260.2 187.8L262.2 189.2L264.8 186.2L260.2 186.2ZM428.2 188.2L429.8 189.2L436.2 186.8L440.8 190.2L444.2 189.2L450.2 189.8L454.2 191.2L458.2 191.2L460.8 190.2L463.8 194.2L467.8 194.8L468.8 195.8L468.2 197.8L469.2 199.8L469.2 204.2L481.2 207.2L487.2 205.8L492.2 207.8L497.8 206.8L501.2 209.8L501.2 211.2L498.8 213.8L498.2 216.2L496.2 218.8L496.8 221.2L498.2 222.2L508.2 220.8L510.8 221.8L513.2 224.2L518.2 224.2L522.2 221.2L528.8 223.2L532.2 223.2L538.2 219.8L543.8 220.2L543.8 203.2L540.2 203.2L537.2 201.2L526.8 202.8L522.2 199.8L519.8 199.8L516.8 201.2L515.8 200.2L516.2 196.8L515.2 193.2L517.2 184.8L509.8 180.8L507.2 177.8L507.8 174.8L505.2 173.2L498.8 172.8L496.2 173.8L491.2 173.8L485.2 172.2L472.2 174.2L465.2 173.8L467.8 176.2L467.8 178.8L459.2 183.2L457.2 183.2L455.2 186.8L452.8 188.2L448.8 187.8L441.2 182.8L438.8 182.8L436.2 184.8ZM246.2 166.8L244.8 166.2L241.2 169.8L239.2 170.2L238.8 171.8L240.2 172.2L245.8 170.8ZM108.8 168.8L108.8 170.8L113.2 173.2L122.2 171.8L124.2 172.2L125.2 173.2L122.8 178.2L125.8 183.2L130.2 181.2L132.8 181.2L134.8 183.2L134.8 187.2L138.2 186.8L140.8 188.8L145.2 189.8L155.2 187.2L162.2 187.2L165.8 189.2L168.8 189.2L171.2 187.8L178.2 189.2L180.2 187.2L181.8 187.2L184.8 189.2L187.8 189.8L190.8 187.8L196.2 188.2L200.2 184.8L203.2 184.2L207.2 188.8L211.2 187.2L216.2 189.8L222.8 188.2L231.8 191.2L235.2 188.2L242.2 189.2L245.2 187.8L247.2 182.8L245.2 179.8L243.8 179.2L242.2 179.8L242.2 181.2L239.8 183.2L237.2 183.2L234.2 185.2L231.2 185.2L230.2 184.2L229.2 178.2L230.8 176.8L235.8 174.8L231.8 173.8L230.2 172.2L229.8 169.2L226.2 168.8L224.8 166.8L224.8 163.8L222.2 162.2L220.8 162.8L221.8 165.8L220.2 166.8L214.8 166.2L211.8 162.8L208.8 162.2L206.8 163.2L207.2 165.8L205.2 167.8L202.2 166.8L194.8 167.8L193.2 166.2L193.8 163.8L190.2 165.2L184.8 165.2L181.2 163.2L175.8 163.8L172.8 162.8L168.2 165.8L165.2 165.8L162.8 164.2L154.8 164.8L152.2 163.2L147.2 163.2L145.2 161.8L143.2 161.8L140.8 168.2L132.8 167.8L128.8 169.2L123.8 169.2L119.8 166.2L115.8 166.2L112.2 168.2ZM212.8 173.8L214.2 178.2L214.2 180.2L212.8 181.8L210.2 181.8L203.2 184.2L201.2 182.8L201.8 180.2L205.2 176.8L205.8 174.2L211.2 173.2ZM248.8 163.8L256.8 164.2L259.2 162.8L259.8 160.2L251.2 159.8L249.2 161.2ZM543.8 111.2L523.8 111.2L524.8 115.2L523.8 116.2L518.8 116.8L512.2 124.8L505.8 125.8L504.8 126.8L504.8 129.2L503.2 130.8L501.2 130.8L498.8 128.8L497.8 129.8L500.8 133.8L509.2 131.8L517.2 132.2L519.2 131.2L523.2 131.2L527.2 135.2L534.8 133.8L539.8 131.2L543.8 130.8ZM246.8 139.8L248.2 143.2L263.8 144.8L269.8 142.8L274.2 142.8L276.2 144.2L277.8 150.8L277.2 156.2L274.8 157.2L269.8 155.2L267.2 159.8L270.8 163.2L274.8 163.2L276.8 166.2L272.2 167.2L267.8 165.8L267.2 167.2L269.8 170.2L269.8 171.8L267.2 174.2L260.2 175.2L264.8 176.8L266.8 178.8L266.8 181.8L267.8 182.8L270.2 182.8L273.2 180.8L275.2 180.8L279.8 183.2L284.2 184.2L286.2 187.2L287.2 191.2L294.2 188.2L307.2 187.8L311.2 188.8L314.8 192.8L321.8 189.2L333.8 189.2L338.2 193.2L341.2 193.2L346.8 187.8L355.2 191.2L357.8 191.2L359.8 188.2L361.8 187.8L362.2 182.2L365.2 175.2L364.8 173.2L358.2 173.8L349.2 170.8L344.2 174.2L339.8 174.2L336.2 171.8L334.8 171.8L331.2 174.8L326.8 174.8L320.2 172.2L317.8 167.8L314.2 168.8L307.8 168.2L307.8 164.2L305.2 162.2L293.8 161.8L290.8 158.8L291.8 156.2L296.2 154.2L298.2 155.2L300.2 155.2L301.2 154.2L301.2 152.8L299.2 150.2L299.2 148.2L300.2 147.2L302.8 147.2L308.8 150.2L315.8 151.2L320.8 147.2L320.8 142.8L326.8 143.8L329.2 146.2L329.8 150.2L330.8 150.8L335.2 149.2L337.8 150.8L337.8 153.2L336.2 154.8L333.2 155.2L332.2 156.8L331.8 160.2L333.8 161.8L338.2 161.8L342.8 159.8L345.8 157.2L348.2 157.2L355.8 164.8L360.2 164.8L364.2 167.2L374.2 166.2L378.2 168.2L381.8 168.2L387.8 166.2L394.8 166.8L398.2 165.2L407.2 167.2L421.2 165.8L433.8 165.8L436.2 169.2L436.8 172.2L440.8 174.8L444.2 173.8L446.2 171.2L446.2 161.2L449.2 159.2L454.8 158.8L455.2 156.8L459.2 153.2L467.8 157.2L476.2 153.8L480.2 153.8L484.2 155.8L495.8 153.8L497.8 156.2L499.2 156.2L500.2 153.8L497.8 145.8L494.2 146.8L491.8 146.2L488.8 143.2L488.2 139.8L485.2 139.8L482.8 141.8L479.8 140.8L469.2 140.2L467.2 137.2L472.8 132.2L472.8 131.2L468.8 128.8L458.2 129.8L454.2 127.2L452.8 127.2L449.2 129.2L445.8 129.8L444.8 137.2L443.2 139.8L441.8 139.8L437.8 137.2L434.8 137.8L429.2 143.2L429.2 146.8L428.2 147.8L423.8 146.8L420.8 150.2L413.2 149.2L410.2 146.8L401.8 144.8L400.2 141.8L396.2 139.2L392.2 139.8L388.8 141.8L384.8 141.8L382.2 136.8L378.8 133.8L379.8 132.2L382.8 133.8L385.8 133.8L388.8 131.8L388.2 129.8L383.2 129.8L384.2 125.2L383.2 118.8L387.8 115.2L393.8 116.8L397.2 112.8L398.8 112.2L404.2 115.2L411.8 116.8L415.2 115.2L415.2 111.2L330.2 111.2L330.2 113.8L328.8 116.8L330.2 123.2L328.2 124.8L325.8 124.8L322.2 123.2L323.8 126.8L323.8 129.2L319.8 132.8L313.8 132.2L308.8 135.2L303.2 135.2L299.2 132.2L297.2 132.2L298.2 136.8L296.8 138.8L294.8 139.2L292.2 136.2L293.2 133.2L283.8 132.8L278.8 135.8L274.2 135.8L269.8 132.2L263.8 134.8L250.8 134.8ZM274.8 116.8L276.2 117.2L279.8 115.2L286.2 115.8L287.8 117.2L287.2 121.2L290.8 121.8L295.2 120.2L301.8 120.8L301.8 117.2L303.2 115.2L309.2 114.8L308.2 111.2L275.8 111.2ZM256.8 111.2L213.8 111.2L214.2 118.8L211.2 122.8L213.2 126.2L212.8 129.2L205.2 131.2L200.8 128.8L196.2 129.2L193.2 127.2L191.8 127.2L188.2 129.8L185.8 129.8L183.8 127.8L179.8 126.8L175.8 130.8L174.2 134.2L172.2 134.8L170.2 133.8L170.2 139.2L171.8 141.2L173.2 141.2L174.8 138.8L177.2 137.8L179.8 139.2L175.2 141.8L175.2 143.8L178.8 145.2L179.8 147.8L183.8 147.8L185.8 150.8L188.2 152.2L191.2 152.2L195.2 147.8L199.2 147.8L201.8 149.2L208.2 148.8L214.2 152.2L218.2 152.8L220.2 151.8L223.8 147.8L228.8 146.2L230.8 143.8L230.8 142.2L228.2 138.8L223.2 137.8L221.2 136.2L220.2 132.2L220.8 129.8L225.2 126.8L233.8 127.8L238.2 125.8L245.2 126.2L251.2 129.2L255.8 127.8L257.8 124.8L257.8 122.2L255.2 118.2ZM96.2 125.2L103.8 125.8L111.2 128.2L115.2 128.2L121.2 124.8L123.8 124.8L128.8 128.8L131.2 128.2L135.2 124.8L139.2 124.8L142.8 126.8L146.8 125.8L158.8 125.8L155.8 120.8L155.2 118.2L156.8 116.2L160.8 114.8L161.2 111.2L96.2 111.2Z"/><path fill-rule="evenodd" fill="#f01818" d="M116.2 327.8L112.8 324.8L108.2 323.2L105.2 325.2L96.2 324.8L96.2 334.8L115.8 334.8ZM458.2 313.2L456.8 312.2L454.2 312.8L450.8 308.8L450.2 306.8L444.2 306.2L442.2 307.8L439.2 308.2L437.8 309.8L436.8 313.2L432.2 315.8L433.2 318.2L432.8 322.2L434.8 320.2L438.8 318.8L442.2 322.8L447.2 323.2L451.8 319.8L452.2 316.8L453.8 315.2L457.2 314.8ZM325.8 299.2L324.2 308.8L321.8 312.8L323.2 313.8L326.2 313.8L330.2 318.8L333.2 319.2L334.2 317.2L337.2 315.2L337.8 310.8L334.8 308.2L333.8 305.8L333.8 302.8L335.2 300.8L336.2 300.8L329.8 299.8L327.2 300.2ZM396.8 297.8L394.8 298.8L396.2 303.2L396.8 311.2L395.2 316.2L396.8 314.8L397.2 311.8L396.2 305.2ZM217.2 290.2L215.8 290.8L214.8 293.2L215.2 301.8L212.8 308.2L213.2 309.8L215.2 310.8L213.8 308.2L214.2 307.2L220.2 303.8L219.8 302.2L217.2 301.8L215.8 299.2L215.8 295.2L217.8 290.8ZM477.2 279.8L473.8 280.2L470.8 282.8L474.2 288.8L473.8 298.2L475.8 304.8L477.8 300.2L477.2 291.8L478.8 290.2L482.2 289.8L482.2 287.8L479.2 285.8L479.2 281.2ZM138.2 280.2L133.8 280.8L129.8 279.8L125.2 282.2L122.2 282.8L121.2 284.2L121.8 286.8L125.8 290.2L126.2 295.2L129.2 299.2L128.8 302.2L126.8 304.2L124.8 304.8L124.2 309.8L126.8 312.8L125.2 317.2L125.2 322.2L123.8 323.8L119.8 324.8L121.2 327.8L121.2 334.8L134.2 334.8L134.8 332.2L139.8 329.2L139.8 326.8L136.2 323.8L133.8 318.2L134.2 316.8L139.2 315.8L141.2 314.2L141.2 312.8L136.8 309.2L135.2 305.8L135.8 302.8L139.8 300.2L140.2 294.8L139.2 293.2L139.8 288.8L136.2 284.8L136.2 283.2ZM172.8 279.2L159.8 280.2L157.2 282.8L151.2 284.2L151.2 285.8L155.2 292.8L154.8 295.2L158.2 295.2L160.8 292.8L163.8 293.2L163.8 294.2L159.2 297.8L158.8 299.8L160.8 303.2L160.2 306.8L163.8 305.8L165.8 309.2L166.8 307.2L168.2 309.2L171.8 307.8L171.8 297.8L173.8 293.8L173.8 288.8L176.2 284.2L174.8 280.8ZM529.2 240.2L527.2 242.8L526.2 247.2L531.8 253.2L531.8 255.2L537.2 255.8L542.2 259.2L543.8 259.2L543.8 240.2L538.2 238.8ZM96.2 231.2L96.2 246.2L103.2 247.2L104.2 246.8L104.2 244.8L103.2 242.8L103.2 236.2L101.8 231.8ZM437.8 184.8L440.2 188.8L446.2 187.8L441.2 183.8L438.8 183.8ZM452.2 188.8L455.2 189.8L461.2 188.2L464.2 193.2L469.2 194.2L470.2 195.2L469.2 202.8L470.2 203.8L477.8 206.2L484.8 206.2L487.2 205.2L490.8 206.2L498.8 205.8L502.8 210.8L499.8 214.8L497.8 219.8L498.2 221.2L508.8 220.2L514.2 223.8L517.8 223.8L521.8 220.8L524.2 220.8L528.8 222.8L532.2 222.8L537.8 219.2L543.8 219.8L543.8 203.8L540.2 203.8L536.2 201.2L530.2 203.2L526.8 203.2L522.2 200.8L517.8 202.2L515.8 202.2L514.8 201.2L514.8 193.2L516.8 185.8L516.2 184.8L512.8 183.8L506.8 179.8L506.2 174.2L503.2 173.2L491.2 174.2L486.2 172.8L467.2 174.8L468.8 177.2L467.2 179.8L457.2 184.2L454.8 188.2ZM245.8 167.2L244.2 167.2L239.2 171.8L244.8 170.8L245.8 169.8ZM234.8 175.2L230.8 173.8L229.8 170.2L226.2 169.2L224.2 166.2L220.8 167.8L210.2 166.8L206.8 168.2L203.8 168.2L202.2 167.2L193.2 168.2L189.8 165.8L178.8 166.2L172.8 164.2L167.2 168.2L165.2 168.2L162.8 166.2L157.8 166.2L150.8 164.8L145.2 168.2L141.2 169.2L131.8 168.2L128.2 169.8L124.2 169.8L118.8 166.2L116.8 166.2L113.8 168.2L109.2 169.2L109.8 170.8L111.2 170.8L113.8 172.8L124.8 171.8L125.8 173.8L123.8 176.2L123.8 178.2L125.8 181.2L131.2 179.8L133.8 180.2L136.2 182.2L139.8 182.8L141.2 186.8L143.8 186.8L153.2 179.2L156.8 181.8L160.8 182.2L166.8 185.8L172.8 182.8L174.2 182.8L176.2 185.2L180.8 183.8L183.2 184.8L197.8 184.2L199.8 182.8L200.8 179.2L203.8 176.8L203.8 174.2L204.8 173.2L211.2 172.2L214.8 174.2L215.2 181.2L214.2 183.2L217.8 184.2L221.2 182.8L228.8 182.8L228.8 177.8L231.8 175.8ZM249.8 163.2L256.8 163.8L258.8 162.8L259.2 161.2L251.2 160.8L250.2 161.2ZM262.8 175.8L267.2 178.2L267.8 181.8L268.8 182.2L274.8 180.2L279.8 182.8L284.2 183.8L286.2 185.8L287.2 189.8L295.2 187.2L305.8 186.8L312.2 187.8L314.8 191.2L316.2 191.2L319.8 188.2L334.2 187.8L339.8 192.2L341.2 191.8L345.2 186.8L351.2 187.2L354.8 189.8L356.8 189.8L358.2 186.2L360.8 186.2L364.8 173.8L359.2 174.2L348.8 171.2L343.8 174.8L340.2 174.8L336.2 172.2L334.8 172.2L331.2 175.2L327.2 175.2L320.2 172.8L317.2 168.2L314.2 169.2L308.2 169.2L304.8 168.2L302.8 166.8L304.2 163.8L303.8 162.8L293.8 162.2L290.8 159.8L288.2 155.8L283.8 153.8L276.2 157.8L271.2 155.8L269.2 156.8L267.8 159.8L271.2 162.8L274.8 162.2L278.2 166.2L275.2 167.8L268.2 166.8L270.2 170.2L269.8 172.8L265.8 175.2ZM543.8 111.2L524.2 111.2L525.2 113.8L525.2 115.8L524.2 116.8L518.8 117.2L518.8 118.8L514.8 121.8L512.8 125.2L506.2 126.2L505.8 129.2L504.2 130.8L501.2 131.2L498.8 130.2L500.8 133.2L505.8 131.8L517.2 131.8L522.8 130.8L527.2 134.8L535.2 133.2L540.2 130.8L543.8 130.8ZM247.2 139.8L248.2 142.8L251.8 142.8L256.8 144.2L264.8 144.2L269.8 142.2L274.2 142.2L276.8 144.2L276.8 146.8L278.2 149.2L280.8 150.8L284.8 150.8L291.8 154.2L293.2 154.2L297.8 151.2L299.8 146.8L302.8 146.8L306.8 149.2L314.8 151.2L320.2 146.8L319.2 142.8L321.2 141.8L327.8 143.8L330.2 146.8L330.2 149.8L336.2 148.8L338.2 150.2L338.2 154.2L337.2 155.2L333.8 155.8L332.8 157.2L332.2 160.2L334.8 161.8L338.8 161.2L345.8 156.8L348.8 156.8L352.8 160.8L355.8 161.8L357.2 164.2L361.2 164.8L363.8 166.8L374.8 165.8L378.2 167.8L381.2 167.8L387.8 165.8L394.8 166.2L398.2 164.8L407.8 166.8L421.2 165.2L433.8 165.2L435.8 166.8L437.2 171.8L440.8 173.8L443.8 173.2L445.8 171.2L445.8 160.8L447.8 159.2L453.2 158.8L454.2 157.8L454.2 155.8L452.2 152.8L457.2 148.8L459.8 149.2L466.2 156.2L469.2 156.2L478.2 152.8L484.8 155.2L493.2 153.2L496.8 153.2L498.2 155.2L499.2 154.8L499.2 151.2L497.8 147.2L496.8 146.2L494.2 147.2L490.8 146.2L488.2 143.2L488.2 140.2L486.2 139.8L483.8 141.8L477.8 140.8L470.2 141.2L464.2 138.2L465.8 133.8L464.8 130.2L458.8 130.2L454.2 127.8L446.2 130.2L445.8 135.2L443.8 140.2L441.8 140.2L437.2 137.8L433.8 145.8L429.8 144.2L430.2 146.8L429.2 148.2L424.2 147.2L421.2 150.8L413.2 150.2L409.8 147.2L401.2 145.2L399.8 141.8L396.8 139.8L393.8 139.8L388.8 142.2L384.2 142.2L381.8 137.2L377.8 133.8L378.8 131.8L380.8 131.8L383.2 133.2L385.8 133.2L388.2 131.8L387.8 130.2L383.8 130.8L382.2 129.2L383.8 125.2L382.8 118.8L388.2 114.8L393.8 116.2L397.2 112.2L400.8 112.2L403.8 114.8L408.8 116.2L413.2 115.8L414.8 114.8L414.8 111.2L330.8 111.2L330.8 113.8L329.2 116.8L330.8 123.2L327.8 125.2L323.2 124.2L323.8 126.2L328.2 129.2L325.8 131.2L319.8 133.2L314.8 132.2L308.2 135.8L302.2 135.2L298.2 132.2L297.8 133.2L298.8 136.8L295.8 139.8L292.8 138.2L291.8 133.2L282.8 133.2L278.8 136.2L274.8 136.2L270.8 132.8L265.8 134.8L256.2 134.2L250.8 135.2ZM365.2 146.8L367.8 143.8L370.8 145.8L374.2 146.2L373.2 148.2L370.8 149.2L367.2 148.8ZM275.2 116.2L276.8 116.8L280.2 114.8L285.8 115.2L288.2 117.2L287.8 121.2L291.2 121.2L292.8 120.2L301.2 120.2L301.2 116.2L302.8 114.8L308.2 114.8L307.8 111.2L276.2 111.2ZM256.2 111.2L214.2 111.2L214.8 118.8L211.8 122.8L213.8 126.2L213.8 128.8L212.8 129.8L208.2 131.2L204.2 131.2L200.8 129.2L196.8 129.8L191.8 127.8L189.2 129.8L185.8 130.2L182.8 127.8L180.2 127.2L176.8 131.8L176.2 134.8L176.8 135.8L179.2 136.2L181.2 139.2L176.2 143.2L180.8 147.2L183.8 147.2L187.8 151.8L191.2 151.8L194.2 147.8L198.8 147.2L201.8 148.8L208.2 148.2L212.8 151.2L218.2 152.2L220.2 150.8L219.8 146.2L221.2 144.2L223.8 143.2L229.8 144.2L230.2 143.2L229.8 140.8L228.2 139.2L222.2 137.8L220.8 136.2L219.8 131.8L220.2 129.8L225.2 126.2L234.2 127.2L238.8 125.2L245.2 125.8L250.8 128.8L254.8 127.8L257.2 124.8L257.2 122.2L254.8 117.8ZM96.2 125.2L106.2 125.8L110.8 127.8L115.8 127.8L120.2 124.8L123.8 124.2L128.8 128.2L130.8 128.2L135.2 124.2L139.2 124.2L142.2 126.2L147.2 125.2L151.8 126.2L157.8 125.8L158.2 124.8L156.8 123.2L154.8 118.2L156.2 116.2L160.2 114.2L160.8 111.2L96.2 111.2Z"/><path fill-rule="evenodd" fill="#f8aca8" d="M96.2 328.8L96.2 334.8L103.2 334.8L104.2 331.8L103.2 329.8L100.8 328.2ZM137.2 327.2L137.2 328.2L138.8 328.2L138.8 327.2ZM440.2 310.8L438.2 313.8L438.2 315.2L443.2 315.2L443.8 319.2L447.2 319.2L450.8 315.2L450.2 312.2L447.2 313.8L444.8 310.2ZM474.8 280.8L472.2 282.8L475.2 287.2L476.2 301.2L476.8 297.8L475.8 294.8L475.8 285.8L477.8 282.2ZM130.2 280.8L124.8 283.2L128.2 286.2L127.8 294.8L129.8 297.8L129.8 301.8L125.2 306.8L125.2 309.8L128.2 312.2L128.2 313.8L125.8 317.8L126.8 322.2L123.2 325.8L123.2 328.8L125.2 332.8L125.2 334.8L129.2 334.8L128.8 331.2L126.8 328.2L129.2 324.8L135.2 325.2L134.8 322.8L129.2 319.2L129.2 316.8L132.2 313.2L133.8 312.8L136.2 313.8L136.8 312.2L132.8 307.2L130.2 306.8L133.2 301.2L139.2 299.2L138.8 294.8L134.8 292.8L135.8 290.8L138.2 290.2L138.2 288.8L131.2 284.2L131.2 281.8ZM171.2 279.8L168.8 280.8L163.2 280.8L161.2 282.8L153.2 286.8L156.2 293.2L155.8 295.2L161.8 291.8L164.2 292.2L164.2 294.8L159.8 298.2L159.8 300.8L161.2 303.8L164.8 303.2L168.8 307.2L169.2 305.2L167.2 303.2L165.8 303.2L165.2 301.8L166.8 301.2L168.8 302.8L170.2 302.2L172.2 290.2L174.8 284.8L173.8 280.8ZM528.8 242.2L527.8 247.2L534.8 252.8L534.8 254.8L537.2 254.8L543.8 258.8L543.8 241.8L536.2 239.8L531.8 242.2ZM96.2 231.8L96.2 245.2L102.8 245.8L102.8 237.2L100.8 231.8ZM460.8 184.2L465.8 192.8L469.8 193.2L471.2 194.8L471.2 203.2L476.8 205.2L481.2 205.8L488.2 204.2L491.8 205.8L499.8 204.8L503.8 209.2L503.8 211.2L501.2 214.2L499.2 219.8L500.2 220.8L508.2 219.2L511.8 220.8L513.8 222.8L517.8 222.8L521.8 219.8L531.2 222.2L536.2 218.8L543.8 219.2L543.8 204.2L539.8 204.8L535.8 201.8L527.8 204.2L522.8 201.8L520.8 201.8L517.2 203.8L513.8 202.2L513.8 193.8L514.8 192.2L515.2 185.8L505.8 180.8L505.8 175.2L504.2 174.2L500.8 173.8L492.2 175.2L482.8 173.8L479.8 174.8L469.2 175.2L469.2 178.8L467.8 180.2L463.2 181.8ZM244.8 168.2L242.2 170.2L244.2 170.2ZM115.2 168.8L115.8 171.8L121.8 170.8L126.2 171.2L127.2 173.2L124.8 176.2L125.8 178.8L139.2 178.8L142.8 177.8L147.8 179.8L152.8 176.8L162.8 177.2L166.2 176.2L169.8 179.2L173.2 179.8L175.2 178.8L177.2 175.8L182.8 178.8L193.8 178.2L197.8 176.2L201.8 175.8L202.8 173.2L205.8 171.8L214.8 172.2L216.2 174.2L215.8 176.8L217.2 179.2L220.2 179.2L223.2 177.2L232.2 175.2L229.2 172.8L228.8 170.8L225.8 169.8L223.8 167.8L220.8 168.8L211.8 167.8L210.2 168.8L203.8 169.8L202.2 168.2L192.2 169.2L188.8 166.8L179.8 167.8L172.8 165.8L168.2 169.2L165.2 169.8L162.8 167.8L158.2 167.8L151.8 165.8L146.8 169.2L141.8 170.2L137.2 170.2L134.8 168.8L132.2 168.8L129.2 170.2L124.8 170.8L121.2 169.2L119.2 167.2L116.2 167.2ZM251.2 162.2L253.8 163.2L257.8 162.8L257.8 161.8ZM265.2 175.8L268.8 178.2L276.8 180.2L281.2 182.8L287.2 183.8L290.2 182.2L292.8 185.2L297.8 184.8L299.8 183.2L302.2 183.2L306.2 185.2L308.8 182.8L316.2 184.2L319.8 181.8L322.2 182.2L325.2 185.2L328.2 185.2L337.8 180.2L339.2 180.2L343.2 182.8L346.8 182.2L351.2 184.8L355.2 185.2L360.8 182.8L363.2 177.8L363.8 174.2L355.8 174.2L349.2 171.8L344.2 175.2L339.2 175.2L335.2 172.8L331.8 175.8L326.2 175.8L324.2 174.2L319.8 173.2L316.8 169.2L303.2 169.2L301.2 167.2L301.8 163.2L293.2 162.8L286.8 156.2L283.8 155.2L281.2 157.2L276.2 158.8L271.8 156.8L268.8 158.8L270.8 161.8L275.2 161.2L279.8 166.8L278.8 168.2L270.2 168.2L271.2 170.2L270.8 172.8ZM543.8 111.2L525.2 111.2L526.8 115.2L526.2 116.2L523.2 117.8L520.2 117.8L518.2 120.8L515.8 121.8L514.2 125.2L506.8 127.2L506.8 129.2L505.2 131.2L517.2 131.2L519.2 130.2L523.2 130.2L527.8 134.2L531.2 132.8L534.8 132.8L538.2 130.8L543.8 130.2ZM248.2 139.2L248.8 142.2L257.8 143.8L264.2 143.8L266.8 142.2L273.8 141.2L277.2 143.2L278.2 147.2L280.8 149.2L285.2 149.2L290.2 152.2L293.8 152.2L296.8 149.8L297.8 147.2L300.2 145.8L302.2 145.8L307.2 148.8L315.8 150.2L319.2 146.8L318.2 142.2L320.8 140.8L323.8 142.2L325.8 141.8L327.8 142.8L330.2 145.2L331.8 148.8L336.8 148.2L339.2 149.8L339.2 154.8L337.8 156.2L333.8 157.2L333.8 160.8L338.2 160.8L347.2 155.8L349.2 156.2L353.8 160.2L357.2 161.2L358.8 163.2L364.2 166.2L367.2 165.2L370.2 165.8L373.8 164.2L378.8 167.2L385.2 165.2L390.2 164.8L393.8 165.8L397.2 164.2L402.2 164.2L409.2 166.2L415.8 164.8L423.8 164.2L427.2 165.2L433.2 164.2L436.8 166.8L438.8 171.8L440.8 172.8L442.8 172.8L445.2 170.8L444.2 167.2L445.2 160.2L446.8 158.8L452.8 157.8L452.2 155.8L449.8 152.8L449.8 151.2L450.8 150.2L452.8 150.2L455.8 147.8L460.8 148.2L466.2 152.8L466.2 154.8L467.8 155.8L476.8 152.2L480.2 152.2L483.2 154.2L486.8 154.2L491.2 152.2L498.2 152.8L497.2 148.2L496.2 147.2L492.8 147.8L489.8 146.2L487.2 143.2L487.2 140.8L485.8 140.8L482.8 142.8L463.2 140.8L462.2 139.8L463.8 134.2L463.2 131.2L458.2 130.8L454.2 128.2L447.2 130.8L447.2 133.2L444.8 140.8L442.2 141.2L438.2 138.8L434.8 146.8L431.2 146.8L429.2 149.2L424.2 148.8L421.2 151.8L413.2 151.2L410.8 150.2L409.2 147.8L404.2 146.2L400.8 146.2L399.2 145.2L398.8 142.2L396.2 140.2L392.8 140.8L388.2 143.2L384.8 143.2L382.2 141.2L380.8 137.2L376.2 133.2L378.2 130.8L380.2 130.8L383.8 132.8L387.2 131.2L384.2 131.8L381.2 129.2L382.8 125.2L381.8 118.8L387.8 114.2L393.2 115.8L396.8 111.8L398.2 111.2L407.2 115.2L413.2 114.8L414.2 113.8L413.8 111.2L331.8 111.2L331.8 113.2L329.8 117.2L331.8 123.2L328.8 125.8L325.2 125.8L330.2 127.8L330.8 129.2L326.8 132.2L320.2 133.8L315.2 132.8L309.2 136.2L303.2 136.2L299.8 134.8L299.2 137.8L296.8 140.2L294.2 140.2L292.2 138.8L290.8 133.8L283.2 133.8L280.2 136.2L277.2 137.2L272.8 136.2L270.8 133.8L263.8 135.8L253.2 135.2L251.2 135.8ZM362.8 146.8L366.2 142.8L367.8 142.2L370.8 144.2L375.2 144.8L376.2 147.8L371.8 150.2L367.2 150.2L363.8 148.8ZM276.2 115.8L279.8 114.2L284.8 114.2L288.8 116.8L288.8 120.8L295.2 119.2L300.2 119.8L300.8 115.2L303.2 113.8L307.2 113.8L306.8 111.2L276.8 111.2ZM255.8 111.2L214.8 111.2L215.8 117.2L212.8 122.8L212.8 124.2L214.8 126.8L213.8 130.2L208.8 131.8L203.8 131.8L200.8 129.8L196.2 130.2L191.8 128.2L188.2 130.8L185.2 130.8L182.8 128.2L180.8 128.2L177.8 133.8L181.8 136.2L182.8 139.8L177.8 143.2L181.2 146.2L184.2 146.2L188.2 151.2L190.8 151.2L192.2 148.2L194.8 146.8L199.8 146.8L202.8 148.2L208.8 147.8L215.8 151.8L217.8 151.8L217.8 147.2L219.8 143.2L222.2 142.2L229.2 143.2L229.2 141.2L227.8 139.8L222.8 138.8L220.2 136.8L219.2 133.2L219.8 129.2L225.8 125.2L228.2 125.2L230.2 126.8L233.8 126.8L238.8 124.8L246.2 125.2L249.8 127.8L253.8 127.2L256.8 124.2L256.8 122.8L254.2 119.2ZM96.2 124.2L106.8 125.2L111.8 127.2L115.2 127.2L121.2 123.8L124.2 123.8L129.2 127.8L131.2 127.2L132.8 125.2L136.2 123.2L139.8 123.8L142.8 125.8L146.2 124.8L153.8 125.8L156.8 124.8L154.2 119.8L154.2 117.2L159.8 113.8L159.8 111.2L96.2 111.2Z"/></g><path d="M112.3 111.0v3M112.3 334.7v-3M130.3 111.0v6M130.3 334.7v-6M148.4 111.0v3M148.4 334.7v-3M166.4 111.0v6M166.4 334.7v-6M184.5 111.0v3M184.5 334.7v-3M202.6 111.0v6M202.6 334.7v-6M220.6 111.0v3M220.6 334.7v-3M238.7 111.0v6M238.7 334.7v-6M256.7 111.0v3M256.7 334.7v-3M274.8 111.0v6M274.8 334.7v-6M292.9 111.0v3M292.9 334.7v-3M310.9 111.0v6M310.9 334.7v-6M329.0 111.0v3M329.0 334.7v-3M347.0 111.0v6M347.0 334.7v-6M365.1 111.0v3M365.1 334.7v-3M383.2 111.0v6M383.2 334.7v-6M401.2 111.0v3M401.2 334.7v-3M419.3 111.0v6M419.3 334.7v-6M437.3 111.0v3M437.3 334.7v-3M455.4 111.0v6M455.4 334.7v-6M473.5 111.0v3M473.5 334.7v-3M491.5 111.0v6M491.5 334.7v-6M509.6 111.0v3M509.6 334.7v-3M527.6 111.0v6M527.6 334.7v-6M96.4 325.2h3M543.4 325.2h-3M96.4 313.9h3M543.4 313.9h-3M96.4 302.6h3M543.4 302.6h-3M96.4 291.2h3M543.4 291.2h-3M96.4 279.9h6M543.4 279.9h-6M96.4 268.5h3M543.4 268.5h-3M96.4 257.2h3M543.4 257.2h-3M96.4 245.8h3M543.4 245.8h-3M96.4 234.5h3M543.4 234.5h-3M96.4 223.1h6M543.4 223.1h-6M96.4 211.8h3M543.4 211.8h-3M96.4 200.4h3M543.4 200.4h-3M96.4 189.1h3M543.4 189.1h-3M96.4 177.7h3M543.4 177.7h-3M96.4 166.4h6M543.4 166.4h-6M96.4 155.0h3M543.4 155.0h-3M96.4 143.7h3M543.4 143.7h-3M96.4 132.3h3M543.4 132.3h-3M96.4 121.0h3M543.4 121.0h-3" stroke="#000" stroke-width="1.5" fill="none"/><rect x="96.4" y="111.0" width="447.0" height="223.7" fill="none" stroke="#000" stroke-width="1.7"/><text x="320.5" y="80" text-anchor="middle" font-size="21" letter-spacing="0.9" word-spacing="3.5">potential temperature deviation</text><text x="33.5" y="95" font-size="12.5" letter-spacing="1.45" stroke="#000" stroke-width="0.3">(×1000 m)</text><text x="484.5" y="366.2" font-size="12.5" letter-spacing="1.55" stroke="#000" stroke-width="0.3">(×1000 m)</text><text x="320" y="387" text-anchor="middle" font-size="16" letter-spacing="1.5">X coordinate</text><text transform="translate(64.5,220.5) rotate(-90)" x="0" y="0" text-anchor="middle" font-size="16" letter-spacing="1.15">Z coordinate</text><text x="90.3" y="283.5" text-anchor="end" font-size="12.5" letter-spacing="1" stroke="#000" stroke-width="0.45">5</text><text x="90.3" y="226.7" text-anchor="end" font-size="12.5" letter-spacing="1" stroke="#000" stroke-width="0.45">10</text><text x="90.3" y="170.0" text-anchor="end" font-size="12.5" letter-spacing="1" stroke="#000" stroke-width="0.45">15</text><text x="131.1" y="350.9" text-anchor="middle" font-size="12.5" letter-spacing="1" stroke="#000" stroke-width="0.45">4</text><text x="167.2" y="350.9" text-anchor="middle" font-size="12.5" letter-spacing="1" stroke="#000" stroke-width="0.45">8</text><text x="203.4" y="350.9" text-anchor="middle" font-size="12.5" letter-spacing="1" stroke="#000" stroke-width="0.45">12</text><text x="239.5" y="350.9" text-anchor="middle" font-size="12.5" letter-spacing="1" stroke="#000" stroke-width="0.45">16</text><text x="275.6" y="350.9" text-anchor="middle" font-size="12.5" letter-spacing="1" stroke="#000" stroke-width="0.45">20</text><text x="311.7" y="350.9" text-anchor="middle" font-size="12.5" letter-spacing="1" stroke="#000" stroke-width="0.45">24</text><text x="347.8" y="350.9" text-anchor="middle" font-size="12.5" letter-spacing="1" stroke="#000" stroke-width="0.45">28</text><text x="384.0" y="350.9" text-anchor="middle" font-size="12.5" letter-spacing="1" stroke="#000" stroke-width="0.45">32</text><text x="420.1" y="350.9" text-anchor="middle" font-size="12.5" letter-spacing="1" stroke="#000" stroke-width="0.45">36</text><text x="456.2" y="350.9" text-anchor="middle" font-size="12.5" letter-spacing="1" stroke="#000" stroke-width="0.45">40</text><text x="492.3" y="350.9" text-anchor="middle" font-size="12.5" letter-spacing="1" stroke="#000" stroke-width="0.45">44</text><text x="528.4" y="350.9" text-anchor="middle" font-size="12.5" letter-spacing="1" stroke="#000" stroke-width="0.45">48</text><text x="551" y="119.8" font-size="12" fill="#333" letter-spacing="1.27">t=496800 s</text><rect x="555.0" y="318.63" width="13.0" height="16.07" fill="#3800a8"/><rect x="555.0" y="302.56" width="13.0" height="16.07" fill="#1000b0"/><rect x="555.0" y="286.49" width="13.0" height="16.07" fill="#0060f0"/><rect x="555.0" y="270.42" width="13.0" height="16.07" fill="#00f0f0"/><rect x="555.0" y="254.35" width="13.0" height="16.07" fill="#00f090"/><rect x="555.0" y="238.28" width="13.0" height="16.07" fill="#90f000"/><rect x="555.0" y="222.21" width="13.0" height="16.07" fill="#f0f000"/><rect x="555.0" y="206.14" width="13.0" height="16.07" fill="#f0a000"/><rect x="555.0" y="190.07" width="13.0" height="16.07" fill="#f05000"/><rect x="555.0" y="174.00" width="13.0" height="16.07" fill="#f01818"/><path d="M555.0 318.63H568.0M555.0 302.56H568.0M555.0 286.49H568.0M555.0 270.42H568.0M555.0 254.35H568.0M555.0 238.28H568.0M555.0 222.21H568.0M555.0 206.14H568.0M555.0 190.07H568.0" stroke="#000" stroke-width="1.3"/><path d="M555.0 174.0L561.5 146.5L568.0 174.0Z" fill="#f8aca8" stroke="#000" stroke-width="1.3"/><path d="M555.0 334.7L561.5 364L568.0 334.7Z" fill="#7400b4" stroke="#000" stroke-width="1.3"/><rect x="555.0" y="174.0" width="13.0" height="160.7" fill="none" stroke="#000" stroke-width="1.5"/><text x="574" y="323.4" font-size="12" font-weight="bold" letter-spacing="0.4">−0.32</text><text x="574" y="291.3" font-size="12" font-weight="bold" letter-spacing="0.4">−0.16</text><text x="574" y="259.1" font-size="12" font-weight="bold" letter-spacing="0.4">0</text><text x="574" y="227.0" font-size="12" font-weight="bold" letter-spacing="0.4">0.16</text><text x="574" y="194.9" font-size="12" font-weight="bold" letter-spacing="0.4">0.32</text></g>
<g transform="translate(0,463)"><clipPath id="cp_u"><rect x="96.4" y="111.0" width="447.0" height="223.7"/></clipPath><g clip-path="url(#cp_u)"><rect x="96.4" y="111.0" width="447.0" height="223.7" fill="#00a8f0"/><path fill-rule="evenodd" fill="#00f0f0" d="M96.2 111.2L96.2 334.8L332.8 334.8L332.8 332.8L338.2 327.2L343.2 327.8L347.8 329.8L349.2 331.8L349.2 334.8L543.8 334.8L543.8 111.2ZM501.2 271.2L503.8 272.8L502.8 275.2L500.2 272.2Z"/><path fill-rule="evenodd" fill="#00f0c8" d="M96.2 111.2L96.2 267.2L105.2 266.2L110.2 268.2L112.8 272.8L117.2 276.8L117.8 278.8L117.2 282.8L114.8 284.2L108.2 283.2L105.2 285.8L96.2 285.2L96.2 334.8L221.2 334.8L221.2 330.8L214.2 326.2L216.2 324.2L232.2 324.8L235.2 326.8L238.8 327.2L240.8 329.2L237.8 331.8L237.2 334.8L329.8 334.8L330.2 330.2L333.8 327.2L335.2 323.8L337.2 322.2L339.2 322.2L342.2 324.2L348.2 323.2L352.8 325.2L355.2 328.2L352.8 334.8L543.8 334.8L543.8 290.2L536.2 291.2L529.2 290.2L526.2 293.2L515.2 297.2L511.8 297.2L506.2 295.2L504.2 297.2L502.2 297.8L501.2 295.8L503.2 291.8L501.2 290.2L496.2 290.2L492.8 287.8L493.8 278.8L491.8 274.2L489.8 272.2L490.8 270.8L494.8 270.8L504.8 266.2L512.2 267.8L514.2 266.8L528.2 265.8L533.2 268.2L534.8 268.2L537.2 266.2L539.2 266.2L543.8 268.2L543.8 111.2ZM415.8 301.8L418.2 301.2L419.2 302.8L416.8 303.8ZM413.8 309.8L414.8 307.2L419.2 306.2L419.8 302.8L421.2 301.2L427.2 299.8L431.8 300.2L438.2 303.2L440.2 305.2L442.8 304.8L444.8 307.2L442.2 309.8L437.2 310.8L431.8 313.2L428.2 313.2L422.8 310.2L416.8 311.8ZM265.2 290.2L267.8 289.2L268.8 290.8L266.2 291.8ZM269.2 277.2L270.8 275.8L275.2 275.2L277.8 272.8L281.2 272.2L286.2 274.2L291.2 274.2L295.8 276.2L297.8 278.8L298.2 281.8L296.8 283.2L290.8 282.2L286.2 284.8L281.2 285.8L279.2 284.8L275.8 284.8L270.2 281.2L269.2 279.8ZM382.8 271.8L385.2 272.2L387.8 274.2L388.8 277.8L387.8 279.2L385.8 279.2L384.2 277.8L382.2 272.8ZM377.2 272.8L378.2 271.2L380.8 271.8L378.8 273.2ZM196.8 266.8L200.8 271.8L200.2 275.8L195.8 279.2L193.8 279.8L187.8 278.8L186.8 277.8L186.8 274.8L184.2 271.2L184.8 270.2L195.2 266.2ZM196.8 124.8L197.8 123.8L199.8 123.8L200.8 124.8L199.8 125.8L197.8 125.8Z"/><path fill-rule="evenodd" fill="#00f890" d="M96.2 111.2L96.2 238.8L103.2 239.2L106.2 238.2L111.8 239.8L129.8 238.2L132.8 236.2L136.2 238.2L138.8 235.2L141.8 234.2L177.2 234.8L183.8 235.8L186.2 237.8L186.2 239.2L184.2 240.8L180.2 240.8L177.8 239.2L175.2 239.2L173.8 240.2L168.8 240.2L166.2 241.8L163.8 241.8L160.8 239.8L153.8 239.8L151.2 240.8L134.8 240.2L131.8 241.2L127.8 245.8L125.2 246.8L96.2 245.8L96.2 261.2L107.2 262.2L114.8 264.8L119.8 272.2L126.2 275.8L129.8 275.8L131.2 277.2L130.8 280.8L126.8 283.2L121.8 283.2L118.8 285.8L110.8 287.2L109.2 289.2L96.2 290.2L96.2 334.8L136.2 334.8L133.8 328.8L134.2 326.8L138.8 324.2L144.2 322.8L145.8 321.2L144.8 316.8L145.8 316.2L147.8 317.8L149.8 317.8L151.2 316.8L152.8 313.2L154.8 317.2L160.2 317.2L165.2 321.8L163.2 325.8L156.2 330.8L155.2 334.8L216.8 334.8L216.2 331.8L210.8 327.8L211.2 323.8L215.8 321.8L227.8 322.2L230.2 321.2L239.8 322.2L242.8 323.8L245.2 326.2L245.8 334.8L326.2 334.8L326.8 328.8L330.8 324.2L332.8 319.2L337.2 316.2L345.2 316.8L351.2 318.8L354.8 321.8L358.8 326.8L357.8 334.8L543.8 334.8L543.8 294.8L534.8 294.2L523.8 299.8L520.2 299.8L514.8 301.8L499.2 301.8L493.8 297.8L491.8 293.8L484.2 290.8L486.2 275.2L483.8 272.8L483.8 270.8L486.2 268.2L491.8 268.2L494.2 266.8L497.2 266.8L506.2 263.8L511.8 263.8L514.8 261.8L518.2 262.2L522.2 260.2L527.8 260.8L530.8 259.8L538.2 262.8L543.8 263.2L543.8 111.2ZM219.8 304.2L221.8 305.2L220.2 307.8L218.2 306.8L218.2 305.2ZM316.2 301.8L317.2 300.8L318.2 301.2L317.8 302.2ZM449.8 309.8L448.2 311.2L439.2 315.2L438.2 316.2L438.8 318.2L436.8 320.8L432.8 318.8L427.8 320.8L424.2 318.2L419.2 317.8L413.8 313.8L408.2 313.2L404.8 310.8L401.8 310.2L398.8 307.8L395.8 307.8L394.8 305.8L399.8 303.8L399.2 300.8L397.8 298.8L398.2 297.8L407.8 293.8L416.8 293.8L420.2 295.2L424.8 293.2L433.2 297.2L442.8 299.2L447.2 301.8L447.2 306.2ZM307.8 275.2L306.2 278.8L306.2 282.2L305.2 283.2L290.2 289.8L290.8 292.2L295.2 291.8L296.8 292.2L297.8 294.2L286.8 302.2L282.8 302.2L274.8 299.8L267.2 294.8L261.8 294.2L260.2 292.2L262.2 285.2L259.2 282.8L260.2 281.2L260.2 277.8L258.8 275.2L263.2 275.2L272.2 269.2L278.8 269.2L285.8 267.2L290.2 270.2L293.8 269.8L302.2 272.8L305.2 272.8ZM206.2 271.2L203.8 275.2L203.8 279.2L197.8 283.2L187.8 283.2L182.8 282.2L179.2 279.2L178.8 276.2L181.2 272.2L182.8 265.8L185.2 263.8L195.2 260.8L197.8 261.8L202.2 265.8ZM364.8 256.2L371.8 256.8L378.8 255.8L381.2 257.8L381.2 260.2L379.2 264.2L379.8 266.8L382.2 267.8L395.2 268.8L397.2 269.8L397.2 274.2L395.2 276.8L396.8 282.2L394.2 284.8L389.2 285.2L384.8 287.2L384.2 289.8L386.2 292.2L386.2 294.2L385.2 295.2L376.8 296.8L371.2 295.2L368.8 293.2L367.8 289.2L365.2 285.8L366.2 283.2L368.2 281.2L370.2 280.8L370.8 279.2L366.2 273.8L363.2 272.2L360.2 268.8L360.8 266.8L363.2 264.8L363.2 263.2L360.2 260.8L360.2 259.2ZM442.2 238.2L443.8 237.2L444.8 238.8L443.2 239.2ZM511.8 170.2L510.2 172.2L504.8 174.2L499.8 173.2L494.2 173.2L492.8 174.2L489.2 174.2L487.8 173.2L475.8 173.2L470.8 174.8L469.2 173.2L466.8 172.8L459.8 174.8L453.2 169.2L452.2 164.8L454.2 162.2L459.8 162.2L463.2 160.8L471.2 160.2L476.8 161.2L479.8 160.2L483.2 162.8L486.2 159.8L490.8 161.8L494.8 160.8L499.2 161.8L500.8 160.2L503.2 159.8L506.8 164.2L509.2 163.2L511.2 163.8L510.8 167.8ZM220.2 162.8L219.2 165.2L215.8 168.2L204.8 168.2L202.2 167.2L191.2 168.2L188.8 165.8L188.8 162.8L190.8 160.8L204.8 160.2L206.2 159.2L214.8 159.8ZM182.8 121.8L183.8 120.8L187.8 122.2L192.8 120.8L210.2 121.2L220.8 123.2L222.2 124.2L222.2 125.8L219.2 128.2L199.2 129.2L191.8 128.2L187.2 129.2L185.2 127.2L185.2 123.8Z"/><path fill-rule="evenodd" fill="#00f000" d="M396.2 288.2L394.8 290.2L395.2 291.2L397.2 291.8L398.8 289.2ZM110.8 249.2L109.8 248.2L109.2 249.8ZM96.2 171.8L96.2 221.8L101.8 223.8L108.2 223.2L114.8 221.2L128.2 222.8L131.2 225.8L130.8 230.8L131.8 231.8L136.2 231.2L139.2 232.2L148.2 232.8L186.2 232.2L196.8 234.8L201.2 234.8L208.8 232.8L217.2 234.2L221.2 237.2L218.8 240.2L211.8 239.8L205.2 242.8L200.8 248.2L202.8 253.2L206.2 255.2L204.2 259.2L207.2 263.2L207.8 266.8L210.8 271.8L209.2 283.2L207.2 285.2L204.8 285.8L201.2 289.8L188.8 290.2L183.2 287.8L179.8 284.8L174.2 283.8L169.2 284.2L168.2 282.2L169.8 280.8L174.8 279.2L174.2 277.2L171.2 273.2L162.8 271.8L153.8 271.8L151.2 270.8L148.8 268.2L151.8 263.2L151.8 260.2L150.2 260.8L148.8 259.8L148.8 258.8L150.8 257.8L150.8 254.8L146.2 251.2L122.8 250.2L118.2 251.8L115.2 256.2L115.2 258.8L116.8 259.8L121.2 259.2L125.2 262.8L129.8 263.8L130.8 264.8L130.8 267.8L127.8 270.2L128.2 271.8L134.2 272.8L137.8 275.2L136.2 282.8L133.2 285.8L129.8 286.2L128.8 287.8L129.2 288.8L133.2 288.8L136.2 294.2L134.2 296.2L126.8 295.2L121.2 295.8L117.8 297.8L111.8 296.8L110.2 298.2L109.8 301.2L104.2 301.2L101.8 302.8L96.2 303.2L96.2 334.8L127.2 334.8L127.8 326.8L132.2 322.8L138.8 320.2L135.2 316.8L135.2 315.8L138.8 312.2L148.2 309.2L152.8 306.2L164.2 305.2L165.8 303.8L169.8 302.8L172.8 300.2L176.8 301.2L181.8 300.8L184.8 301.8L186.8 303.8L186.8 305.2L185.2 306.8L179.2 305.8L175.8 307.8L166.8 309.8L167.8 316.2L172.8 317.8L173.8 320.8L172.2 323.2L168.8 325.8L167.8 328.8L161.8 332.8L161.8 334.8L211.2 334.8L210.8 332.2L206.8 328.8L205.8 325.2L202.8 322.8L203.8 313.2L200.2 309.2L204.2 301.2L219.2 301.2L222.2 300.2L231.8 300.2L240.2 304.8L242.2 306.8L244.2 307.2L246.8 306.2L251.8 306.2L255.2 307.8L257.2 309.8L259.2 313.8L254.8 316.8L253.2 324.8L250.8 328.2L250.8 329.2L254.2 332.2L254.8 334.8L322.2 334.8L321.8 329.8L325.2 325.2L325.2 320.2L328.8 314.2L335.2 314.2L340.2 309.8L344.2 309.2L347.2 306.8L358.8 307.2L361.2 306.2L367.2 307.2L369.8 308.8L366.8 311.2L362.2 312.2L358.8 316.8L359.8 320.8L363.8 324.2L362.2 334.8L448.8 334.8L449.8 331.8L454.8 329.8L459.2 330.2L462.8 327.2L464.2 327.2L467.2 329.8L470.8 329.8L472.2 331.8L472.2 334.8L543.8 334.8L543.8 299.8L538.8 299.2L534.8 301.8L529.8 300.2L528.8 301.2L527.8 306.2L523.8 307.2L517.8 306.8L515.2 307.8L511.2 307.8L506.2 310.8L498.8 311.8L495.8 313.2L491.2 313.2L488.2 314.8L481.8 312.2L475.2 311.2L473.8 309.8L473.2 306.2L475.2 304.2L478.8 303.2L483.8 299.8L484.8 297.8L481.2 295.8L472.2 293.8L469.8 291.8L470.8 289.8L475.2 289.8L475.8 285.8L473.2 282.2L475.2 280.8L476.2 277.8L475.2 276.2L471.2 275.8L472.8 270.2L468.8 267.2L466.2 267.2L462.8 268.8L455.8 265.8L452.2 266.2L447.8 262.8L442.2 261.2L437.8 258.2L438.2 253.2L422.8 248.2L419.8 244.2L419.2 239.8L417.8 237.2L419.8 235.2L423.8 235.8L428.2 233.2L430.2 234.2L437.8 234.8L444.8 234.2L456.8 237.8L468.8 238.2L471.2 241.2L471.2 242.8L469.8 244.2L464.2 244.2L460.8 246.2L455.2 246.8L453.2 249.2L455.8 250.2L458.2 252.8L456.8 257.2L459.2 260.8L468.2 262.2L475.2 267.2L482.8 266.8L485.8 264.8L492.2 265.8L496.8 263.8L502.8 263.2L506.8 259.8L510.8 260.2L516.8 255.2L523.8 254.8L524.2 247.2L527.8 243.8L526.2 239.8L527.8 236.2L527.8 231.8L529.8 228.8L530.8 224.8L532.8 222.8L543.8 221.2L543.8 177.2L533.8 177.2L520.2 179.2L517.8 178.2L506.8 178.8L497.2 176.8L488.8 178.2L474.2 177.8L470.2 179.2L466.8 179.2L463.2 177.8L458.2 177.8L455.2 174.8L449.2 172.8L444.8 173.2L436.8 170.8L432.8 173.2L429.2 172.2L418.8 173.2L410.8 173.2L406.2 172.2L402.8 173.2L396.2 173.2L391.2 171.2L384.8 173.8L381.2 173.8L379.2 172.8L363.2 173.2L361.8 172.2L345.2 172.8L342.8 171.2L340.2 171.2L335.8 173.2L324.8 172.2L310.8 173.2L305.8 171.2L301.8 171.2L298.8 172.8L271.8 173.2L261.8 172.2L259.2 174.8L251.8 171.2L249.8 171.2L247.2 174.2L243.8 172.8L237.8 172.2L232.2 173.2L226.8 172.2L223.2 173.2L219.8 170.8L214.8 172.8L208.8 171.8L198.2 172.8L194.8 171.8L188.2 173.8L184.8 172.2L176.2 173.2L173.2 171.8L168.8 173.2L165.8 172.2L160.8 172.8L158.2 171.8L153.2 172.8L136.8 172.8L132.8 171.8L129.8 173.2L119.2 172.2L109.2 173.2L106.2 170.8L102.2 172.8ZM456.2 320.2L459.2 320.2L460.2 322.8L459.2 323.8L458.2 323.2ZM145.2 267.8L146.2 267.2L146.8 268.2L145.8 268.8ZM523.2 237.8L524.2 239.2L522.8 240.2L522.2 238.8ZM249.8 279.2L253.8 275.8L255.8 271.2L259.8 269.8L258.8 266.8L254.8 261.8L255.2 258.8L262.2 258.8L264.8 256.8L269.8 256.2L272.2 254.2L275.8 253.2L278.8 250.2L284.8 250.8L289.8 249.8L295.2 244.8L294.2 242.8L277.8 238.8L276.2 236.8L277.8 234.2L282.8 232.8L299.8 233.8L308.2 232.8L310.8 234.2L328.2 234.2L331.2 233.2L339.2 234.2L341.8 233.2L350.8 233.8L352.2 232.8L355.8 234.2L359.8 234.2L361.8 232.8L366.2 232.8L369.8 234.2L372.2 232.8L375.2 232.8L379.8 234.2L384.2 240.2L383.2 248.2L385.8 251.2L385.2 255.2L386.8 258.2L384.8 263.8L391.2 266.2L402.8 266.2L406.2 270.8L403.2 275.8L404.2 281.2L401.8 287.8L402.2 290.2L403.2 291.2L405.8 291.2L408.2 289.8L415.8 290.8L419.2 288.8L421.8 288.8L424.2 290.8L427.2 291.2L430.8 289.8L434.2 289.8L436.2 292.8L439.2 293.2L444.8 296.2L449.8 296.8L451.8 295.8L456.8 299.2L456.2 303.2L457.2 306.2L454.8 309.8L454.8 312.8L456.2 314.2L456.2 319.8L454.8 320.2L453.8 319.2L454.2 314.2L451.2 313.8L448.2 314.8L447.8 316.8L449.8 318.8L452.8 319.8L453.2 321.2L449.2 324.2L443.8 322.8L438.8 324.2L433.2 322.8L428.2 323.2L423.2 321.2L415.2 321.2L404.8 315.2L396.8 315.2L393.8 312.8L388.8 312.8L386.8 311.8L383.2 307.2L379.2 304.2L379.2 302.8L377.2 300.8L373.8 299.8L368.8 300.8L365.8 299.2L361.2 298.8L358.2 294.8L359.2 289.8L358.2 282.2L360.2 279.2L359.8 276.8L358.2 274.2L352.2 272.2L350.2 269.8L350.2 266.2L353.8 263.8L353.8 262.2L352.8 261.2L349.8 261.2L345.8 256.2L343.2 255.2L338.8 257.8L336.8 257.8L333.2 255.8L329.8 258.8L328.2 262.2L324.8 262.2L323.8 263.8L326.2 267.2L321.8 273.8L317.2 274.2L313.8 278.2L312.2 278.8L311.2 280.2L311.2 282.8L307.8 287.8L308.2 290.2L310.8 292.8L317.2 294.8L322.2 294.2L325.2 297.2L326.8 301.8L329.8 304.2L329.8 305.2L326.2 307.8L321.8 306.8L307.8 307.8L303.8 306.2L297.2 306.2L295.2 305.2L292.8 305.2L290.2 306.8L285.2 305.8L267.8 306.8L264.8 307.8L260.8 307.2L258.8 305.8L258.8 302.8L262.8 298.8L255.8 295.8L251.2 291.8L250.8 290.2L254.8 286.2L255.2 283.8L254.2 281.8L250.2 281.2ZM272.8 220.2L275.2 218.2L277.8 218.8L280.8 216.8L288.2 215.8L299.8 215.8L302.8 217.2L307.2 216.8L313.2 219.2L314.8 220.8L313.2 222.2L302.8 224.2L298.8 223.8L290.8 225.2L287.2 223.2L279.2 224.2L278.2 222.8L273.8 222.2ZM266.2 205.8L267.2 205.2L267.8 206.2L266.8 206.8ZM377.2 183.8L377.8 183.2L378.8 184.2L377.8 184.8ZM165.2 148.8L164.2 149.2L163.8 151.2L165.8 152.2L166.8 151.8L166.8 150.2ZM543.8 121.8L537.2 121.2L534.2 122.2L528.8 122.2L525.8 121.2L521.2 122.8L516.8 122.8L514.8 121.8L505.8 122.8L490.2 122.8L488.2 124.2L488.2 126.2L491.2 130.8L490.2 136.8L493.2 138.2L503.8 138.8L506.8 140.2L513.2 139.8L514.8 138.8L527.8 139.2L529.8 138.2L543.8 139.2ZM453.8 123.8L450.2 120.2L451.8 116.8L439.2 118.2L433.2 115.8L431.2 115.8L426.8 118.2L424.2 118.2L418.8 116.2L407.2 116.8L405.2 117.8L398.2 116.2L381.2 117.8L376.8 115.2L371.8 118.8L364.2 116.2L362.2 117.8L362.2 119.8L360.8 121.2L354.8 123.2L346.2 122.2L340.2 122.8L337.8 121.8L333.8 122.2L331.8 121.8L329.8 119.8L328.8 116.8L326.2 116.8L322.2 118.8L318.2 115.8L313.8 115.8L310.2 117.8L300.2 116.8L293.2 117.8L287.2 116.2L282.2 116.2L274.2 119.2L270.8 122.2L266.8 121.8L264.8 122.8L258.2 122.2L253.8 123.2L248.8 121.8L244.2 121.8L239.8 123.2L237.2 126.2L237.2 128.2L239.2 129.8L239.8 131.8L238.2 133.2L233.2 134.2L224.2 133.2L219.2 133.8L216.2 131.8L212.8 133.2L204.8 132.2L199.8 133.8L195.2 132.2L191.8 133.8L180.8 132.8L177.8 134.2L175.2 134.2L169.8 131.2L170.8 126.8L170.2 124.8L158.8 122.2L147.8 121.8L143.8 123.2L128.8 122.2L126.2 123.8L114.2 123.8L111.2 122.2L101.2 123.8L98.2 121.8L96.2 121.8L96.2 132.8L118.8 133.2L121.8 131.8L124.2 132.8L129.8 132.8L135.2 131.2L137.8 131.2L140.8 133.2L144.8 132.2L148.8 132.2L151.2 133.2L158.2 132.2L159.8 133.2L165.8 132.2L167.2 133.2L165.8 141.2L170.2 144.8L171.2 147.2L168.8 153.2L175.2 155.8L189.8 155.8L193.8 156.8L197.2 155.8L208.2 156.2L212.2 154.8L216.2 154.8L221.2 156.2L226.8 154.2L234.8 154.2L238.8 155.8L243.2 155.2L246.2 156.2L255.8 156.8L258.8 154.8L266.8 156.2L271.2 153.8L277.8 152.8L281.8 150.2L289.8 148.2L294.2 144.2L294.2 140.8L292.2 137.8L292.2 135.2L299.2 132.8L310.2 133.2L312.2 134.2L325.8 133.8L330.8 138.8L329.2 141.8L329.8 143.8L335.2 145.8L338.2 145.8L341.2 144.2L345.2 144.2L355.8 137.2L363.2 136.8L363.8 134.8L360.8 130.8L361.2 128.8L366.2 129.8L367.2 130.8L367.2 135.2L369.2 135.8L370.2 134.8L370.2 132.8L368.8 128.8L370.2 127.2L373.8 126.2L387.8 127.2L394.2 128.8L403.8 128.8L411.8 126.2L415.8 128.2L428.8 125.8L435.8 128.2L438.8 128.2L444.2 126.8L446.8 127.2L453.2 125.8ZM223.8 115.2L223.8 116.8L224.8 116.8ZM168.8 111.2L168.8 114.2L169.8 115.2L180.2 117.8L198.2 116.2L202.8 117.8L211.8 118.2L215.2 117.2L218.2 114.2L221.8 113.8L221.8 111.2Z"/><path fill-rule="evenodd" fill="#90f000" d="M168.2 333.8L168.2 334.8L171.2 334.8L170.8 333.2ZM413.8 329.8L413.8 331.2L416.2 334.8L439.2 334.8L439.2 332.8L441.2 329.2L436.2 325.8L421.8 324.2ZM172.8 328.8L172.8 334.8L201.2 334.2L200.8 330.2L197.8 328.2L196.8 325.2L188.2 321.2L178.2 322.8ZM260.2 325.8L260.8 329.8L264.8 332.2L265.2 334.8L298.2 334.8L298.2 332.8L294.2 330.8L291.2 327.8L291.8 325.2L290.2 323.2L290.8 318.8L289.8 317.2L281.8 318.2L280.2 317.2L270.8 317.2L262.8 320.8ZM368.2 334.8L384.8 334.8L384.8 333.2L387.2 330.8L389.2 329.8L393.2 329.8L396.8 326.8L401.2 325.2L403.8 320.8L398.2 317.8L390.8 319.2L385.2 314.8L380.2 315.2L377.2 312.8L375.2 312.2L369.2 313.2L366.8 316.2L366.8 317.2L368.8 318.2L368.8 325.8L370.2 327.8L370.2 329.2L368.2 332.2ZM543.8 313.2L537.8 313.2L529.2 310.8L526.8 312.2L518.8 311.8L514.8 313.8L510.2 313.2L506.8 314.8L505.2 316.8L507.8 317.8L508.8 319.2L508.8 321.2L506.8 324.2L506.8 327.2L508.2 329.2L508.2 334.8L543.8 334.8ZM188.2 310.2L187.8 311.8L188.8 311.2ZM132.2 308.8L128.2 307.2L120.2 308.2L118.8 307.2L111.8 307.2L109.8 306.2L106.8 307.2L96.2 307.2L96.2 328.8L103.8 327.2L108.8 330.8L111.2 330.8L114.8 327.2L121.8 325.2L123.2 323.2L129.8 319.2L129.8 317.2L127.2 315.2L127.2 313.8L132.8 309.8ZM214.8 297.8L216.2 298.2L215.8 297.2ZM173.2 294.2L171.8 292.8L168.2 292.8L164.2 289.8L160.8 291.8L156.2 290.8L153.8 292.2L148.2 290.2L147.2 292.2L149.2 293.2L150.2 295.2L148.2 297.8L147.8 300.8L149.8 302.8L161.2 300.8L164.2 298.8L172.2 296.8ZM144.2 274.8L144.2 276.8L149.2 281.2L152.2 279.8L156.8 280.2L161.2 277.8L165.2 277.8L165.2 276.2L162.8 274.2L152.2 274.2L149.8 275.8L147.8 275.8L145.2 274.2ZM216.2 279.8L218.2 278.2L223.2 279.8L231.2 278.8L235.2 279.8L238.8 277.2L243.2 277.2L243.8 275.2L241.2 273.8L233.2 273.8L226.8 271.8L217.8 273.2L215.8 275.8ZM315.2 282.8L314.8 285.8L318.2 289.2L326.2 292.8L331.2 293.8L331.2 297.8L333.8 300.2L345.8 301.2L349.2 298.8L351.8 294.8L352.2 285.2L350.2 282.8L350.8 278.2L345.2 273.8L343.8 269.8L341.2 267.8L338.2 267.8L332.8 270.2L328.8 275.8L325.2 277.2L320.2 277.8ZM484.2 258.8L482.2 259.8L482.2 261.8L484.2 261.2ZM395.2 247.8L400.2 252.2L399.8 255.2L396.8 258.8L397.2 262.2L399.8 264.2L401.8 263.8L404.2 261.2L414.2 262.8L417.2 266.2L414.2 269.2L414.2 272.2L416.2 274.2L422.8 271.8L427.8 273.8L434.8 273.8L438.8 277.8L444.2 276.8L446.8 279.2L449.2 279.2L455.2 275.2L459.2 276.2L460.8 274.8L460.2 272.8L456.2 269.8L451.8 270.2L446.2 266.8L440.2 265.8L430.8 260.8L430.2 258.8L431.8 257.2L432.2 254.8L429.8 252.2L426.8 251.2L419.8 251.2L413.2 248.8L410.2 245.8L403.2 245.8L400.2 246.8L397.2 246.2ZM488.2 256.2L490.8 260.8L492.2 261.8L501.2 260.8L504.2 257.8L509.2 255.8L508.2 251.8L511.8 249.2L511.8 245.8L509.8 245.2L506.8 246.8L501.8 247.2L498.8 245.8L495.2 246.2L488.8 244.2L488.8 248.2L490.2 252.8L488.2 254.2ZM143.8 228.2L144.8 229.8L149.2 229.2L146.2 227.2ZM96.2 183.8L96.2 206.2L102.2 204.8L108.8 206.8L123.8 205.8L130.8 206.8L133.2 205.2L141.8 205.2L144.2 207.2L145.8 207.2L148.8 205.2L153.2 206.2L156.8 204.8L161.2 204.8L163.8 206.2L172.2 206.8L184.8 205.2L191.8 205.2L196.2 206.8L202.8 204.8L205.8 204.8L207.2 205.8L216.8 205.2L218.8 206.2L228.2 205.2L231.2 206.8L236.2 206.2L241.8 201.2L244.2 200.2L246.2 200.8L249.8 198.8L254.8 200.2L260.8 199.2L263.8 201.2L274.8 199.8L277.8 202.2L279.2 202.2L282.2 199.2L283.8 199.2L286.8 201.8L290.2 200.2L293.8 201.2L298.8 198.8L319.2 199.8L321.2 200.8L325.8 199.8L331.2 204.8L331.2 206.8L327.2 209.8L328.8 215.8L333.8 215.2L336.2 217.8L342.2 217.8L349.2 223.2L349.8 226.8L351.2 228.8L353.2 229.2L357.2 227.2L360.8 229.8L369.2 228.8L370.8 227.8L373.2 227.8L376.2 229.8L378.2 229.8L382.2 227.2L398.2 229.2L403.8 229.2L406.2 228.2L415.2 229.2L420.2 223.8L424.2 222.2L426.8 223.2L434.2 222.8L438.2 225.2L438.2 227.2L435.8 229.8L433.2 228.8L431.2 229.8L432.2 231.8L473.8 234.8L481.2 232.8L487.2 232.8L491.2 234.2L495.2 232.8L498.2 234.2L503.2 233.8L507.2 235.8L518.8 231.2L521.8 231.8L523.2 224.2L518.2 224.2L510.8 220.2L506.8 219.8L506.2 216.8L509.2 213.2L505.2 210.2L506.8 207.8L515.2 206.8L518.8 205.2L536.8 206.8L540.8 204.8L543.8 204.8L543.8 189.8L539.2 188.8L535.8 189.8L529.8 188.8L516.8 189.8L513.8 188.8L511.2 189.8L498.2 189.2L493.8 190.8L481.8 190.8L479.8 189.8L475.8 189.8L471.2 187.8L468.2 184.2L465.8 183.2L458.2 184.2L453.8 182.8L447.8 182.8L440.8 184.2L432.2 189.8L418.8 190.2L415.8 189.2L413.8 190.2L402.2 190.8L394.2 188.8L388.8 191.2L383.2 191.2L377.2 188.8L371.8 189.8L365.2 186.8L362.2 183.8L357.2 184.8L345.2 183.2L341.8 184.8L337.8 184.8L335.8 183.8L325.8 184.2L321.8 183.2L318.2 186.2L313.8 184.8L310.8 188.2L307.8 189.2L301.2 188.8L298.2 190.2L295.2 190.2L291.8 188.8L288.8 188.8L286.8 190.2L284.2 190.2L279.2 188.8L275.8 190.8L273.8 190.8L270.2 188.8L267.8 188.8L263.2 190.8L260.8 189.2L257.8 189.2L256.2 190.8L254.2 190.8L247.2 187.2L243.2 189.8L231.2 188.8L228.2 190.8L226.8 190.8L223.8 188.2L217.8 189.8L210.8 189.8L207.8 187.8L203.2 188.2L197.8 183.2L188.2 183.8L185.8 182.2L182.8 182.2L177.2 184.2L168.8 183.2L165.2 185.8L161.2 182.8L157.8 184.2L147.2 184.8L145.8 183.8L140.8 184.8L136.2 183.8L134.2 185.2L128.8 182.2L124.2 182.2L122.2 183.8L113.8 182.8L109.8 185.2L101.8 183.8ZM438.8 189.8L440.8 189.2L441.2 190.8L439.8 191.2Z"/><path fill-rule="evenodd" fill="#c8f000" d="M291.8 333.2L284.2 327.8L282.2 327.8L279.8 329.8L274.2 328.2L271.8 329.8L270.2 334.8L291.8 334.8ZM180.2 327.2L180.8 328.8L184.8 326.8L188.8 329.8L190.8 329.2L190.2 327.2L188.2 325.8L181.8 326.2ZM383.8 324.2L384.2 326.2L386.2 325.2ZM274.2 321.2L274.8 322.2L277.8 321.8L277.8 320.8ZM119.2 317.2L118.2 314.2L115.8 312.2L110.8 313.2L96.2 312.8L96.2 323.2L103.2 324.2L116.2 321.2ZM322.8 282.8L322.8 285.8L326.8 286.2L329.2 289.2L330.8 289.8L340.2 289.2L346.8 285.2L346.8 282.8L345.2 280.2L341.8 280.2L338.8 278.2L336.2 278.2L334.8 279.2L330.2 278.2L324.2 280.2ZM416.8 254.8L417.2 257.2L419.2 258.2L422.8 256.8L422.8 254.8L421.8 254.2ZM509.2 229.2L512.2 229.8L514.2 227.8L510.2 227.8ZM491.8 198.2L488.2 194.2L477.8 194.8L471.8 198.2L467.8 205.2L480.8 205.2L482.8 206.2L486.8 206.2L491.8 201.2ZM468.8 193.8L467.8 193.2L466.8 194.2L468.2 194.8Z"/></g><path d="M112.3 111.0v3M112.3 334.7v-3M130.3 111.0v6M130.3 334.7v-6M148.4 111.0v3M148.4 334.7v-3M166.4 111.0v6M166.4 334.7v-6M184.5 111.0v3M184.5 334.7v-3M202.6 111.0v6M202.6 334.7v-6M220.6 111.0v3M220.6 334.7v-3M238.7 111.0v6M238.7 334.7v-6M256.7 111.0v3M256.7 334.7v-3M274.8 111.0v6M274.8 334.7v-6M292.9 111.0v3M292.9 334.7v-3M310.9 111.0v6M310.9 334.7v-6M329.0 111.0v3M329.0 334.7v-3M347.0 111.0v6M347.0 334.7v-6M365.1 111.0v3M365.1 334.7v-3M383.2 111.0v6M383.2 334.7v-6M401.2 111.0v3M401.2 334.7v-3M419.3 111.0v6M419.3 334.7v-6M437.3 111.0v3M437.3 334.7v-3M455.4 111.0v6M455.4 334.7v-6M473.5 111.0v3M473.5 334.7v-3M491.5 111.0v6M491.5 334.7v-6M509.6 111.0v3M509.6 334.7v-3M527.6 111.0v6M527.6 334.7v-6M96.4 325.2h3M543.4 325.2h-3M96.4 313.9h3M543.4 313.9h-3M96.4 302.6h3M543.4 302.6h-3M96.4 291.2h3M543.4 291.2h-3M96.4 279.9h6M543.4 279.9h-6M96.4 268.5h3M543.4 268.5h-3M96.4 257.2h3M543.4 257.2h-3M96.4 245.8h3M543.4 245.8h-3M96.4 234.5h3M543.4 234.5h-3M96.4 223.1h6M543.4 223.1h-6M96.4 211.8h3M543.4 211.8h-3M96.4 200.4h3M543.4 200.4h-3M96.4 189.1h3M543.4 189.1h-3M96.4 177.7h3M543.4 177.7h-3M96.4 166.4h6M543.4 166.4h-6M96.4 155.0h3M543.4 155.0h-3M96.4 143.7h3M543.4 143.7h-3M96.4 132.3h3M543.4 132.3h-3M96.4 121.0h3M543.4 121.0h-3" stroke="#000" stroke-width="1.5" fill="none"/><rect x="96.4" y="111.0" width="447.0" height="223.7" fill="none" stroke="#000" stroke-width="1.7"/><text x="320.5" y="80" text-anchor="middle" font-size="21" letter-spacing="0.9" word-spacing="3.5">zonal velocity</text><text x="33.5" y="95" font-size="12.5" letter-spacing="1.45" stroke="#000" stroke-width="0.3">(×1000 m)</text><text x="484.5" y="366.2" font-size="12.5" letter-spacing="1.55" stroke="#000" stroke-width="0.3">(×1000 m)</text><text x="320" y="387" text-anchor="middle" font-size="16" letter-spacing="1.5">X coordinate</text><text transform="translate(64.5,220.5) rotate(-90)" x="0" y="0" text-anchor="middle" font-size="16" letter-spacing="1.15">Z coordinate</text><text x="90.3" y="283.5" text-anchor="end" font-size="12.5" letter-spacing="1" stroke="#000" stroke-width="0.45">5</text><text x="90.3" y="226.7" text-anchor="end" font-size="12.5" letter-spacing="1" stroke="#000" stroke-width="0.45">10</text><text x="90.3" y="170.0" text-anchor="end" font-size="12.5" letter-spacing="1" stroke="#000" stroke-width="0.45">15</text><text x="131.1" y="350.9" text-anchor="middle" font-size="12.5" letter-spacing="1" stroke="#000" stroke-width="0.45">4</text><text x="167.2" y="350.9" text-anchor="middle" font-size="12.5" letter-spacing="1" stroke="#000" stroke-width="0.45">8</text><text x="203.4" y="350.9" text-anchor="middle" font-size="12.5" letter-spacing="1" stroke="#000" stroke-width="0.45">12</text><text x="239.5" y="350.9" text-anchor="middle" font-size="12.5" letter-spacing="1" stroke="#000" stroke-width="0.45">16</text><text x="275.6" y="350.9" text-anchor="middle" font-size="12.5" letter-spacing="1" stroke="#000" stroke-width="0.45">20</text><text x="311.7" y="350.9" text-anchor="middle" font-size="12.5" letter-spacing="1" stroke="#000" stroke-width="0.45">24</text><text x="347.8" y="350.9" text-anchor="middle" font-size="12.5" letter-spacing="1" stroke="#000" stroke-width="0.45">28</text><text x="384.0" y="350.9" text-anchor="middle" font-size="12.5" letter-spacing="1" stroke="#000" stroke-width="0.45">32</text><text x="420.1" y="350.9" text-anchor="middle" font-size="12.5" letter-spacing="1" stroke="#000" stroke-width="0.45">36</text><text x="456.2" y="350.9" text-anchor="middle" font-size="12.5" letter-spacing="1" stroke="#000" stroke-width="0.45">40</text><text x="492.3" y="350.9" text-anchor="middle" font-size="12.5" letter-spacing="1" stroke="#000" stroke-width="0.45">44</text><text x="528.4" y="350.9" text-anchor="middle" font-size="12.5" letter-spacing="1" stroke="#000" stroke-width="0.45">48</text><text x="551" y="119.8" font-size="12" fill="#333" letter-spacing="1.27">t=496800 s</text><rect x="555.0" y="326.66" width="13.0" height="8.04" fill="#4800b0"/><rect x="555.0" y="318.63" width="13.0" height="8.04" fill="#2800a8"/><rect x="555.0" y="310.59" width="13.0" height="8.04" fill="#1000c0"/><rect x="555.0" y="302.56" width="13.0" height="8.04" fill="#0010f0"/><rect x="555.0" y="294.52" width="13.0" height="8.04" fill="#0040f0"/><rect x="555.0" y="286.49" width="13.0" height="8.04" fill="#0070f0"/><rect x="555.0" y="278.45" width="13.0" height="8.04" fill="#00a8f0"/><rect x="555.0" y="270.42" width="13.0" height="8.04" fill="#00f0f0"/><rect x="555.0" y="262.38" width="13.0" height="8.04" fill="#00f0c8"/><rect x="555.0" y="254.35" width="13.0" height="8.04" fill="#00f890"/><rect x="555.0" y="246.31" width="13.0" height="8.04" fill="#00f000"/><rect x="555.0" y="238.28" width="13.0" height="8.04" fill="#90f000"/><rect x="555.0" y="230.25" width="13.0" height="8.04" fill="#c8f000"/><rect x="555.0" y="222.21" width="13.0" height="8.04" fill="#f0f000"/><rect x="555.0" y="214.17" width="13.0" height="8.04" fill="#f0d000"/><rect x="555.0" y="206.14" width="13.0" height="8.04" fill="#f0a000"/><rect x="555.0" y="198.10" width="13.0" height="8.04" fill="#f07800"/><rect x="555.0" y="190.07" width="13.0" height="8.04" fill="#f05000"/><rect x="555.0" y="182.03" width="13.0" height="8.04" fill="#f02000"/><rect x="555.0" y="174.00" width="13.0" height="8.04" fill="#e01828"/><path d="M555.0 326.66H568.0M555.0 318.63H568.0M555.0 310.59H568.0M555.0 302.56H568.0M555.0 294.52H568.0M555.0 286.49H568.0M555.0 278.45H568.0M555.0 270.42H568.0M555.0 262.38H568.0M555.0 254.35H568.0M555.0 246.31H568.0M555.0 238.28H568.0M555.0 230.25H568.0M555.0 222.21H568.0M555.0 214.17H568.0M555.0 206.14H568.0M555.0 198.10H568.0M555.0 190.07H568.0M555.0 182.03H568.0" stroke="#000" stroke-width="1.3"/><path d="M555.0 174.0L561.5 146.5L568.0 174.0Z" fill="#f8aca8" stroke="#000" stroke-width="1.3"/><path d="M555.0 334.7L561.5 364L568.0 334.7Z" fill="#7400b4" stroke="#000" stroke-width="1.3"/><rect x="555.0" y="174.0" width="13.0" height="160.7" fill="none" stroke="#000" stroke-width="1.5"/><text x="574" y="331.5" font-size="12" font-weight="bold" letter-spacing="0.4">−36</text><text x="574" y="307.4" font-size="12" font-weight="bold" letter-spacing="0.4">−24</text><text x="574" y="283.3" font-size="12" font-weight="bold" letter-spacing="0.4">−12</text><text x="574" y="259.1" font-size="12" font-weight="bold" letter-spacing="0.4">0</text><text x="574" y="235.0" font-size="12" font-weight="bold" letter-spacing="0.4">12</text><text x="574" y="210.9" font-size="12" font-weight="bold" letter-spacing="0.4">24</text><text x="574" y="186.8" font-size="12" font-weight="bold" letter-spacing="0.4">36</text></g>
<g transform="translate(640,463)"><clipPath id="cp_w"><rect x="96.4" y="111.0" width="447.0" height="223.7"/></clipPath><g clip-path="url(#cp_w)"><rect x="96.4" y="111.0" width="447.0" height="223.7" fill="#1000c0"/><path fill-rule="evenodd" fill="#0010f0" d="M96.2 111.2L96.2 334.8L543.8 334.8L543.8 111.2ZM352.8 297.8L357.8 300.8L359.2 303.2L358.8 309.2L354.8 313.2L352.2 312.8L350.8 310.8L350.8 301.2Z"/><path fill-rule="evenodd" fill="#0040f0" d="M96.2 111.2L96.2 334.8L543.8 334.8L543.8 111.2ZM253.2 297.2L255.8 300.2L254.8 308.8L253.8 311.2L251.8 313.2L250.2 313.2L248.2 311.2L248.2 302.8L249.2 299.2ZM179.2 296.2L179.8 300.2L176.8 304.8L175.8 303.8L175.8 300.8L176.8 297.8ZM356.2 292.2L359.8 296.8L361.2 305.8L358.8 314.8L355.2 319.2L353.2 319.2L349.2 316.2L348.2 313.8L347.8 299.2L349.2 295.8L351.2 293.8Z"/><path fill-rule="evenodd" fill="#0070f0" d="M96.2 111.2L96.2 334.8L543.8 334.8L543.8 111.2ZM490.2 310.2L491.2 310.2L492.8 312.8L491.2 316.8L488.8 314.2L488.8 312.2ZM250.2 293.8L252.8 293.8L255.8 295.2L257.8 299.2L257.8 312.8L255.2 317.8L253.2 319.8L251.2 319.8L247.2 315.2L245.8 308.2L246.2 299.2L247.2 296.8ZM157.2 293.8L159.2 297.8L160.2 310.8L158.8 314.2L154.8 305.2L154.8 299.8ZM180.2 292.2L181.8 294.2L181.8 299.2L178.2 308.2L174.8 311.2L173.2 309.2L173.8 300.8L176.2 294.8L178.8 292.2ZM357.8 288.2L361.2 292.8L363.2 302.2L363.2 307.8L361.8 311.2L361.8 317.8L360.8 318.8L358.8 318.8L357.2 321.8L354.2 323.8L350.2 321.8L347.8 318.8L345.2 307.2L345.2 299.8L348.8 291.2L353.8 287.8ZM508.2 280.2L508.8 279.8L509.2 280.8L508.8 281.2Z"/><path fill-rule="evenodd" fill="#00a8f0" d="M96.2 111.2L96.2 334.8L543.8 334.8L543.8 111.2ZM474.8 317.8L476.2 317.8L477.8 319.2L477.8 322.2L476.2 325.2L474.8 325.2L472.8 321.8L473.2 319.2ZM491.8 305.8L494.2 310.2L494.8 317.8L492.8 321.8L491.2 322.8L488.2 318.8L487.2 311.8L488.8 308.2ZM250.2 289.8L252.8 289.8L254.8 291.8L256.8 292.2L260.8 300.2L260.8 305.8L258.2 317.2L257.2 319.2L251.8 323.8L245.8 318.8L243.8 310.8L244.2 298.2L247.8 291.8ZM181.2 287.8L183.2 290.2L182.8 300.8L178.8 311.2L175.2 315.2L173.8 315.8L171.2 312.8L170.2 308.2L171.2 301.8L176.8 290.8L179.2 288.2ZM156.2 287.8L158.8 289.8L161.8 298.8L161.8 317.2L158.8 320.8L157.8 320.8L155.8 318.2L155.8 314.2L153.2 302.2L154.8 289.8ZM352.8 283.2L358.8 284.2L361.2 287.8L365.8 305.2L365.8 311.8L363.8 316.2L362.8 321.8L356.2 327.8L352.8 327.8L346.8 322.2L344.8 317.8L343.2 308.2L343.2 301.2L345.2 292.2L347.2 288.2ZM509.8 274.8L511.8 277.2L511.8 282.2L509.8 287.2L507.2 288.2L505.8 286.8L505.8 279.2L507.2 275.8Z"/><path fill-rule="evenodd" fill="#00f0f0" d="M96.2 111.2L96.2 334.8L543.8 334.8L543.8 111.2ZM477.2 313.8L479.8 316.2L480.2 319.2L477.8 326.8L476.2 328.2L474.2 328.2L471.2 323.8L471.2 318.2L473.8 315.2ZM492.2 299.8L494.2 303.2L494.8 306.2L497.8 310.8L495.8 320.8L493.8 325.2L491.2 327.2L488.8 324.8L486.2 319.2L485.8 311.2L490.2 300.8ZM253.2 283.8L258.2 288.2L262.2 296.2L263.8 307.8L258.2 322.8L253.8 326.2L249.2 327.2L246.8 322.8L243.8 320.2L240.8 312.2L242.8 293.2L245.8 287.2L251.8 283.8ZM180.8 281.8L184.8 285.8L185.2 289.8L183.8 303.2L179.8 313.8L175.8 318.2L173.2 324.2L171.8 325.8L170.2 324.2L168.8 318.8L166.2 316.8L165.2 317.2L163.8 321.8L161.8 323.8L156.8 323.8L154.2 318.2L152.2 303.2L153.8 284.2L155.8 282.8L156.8 283.2L161.8 290.8L164.2 297.2L163.8 309.2L164.8 311.2L171.8 293.2ZM355.2 278.2L360.2 280.2L363.8 285.8L364.8 293.2L367.2 295.2L367.8 310.8L367.2 314.8L365.2 318.8L364.8 323.8L359.8 330.8L352.2 333.8L346.8 329.2L343.8 322.2L342.2 315.8L341.2 303.2L342.8 291.2L346.2 282.8L352.8 278.8ZM509.2 270.2L511.2 271.8L513.8 276.8L512.8 292.8L511.2 294.2L507.8 293.8L503.8 291.2L504.2 274.8Z"/><path fill-rule="evenodd" fill="#00f0c8" d="M512.8 304.2L512.2 306.2L513.2 307.2L513.8 304.8ZM490.2 276.8L488.2 278.2L488.8 281.8L490.2 280.2ZM96.2 111.2L96.2 334.8L158.8 334.8L156.8 332.2L152.8 318.8L151.2 305.2L151.2 294.8L152.8 281.2L155.2 277.8L157.8 276.8L159.8 271.2L162.2 280.8L165.8 277.2L167.2 282.8L172.2 283.8L175.2 282.2L178.2 276.8L180.2 275.8L184.2 280.2L186.2 281.2L187.2 283.2L185.2 304.2L181.8 316.8L178.8 320.2L175.8 327.2L173.2 329.8L170.8 329.8L166.8 326.8L161.2 334.8L345.2 334.8L341.8 323.8L339.8 308.2L340.2 288.8L345.2 276.8L347.2 274.8L349.2 274.8L352.2 269.8L356.8 271.2L359.8 274.8L362.2 275.2L364.8 277.8L366.8 281.2L369.8 291.2L369.8 319.8L368.2 325.8L363.8 331.2L362.2 334.8L543.8 334.8L543.8 111.2ZM252.8 275.2L265.2 287.2L265.8 294.8L267.8 298.2L265.8 303.8L266.2 319.2L259.8 330.2L257.8 329.8L254.8 332.2L251.8 331.2L249.8 334.2L248.2 334.8L245.2 325.8L242.8 327.2L241.2 325.2L240.8 321.8L238.8 319.2L238.2 309.2L236.8 303.8L240.8 293.2L241.2 287.2L243.2 283.2L245.8 280.2L247.8 280.2L250.8 275.8ZM511.2 263.8L515.8 268.2L518.8 274.2L520.8 281.8L523.8 282.2L523.8 280.2L524.8 278.8L525.2 279.2L524.2 288.2L525.8 292.2L527.2 292.8L527.2 290.8L525.2 287.2L525.2 284.2L526.2 283.2L527.8 283.2L529.2 287.2L533.2 290.2L532.8 295.8L528.8 305.8L527.8 306.2L524.8 302.8L523.2 309.8L522.2 310.8L519.2 310.2L518.8 311.2L519.2 318.2L516.2 322.8L514.8 321.8L514.2 318.2L512.8 315.8L511.8 316.2L510.8 319.8L508.2 320.8L506.2 318.8L504.2 312.8L501.8 311.2L501.2 314.2L502.8 316.2L502.8 319.8L500.2 322.2L499.2 321.2L499.2 319.2L498.2 319.2L498.2 324.2L495.8 325.8L492.8 331.2L490.2 330.8L488.2 328.8L484.8 322.8L481.8 322.8L480.2 324.2L479.2 328.8L477.8 330.2L475.2 331.2L472.2 330.8L469.8 325.8L469.8 314.8L471.2 311.2L473.8 311.8L474.8 310.8L474.8 308.2L471.8 309.2L470.8 308.2L469.8 302.8L467.2 299.2L467.2 297.2L469.2 295.8L470.2 292.8L472.8 291.8L474.2 292.8L473.2 298.2L474.2 298.2L474.2 294.2L477.2 287.8L479.8 285.2L478.2 283.2L478.2 279.2L480.2 276.8L482.8 276.8L484.2 275.2L488.2 274.2L491.2 276.2L493.2 276.2L494.8 278.2L494.8 275.8L499.8 275.2L501.2 273.8L501.8 269.8L503.2 267.2L508.2 263.2Z"/><path fill-rule="evenodd" fill="#00f890" d="M543.8 293.8L535.8 301.2L534.8 308.2L532.8 312.2L532.8 320.2L530.2 322.8L525.8 323.8L521.2 329.8L519.2 329.8L517.8 331.8L517.8 334.8L543.8 334.8ZM444.8 276.2L443.8 277.2L443.2 280.8L443.8 283.8L445.2 282.8L445.8 277.8ZM543.8 270.8L542.8 271.8L543.8 274.2ZM96.2 111.2L96.2 334.8L152.8 334.8L151.8 331.8L152.2 324.8L150.2 317.8L149.8 295.8L150.8 279.8L152.8 269.2L155.8 264.8L158.2 258.2L160.8 259.2L160.8 261.8L162.2 263.8L163.8 263.2L165.8 259.2L166.8 260.2L166.2 264.8L167.2 266.8L169.8 268.2L175.8 267.8L179.8 269.8L186.2 269.8L189.2 272.8L188.2 301.8L186.8 306.2L185.2 321.8L186.8 334.8L238.8 334.8L237.2 329.2L234.2 327.8L233.2 320.8L233.2 313.8L234.2 310.2L233.8 295.8L234.8 290.8L234.2 279.8L241.8 272.2L241.2 267.2L245.8 261.2L249.8 264.2L257.8 264.2L263.8 269.8L266.2 267.8L267.8 271.2L265.8 275.8L265.8 278.8L268.2 281.8L268.8 286.8L269.8 288.2L272.2 284.2L273.2 285.2L272.2 292.8L273.8 299.2L272.2 302.2L272.2 307.2L274.2 314.2L270.2 322.8L270.2 334.8L340.2 334.8L339.8 318.8L338.2 309.8L338.2 295.8L336.8 287.8L340.8 274.8L340.2 265.2L341.2 258.8L343.8 254.8L347.8 259.2L349.8 259.8L351.2 257.8L351.8 254.2L352.8 253.8L355.8 261.8L357.8 253.8L360.2 253.2L361.2 264.2L361.8 264.8L365.2 263.2L368.8 264.2L370.2 265.8L370.2 267.8L369.2 268.8L367.8 267.2L366.8 267.8L365.8 271.8L369.8 277.2L371.2 286.2L372.2 302.2L371.8 334.8L468.8 334.8L464.2 308.8L461.2 303.2L461.2 297.8L459.2 295.2L455.8 294.8L454.2 292.2L456.2 287.8L461.2 288.8L464.8 287.2L465.8 285.8L467.2 287.8L469.8 287.2L472.2 282.2L471.8 271.2L476.8 266.2L477.8 266.8L480.2 270.8L486.2 270.8L489.2 267.2L490.8 268.8L490.8 270.2L493.2 271.2L497.2 267.2L499.8 259.2L496.2 253.8L496.8 250.2L498.2 248.8L500.2 248.8L503.8 250.8L506.8 248.2L512.2 248.8L515.8 251.2L518.8 246.2L521.2 247.8L522.2 253.2L521.8 256.2L524.2 259.8L527.8 258.2L532.8 263.8L533.8 263.8L535.2 259.8L537.8 257.2L539.8 253.2L540.8 254.2L540.8 260.2L541.8 261.8L543.8 261.8L543.8 233.2L542.8 232.8L542.8 229.8L543.8 229.2L543.8 111.2ZM421.2 297.2L424.2 299.8L425.2 302.8L427.2 303.8L426.2 305.8L424.2 304.8L423.8 302.8L420.2 299.2ZM427.2 289.2L428.2 292.8L426.8 294.2L426.2 290.2ZM269.8 277.8L270.8 280.2L269.2 281.2L268.2 279.2ZM468.2 273.8L469.2 274.8L468.2 278.2ZM425.8 270.8L427.2 270.8L428.8 272.8L428.8 276.8L427.8 277.8L424.8 274.2L424.8 271.8ZM450.2 269.2L451.2 270.2L451.8 290.8L450.2 291.8L446.8 290.2L444.8 292.8L441.8 286.8L440.2 289.2L440.2 292.8L438.8 293.8L434.8 293.8L432.8 297.8L432.8 303.8L431.2 304.2L430.8 299.2L431.8 291.2L434.2 286.8L433.8 282.2L431.2 280.2L431.2 278.8L434.2 275.8L434.8 270.2L435.8 269.8L437.2 272.2L435.8 277.2L435.8 280.8L437.2 282.2L439.2 282.2L441.2 269.2L442.2 268.2L445.8 269.8ZM421.8 264.8L422.2 267.2L421.2 268.2L420.2 265.8ZM494.2 247.2L494.8 248.2L493.8 248.8L493.2 248.2ZM527.2 246.2L528.2 246.8L528.8 248.8L527.8 250.8L526.8 249.8ZM410.8 247.2L413.8 245.2L415.2 245.2L421.2 250.8L423.8 250.2L427.8 253.8L427.2 258.8L425.2 259.2L421.2 255.2L417.8 257.2L412.8 257.2L410.8 254.2ZM531.8 236.2L533.8 237.8L532.8 240.8L530.8 239.2L530.8 237.2ZM536.8 229.8L537.2 232.8L536.2 234.2L535.2 231.8ZM126.8 223.8L128.2 225.2L127.2 227.2L125.8 226.2ZM379.2 210.2L380.8 211.8L380.8 214.8L379.8 216.2L377.8 214.2L377.8 211.8ZM494.2 195.8L501.8 195.8L504.2 197.8L505.8 214.8L504.8 220.8L503.2 223.8L497.8 221.8L492.2 222.2L486.2 215.8L487.2 208.8L489.2 205.2L490.8 206.2L491.8 205.8L492.2 197.8ZM455.2 191.2L457.8 183.8L459.2 182.2L462.2 182.8L464.8 184.8L470.2 182.2L473.2 186.8L473.2 192.2L468.2 195.8L461.8 194.8L457.2 195.2L455.8 193.8ZM191.2 173.2L191.8 172.8L192.8 174.2L191.8 174.8Z"/><path fill-rule="evenodd" fill="#00f000" d="M530.8 331.8L530.2 334.8L531.8 334.8ZM543.8 301.8L539.2 301.8L537.2 303.8L537.8 311.8L535.8 315.8L534.8 322.8L532.2 326.8L533.8 330.2L533.8 334.8L543.8 334.8ZM456.2 301.8L453.2 302.2L450.2 298.2L444.8 303.2L443.8 306.2L441.8 308.2L440.2 307.8L438.2 304.8L435.8 307.8L430.8 309.2L430.8 312.2L428.8 317.2L428.8 320.8L430.8 322.8L430.8 327.8L428.8 330.2L428.2 334.8L462.2 334.8L461.2 325.8L462.8 320.8L462.8 314.2ZM433.2 316.8L434.8 318.2L437.2 324.2L435.8 327.8L434.2 326.2L433.8 322.2L431.8 319.2ZM180.8 250.8L178.8 252.2L177.2 257.2L177.2 262.8L178.8 264.8L181.2 264.8L184.8 261.8L184.8 254.8ZM184.8 238.8L181.2 242.2L182.8 244.2L184.8 244.2L186.8 242.2L186.8 240.8ZM175.2 223.8L170.8 223.8L166.8 221.2L165.2 221.2L162.8 223.8L160.8 222.2L154.2 222.8L150.8 217.8L144.8 217.8L141.8 219.2L138.2 217.2L134.8 217.2L132.2 218.8L132.2 220.8L136.8 222.8L139.2 226.2L131.8 230.8L133.2 234.2L132.8 242.2L130.8 245.2L126.2 242.8L124.2 242.8L121.2 239.2L117.8 239.2L116.2 238.2L109.8 239.2L105.2 242.2L105.2 249.2L107.2 250.2L108.8 248.2L111.8 253.8L109.2 256.2L105.2 255.8L103.8 256.8L96.2 256.8L96.2 334.8L142.8 334.8L143.8 330.8L147.8 327.8L148.8 317.8L148.2 295.8L149.2 267.8L148.8 264.8L145.2 259.8L142.8 261.2L140.8 259.8L141.2 255.8L143.2 252.8L152.2 244.8L155.2 243.2L155.8 242.2L153.8 239.2L150.2 239.8L148.2 237.2L148.8 235.2L150.8 233.2L152.8 232.8L155.8 234.8L159.8 235.2L161.8 240.8L165.2 237.2L167.2 237.2L168.2 238.2L168.8 242.8L165.8 247.2L161.8 247.8L162.2 254.2L163.2 255.8L166.2 255.8L169.8 254.2L171.2 260.8L172.2 261.8L173.2 257.2L175.2 253.8L172.8 248.2L173.2 244.8L174.2 243.2L175.8 245.8L177.8 246.8L180.2 242.8L177.2 236.2L175.8 237.2L174.8 241.2L173.8 241.2L173.8 236.2L176.8 225.8ZM109.2 244.8L109.2 247.2L108.2 246.2ZM96.2 215.8L96.2 232.2L100.2 233.8L103.2 233.8L105.8 229.2L109.8 230.2L112.2 227.8L112.8 224.2L109.8 217.8L103.8 217.8L100.8 215.8ZM195.8 172.2L195.2 173.8L196.2 174.8ZM543.8 160.8L541.2 160.8L534.8 163.8L529.8 161.8L525.2 164.2L521.2 168.8L518.2 168.2L515.2 169.2L512.2 167.8L508.8 170.8L503.8 173.2L493.8 173.8L490.2 175.2L489.8 180.8L491.2 186.2L490.8 192.2L491.8 193.2L501.8 192.8L507.8 197.2L507.8 209.8L510.8 214.2L510.8 220.8L512.8 223.2L515.8 221.8L519.8 221.8L521.8 222.8L525.2 221.2L527.8 223.8L530.8 222.2L533.8 224.8L538.2 222.2L543.8 222.8ZM527.2 141.2L526.8 142.2L527.8 143.8ZM379.8 139.2L379.2 142.2L380.2 143.2L380.8 140.2ZM366.2 137.8L365.2 141.8L366.2 144.8L367.2 144.8L368.2 143.8L368.2 139.8ZM184.2 137.8L183.2 139.8L183.8 141.2L184.8 140.2ZM130.2 118.8L129.8 121.2L130.8 121.8ZM528.2 111.2L527.8 115.8L525.2 121.8L525.2 130.2L527.2 132.2L533.8 131.8L536.2 133.8L543.8 133.2L543.8 111.2ZM453.8 111.2L454.8 119.2L456.8 123.8L462.2 121.8L466.8 122.8L468.8 121.2L469.8 118.8L469.8 111.2ZM347.2 111.2L348.2 115.2L347.8 123.8L345.8 124.8L343.8 119.8L343.2 123.8L347.8 133.8L347.8 139.8L349.8 147.8L351.2 149.2L358.8 149.8L361.2 147.2L363.8 136.8L363.2 129.2L366.2 126.2L367.8 126.2L370.2 128.2L375.2 127.2L379.2 129.2L382.2 126.2L383.8 127.2L383.8 141.2L384.8 147.2L383.2 149.8L382.8 153.2L383.8 161.8L378.2 167.8L371.8 166.8L362.8 169.8L361.8 173.2L363.2 175.8L360.2 178.2L355.8 178.8L352.8 180.8L350.2 179.2L347.8 179.8L344.2 186.8L345.2 188.8L352.8 187.2L355.2 189.8L359.8 190.2L361.2 189.2L363.8 189.2L366.8 183.2L373.2 183.2L376.8 181.8L379.2 185.2L381.8 184.2L382.8 184.8L383.2 192.2L384.2 193.2L387.8 193.8L390.8 196.8L394.2 195.2L399.2 195.8L401.2 197.8L401.2 202.8L399.8 209.8L401.2 221.2L403.2 222.8L406.8 222.2L409.2 223.2L414.2 223.2L415.8 224.8L416.2 228.8L420.2 232.2L419.2 242.2L421.2 243.8L423.8 243.8L427.2 249.2L429.8 248.8L433.8 250.8L435.8 254.2L439.8 257.8L441.8 261.8L444.8 260.2L447.2 263.2L450.2 262.8L453.2 269.2L454.8 268.2L455.8 265.8L455.8 261.8L453.8 259.2L454.8 258.2L457.2 259.2L458.8 262.8L462.2 262.2L463.8 258.2L466.8 256.8L469.8 258.8L470.2 262.2L471.2 263.2L472.8 261.8L473.2 252.2L474.8 249.8L480.2 249.8L484.2 254.2L485.2 253.2L486.8 246.8L490.2 243.2L493.8 241.8L494.2 239.2L496.2 236.8L497.8 242.2L497.8 237.8L496.2 236.2L496.2 232.8L498.8 228.2L498.2 225.2L491.8 225.8L488.8 223.8L484.8 224.8L479.2 221.8L476.8 221.8L474.2 225.2L471.8 222.8L468.8 224.2L465.2 222.2L462.2 222.2L459.8 223.8L457.8 222.8L453.8 216.2L452.8 197.2L450.8 194.2L452.8 180.8L449.2 177.8L445.2 177.8L442.2 179.2L439.2 178.2L436.8 175.2L437.2 169.8L438.2 168.8L442.2 173.2L447.2 171.2L450.8 171.2L453.8 165.8L455.2 167.8L458.8 169.2L460.2 169.2L462.8 167.2L467.2 167.8L470.2 165.8L475.2 167.8L477.2 164.8L480.8 166.8L485.8 167.8L492.2 162.8L496.8 160.8L499.2 160.8L501.8 162.2L508.2 160.8L513.2 154.8L519.2 155.8L521.2 153.8L524.2 153.2L526.2 155.2L527.8 155.2L529.2 153.2L529.2 148.8L528.2 147.8L525.2 150.8L523.8 150.2L523.8 141.2L521.2 138.2L511.8 137.8L508.2 140.8L505.2 140.8L503.2 139.2L493.2 139.2L489.2 137.2L485.8 133.8L482.8 133.8L478.2 131.8L476.2 132.2L473.8 134.8L473.8 140.8L472.2 142.8L467.8 145.2L464.2 145.2L459.8 142.2L454.2 141.8L454.8 140.8L451.8 136.2L451.2 130.8L448.8 128.2L446.8 127.8L444.2 128.8L441.8 126.2L439.2 127.8L437.8 126.8L435.8 118.8L435.8 111.2L419.2 111.2L419.2 118.8L417.8 124.8L415.2 129.8L410.8 126.8L405.2 129.2L402.8 128.8L400.2 125.2L400.2 117.8L403.2 115.2L403.8 111.2ZM481.2 236.8L483.8 238.2L483.2 242.2L480.8 240.8ZM450.8 233.2L452.8 236.2L453.2 242.8L451.2 246.8L448.2 247.2L443.8 242.2L444.8 236.8L447.2 236.2L449.8 233.2ZM452.2 205.8L452.8 207.8L451.2 209.2L450.2 206.8ZM381.2 172.8L382.8 173.2L382.2 176.8L380.8 175.2ZM419.2 165.8L420.2 164.8L422.2 164.8L427.8 167.8L433.2 167.2L435.2 169.8L433.8 173.8L432.8 174.8L429.2 174.8L426.8 172.2L424.2 173.8L418.2 169.8ZM384.8 164.8L385.2 164.2L385.8 165.2L385.2 165.8ZM489.8 147.2L493.2 144.2L502.2 143.2L506.2 147.2L507.8 154.8L505.2 157.2L502.8 156.2L501.2 154.2L498.2 156.2L496.2 155.2L491.8 155.2L489.8 151.8ZM430.2 131.8L435.8 136.2L437.2 139.2L435.2 158.8L432.8 161.2L428.2 162.2L424.8 162.2L421.2 160.2L416.8 160.8L414.2 158.2L414.2 155.2L415.8 153.2L416.8 154.8L417.8 154.2L417.2 136.2L422.2 133.8L426.2 133.8ZM390.2 115.8L391.8 116.8L392.8 119.8L391.2 122.8L390.2 122.8L388.8 120.8L388.8 117.8ZM131.8 111.2L131.8 115.2L134.2 117.8L134.8 119.8L132.8 128.8L135.2 133.8L133.2 138.8L132.2 149.8L136.2 153.8L135.2 154.8L132.2 153.2L127.8 156.2L122.8 155.2L120.8 157.2L118.2 157.2L116.8 158.2L113.2 172.8L114.2 180.2L115.8 184.2L115.8 187.2L114.2 188.8L107.8 189.8L102.2 189.2L100.8 190.2L96.2 190.8L96.2 194.2L99.8 193.8L103.2 195.8L108.8 194.2L113.2 196.8L115.2 200.2L117.8 198.8L120.8 198.8L124.8 201.2L127.8 199.2L131.2 203.2L127.2 206.8L121.2 205.8L117.8 207.8L114.8 203.8L112.2 204.2L109.8 201.2L100.8 201.8L97.8 199.2L96.2 199.2L96.2 213.8L100.2 211.8L103.8 212.8L107.2 210.8L111.8 212.8L115.2 212.8L116.8 215.2L120.8 218.2L122.2 218.2L124.8 216.2L130.8 216.8L133.2 212.8L136.2 212.8L138.8 211.2L142.2 210.8L146.8 211.8L149.8 208.8L150.8 199.2L148.8 193.8L148.8 190.8L150.8 187.8L151.2 183.2L148.2 178.2L148.2 174.2L150.2 171.2L151.8 170.8L159.2 174.2L162.8 170.8L165.2 174.2L165.2 181.2L166.2 178.8L166.2 174.2L169.8 167.8L169.2 163.2L171.8 161.2L176.8 161.8L180.8 160.8L183.8 162.2L186.2 158.8L189.8 161.2L191.8 160.2L198.8 161.2L201.8 158.8L203.2 152.8L210.2 148.2L212.2 149.2L218.8 148.8L223.8 157.8L222.2 161.8L220.2 158.8L220.2 156.8L218.8 156.8L212.8 162.2L209.2 160.8L206.2 160.8L202.2 165.2L200.8 169.8L201.2 172.2L204.2 169.8L208.2 174.2L213.8 173.8L219.2 169.8L220.8 173.2L224.8 175.2L223.8 182.2L221.2 186.2L221.2 189.2L219.2 194.2L219.8 197.2L221.8 197.2L222.8 198.2L222.8 201.2L220.8 204.2L221.8 213.8L223.2 216.8L223.2 220.8L221.8 222.8L219.8 219.2L218.2 218.8L218.2 222.2L219.8 226.8L222.8 231.8L221.2 234.8L215.8 234.8L214.2 236.2L214.8 242.2L213.2 243.8L211.2 242.2L210.8 239.2L209.8 242.8L204.8 248.2L202.8 247.8L201.2 243.8L200.2 247.8L195.2 253.8L192.8 250.8L190.8 252.2L193.8 261.8L193.8 266.2L191.8 270.8L192.2 279.8L191.2 282.8L191.2 311.8L193.2 315.2L193.2 327.2L194.8 334.8L229.2 334.8L230.8 325.8L232.2 285.2L231.2 281.2L232.2 267.8L229.8 266.2L230.8 247.8L238.8 242.8L237.2 239.8L238.2 230.2L239.8 227.8L245.8 229.2L249.2 226.8L251.8 229.2L253.2 229.2L255.8 231.2L255.8 236.8L257.8 237.2L260.8 239.8L263.8 238.8L268.2 241.8L266.2 245.2L263.2 245.2L258.2 248.2L254.8 245.2L251.8 245.2L250.2 246.8L252.8 259.2L254.8 260.2L262.8 259.2L266.2 251.8L268.2 249.8L272.8 249.8L273.2 244.8L278.2 241.2L278.2 238.2L275.8 233.8L275.8 225.8L278.2 221.8L288.2 223.2L292.2 229.8L292.2 232.8L290.8 234.8L286.8 235.8L284.2 234.2L283.2 237.2L287.2 238.2L291.8 241.8L293.2 250.2L293.8 247.8L296.2 245.8L302.2 246.8L304.2 243.2L305.8 243.8L306.2 247.8L305.2 249.2L299.2 250.8L294.2 253.8L294.8 256.8L293.8 262.8L288.2 268.2L286.2 268.8L283.8 266.2L283.2 263.8L280.2 261.8L274.8 262.8L272.8 264.8L277.2 272.8L276.8 288.2L277.8 302.8L279.2 305.8L277.8 315.8L277.2 334.8L334.2 334.8L337.2 321.2L336.2 298.2L333.8 292.2L334.2 276.8L335.2 274.2L335.2 267.2L333.8 260.2L335.8 255.2L335.8 252.8L332.8 250.2L328.2 251.2L326.8 248.8L326.2 244.8L322.8 245.2L319.2 240.2L319.2 232.8L322.8 228.2L324.8 228.2L327.8 230.8L331.8 244.8L333.2 244.8L335.2 241.8L339.2 238.8L344.2 239.8L347.2 233.8L357.2 234.2L359.2 236.2L359.2 238.8L358.2 239.8L355.8 238.8L353.2 241.8L349.8 240.8L347.8 241.8L346.8 248.2L348.2 249.2L359.8 249.2L361.8 247.8L362.8 242.8L364.2 240.8L367.8 239.2L370.2 241.8L373.2 248.2L370.2 251.8L367.8 252.2L366.8 254.2L367.8 259.8L372.8 262.2L374.2 264.2L373.2 298.2L375.8 310.8L375.2 318.8L376.2 321.8L376.2 327.2L374.8 334.2L409.2 334.8L410.2 329.2L410.2 320.8L412.8 307.2L412.2 297.2L413.2 293.2L414.8 291.2L413.2 289.2L409.2 271.8L409.8 257.8L408.8 253.8L403.8 249.8L400.8 248.8L395.2 242.8L391.8 244.8L389.8 244.8L388.8 243.8L382.8 242.2L382.2 238.8L383.2 236.8L383.2 232.2L380.8 223.2L379.2 222.2L376.8 222.2L374.8 224.2L372.8 224.8L369.2 222.8L367.2 220.2L368.2 216.8L368.2 210.8L367.2 209.2L364.8 210.2L361.8 204.2L359.2 204.8L355.2 208.2L351.2 207.8L348.8 209.2L347.8 214.2L348.2 218.8L346.2 221.8L343.2 223.8L338.8 221.2L332.2 224.2L330.2 224.2L326.8 222.2L323.8 222.8L314.2 221.8L312.2 222.8L307.2 222.2L303.8 224.8L300.2 221.8L298.8 221.8L295.2 224.8L293.8 221.8L293.8 216.2L292.2 209.8L292.8 207.2L293.8 206.2L301.2 207.2L309.2 203.2L310.2 200.8L310.8 193.2L309.2 185.8L312.2 178.2L312.2 174.2L309.8 166.2L310.2 162.2L301.2 162.2L295.8 159.8L294.2 164.2L292.8 165.2L290.8 163.8L291.8 160.2L291.8 152.8L290.2 149.8L287.8 150.8L278.2 150.8L275.8 148.8L273.2 150.8L269.2 149.8L265.2 152.2L263.8 152.2L259.2 149.8L257.8 147.8L257.8 141.8L255.2 139.2L254.8 137.2L255.8 133.8L257.8 131.8L260.8 133.2L273.2 132.8L274.8 134.2L273.2 142.2L275.8 145.8L281.8 143.2L284.8 143.2L287.2 144.8L292.8 145.2L295.8 150.2L299.2 148.8L302.8 151.2L305.2 149.2L306.8 149.2L310.8 152.8L310.8 161.2L313.8 159.8L316.2 162.2L318.2 162.2L321.8 158.8L323.2 158.8L325.8 160.8L329.2 159.8L329.8 163.2L327.8 167.2L330.2 170.8L331.8 171.8L346.2 171.8L347.8 168.8L348.2 155.8L347.2 152.8L344.2 150.2L338.2 151.2L334.8 149.8L331.2 150.2L328.8 149.2L327.8 147.8L328.8 140.8L327.8 140.2L326.8 140.8L323.2 138.8L316.8 139.2L314.8 140.2L310.8 136.2L310.8 131.8L313.2 130.8L314.2 129.2L314.2 126.2L312.2 123.2L311.2 119.2L308.2 121.2L305.2 116.8L303.2 116.8L299.2 118.8L296.8 116.8L295.2 113.8L295.2 111.2L258.2 111.2L257.8 114.2L251.8 116.8L247.8 117.2L243.2 114.8L238.8 118.8L238.8 123.2L241.8 129.2L241.8 132.2L240.2 133.8L236.8 133.2L233.8 134.8L231.8 132.2L230.8 132.2L228.2 134.8L224.8 133.2L222.2 136.2L218.8 132.2L217.8 132.2L214.2 135.2L211.2 135.2L207.2 132.2L205.2 128.8L201.2 130.8L198.8 126.8L197.8 126.8L195.2 129.8L192.8 129.8L190.2 127.8L188.8 127.8L186.2 132.2L186.2 137.2L188.2 141.8L187.8 144.8L186.2 146.2L184.8 144.8L184.2 142.2L183.2 142.2L181.8 144.2L179.2 144.8L171.8 144.2L168.8 146.8L166.8 143.2L164.8 142.2L162.2 144.2L157.8 145.2L153.2 144.8L151.2 146.8L149.8 141.8L150.2 139.2L148.2 136.2L149.2 129.8L151.2 127.8L153.8 128.8L157.8 128.8L160.2 126.8L165.2 127.8L172.8 126.8L176.8 129.2L178.2 129.2L180.2 127.2L183.2 127.2L184.8 121.8L184.8 111.2L175.2 111.2L174.8 113.8L173.8 112.8L174.2 111.2ZM257.8 248.2L259.2 249.2L259.2 255.2L258.2 256.2L256.2 254.2L256.2 250.2ZM370.2 231.2L371.8 232.2L370.8 233.8L369.2 233.2ZM364.8 217.2L366.2 219.8L364.8 221.2L363.8 220.2L363.8 218.2ZM233.2 210.8L235.2 212.2L235.2 214.8L234.2 215.8L232.2 213.8L232.2 211.8ZM135.8 204.8L136.8 205.2L136.2 207.8L134.8 206.2ZM256.2 180.8L270.8 177.2L275.2 179.2L277.8 184.2L280.8 184.2L282.8 182.2L285.2 181.8L290.2 185.2L293.2 184.8L294.2 185.8L294.2 187.8L291.8 190.2L291.2 192.8L289.8 194.2L283.8 195.8L281.8 194.2L278.2 194.2L275.8 189.2L273.2 191.2L271.8 191.2L269.8 189.2L264.8 190.8L258.2 187.8ZM290.8 163.8L287.8 168.2L284.8 164.8L281.8 167.2L277.8 166.8L270.2 174.2L267.8 173.2L263.8 174.2L260.8 171.2L257.2 171.2L256.2 170.2L257.8 167.8L260.8 168.2L264.2 165.8L267.2 165.8L273.2 168.2L275.8 161.8L284.2 161.8L287.8 160.8ZM256.2 158.2L257.2 157.2L260.2 157.2L263.8 153.2L265.2 153.2L268.8 156.2L273.8 157.8L274.2 159.8L273.2 160.8L269.8 160.2L265.8 162.2L260.8 161.2L257.8 162.2L256.2 160.2ZM240.8 152.8L242.2 151.2L245.8 152.2L247.8 150.2L254.8 150.2L256.2 151.8L256.2 155.8L255.2 156.8L252.2 155.2L248.2 156.2L246.2 153.8L242.8 155.2Z"/><path fill-rule="evenodd" fill="#90f000" d="M543.8 308.2L540.8 309.2L539.8 316.8L538.8 318.2L539.8 331.8L540.8 334.8L543.8 334.8ZM453.2 306.2L450.8 307.8L447.8 306.8L444.8 314.8L443.8 315.8L441.8 314.8L440.2 317.8L440.2 319.2L442.8 322.2L444.8 329.2L447.8 330.2L450.8 333.8L458.8 331.8L458.8 325.8L460.8 318.2L460.2 314.8L458.2 310.8ZM281.2 289.8L280.8 291.8L281.8 293.8L282.2 290.2ZM290.2 270.8L288.8 274.8L285.8 277.2L284.8 280.2L285.2 294.2L283.8 296.8L283.8 299.8L286.8 306.8L289.8 309.2L290.2 311.2L292.8 312.8L291.8 319.2L294.2 323.8L292.8 334.2L297.8 334.8L298.2 332.2L299.8 331.8L301.2 334.8L331.2 334.8L333.8 325.2L334.2 308.8L333.2 298.8L331.2 295.2L328.2 285.8L325.8 282.8L322.8 283.8L321.2 282.2L317.8 281.2L314.8 277.2L313.2 277.2L310.8 280.8L307.8 275.8L304.8 277.8L302.8 277.8L301.8 276.2L302.2 273.8L296.8 275.2L292.8 270.8ZM136.8 258.2L133.8 261.8L132.8 261.8L128.2 257.8L126.8 257.8L124.2 261.2L121.2 261.2L118.2 266.8L117.2 266.8L114.8 263.2L111.8 267.2L110.8 274.8L107.8 278.8L107.8 298.2L106.8 299.8L104.2 298.2L103.8 298.8L107.2 310.8L106.2 319.8L107.8 322.2L109.8 322.2L112.2 318.2L113.2 319.2L113.8 327.2L115.2 329.8L118.2 330.2L119.2 334.8L134.2 334.8L136.2 331.2L139.8 330.2L144.2 326.2L145.2 324.2L146.8 311.2L146.2 296.8L147.2 293.8L145.2 281.2L145.8 271.8L137.8 266.2ZM213.8 250.8L212.8 250.8L209.8 254.2L208.2 253.2L205.8 253.2L201.2 256.8L200.2 264.8L197.2 269.2L194.8 279.2L193.8 304.2L195.8 309.8L195.8 323.8L197.2 328.2L199.2 331.2L201.8 332.2L202.8 334.8L221.2 334.8L222.2 330.8L226.2 327.2L227.2 322.8L227.2 314.2L229.2 306.2L229.2 282.2L225.8 272.2L225.8 263.8L225.2 262.8L222.2 264.8L221.2 263.8L219.8 256.8ZM384.8 246.8L382.2 247.8L379.2 252.2L379.8 254.2L381.8 254.2L382.8 255.2L383.8 259.2L380.2 264.8L377.8 266.2L377.2 268.2L377.8 286.2L375.8 292.8L375.8 300.2L377.8 308.8L378.8 325.8L381.2 329.8L381.8 334.8L397.2 334.8L401.8 331.2L403.8 331.2L404.8 332.8L405.2 324.2L407.2 320.8L407.2 311.8L409.8 301.8L409.8 297.8L407.8 292.2L408.2 280.2L405.2 265.2L401.8 262.2L401.2 256.2L402.8 253.8L401.2 252.8L398.2 252.8L394.2 246.8L391.8 247.8ZM440.8 245.2L438.2 247.8L440.2 253.8L441.2 253.8L442.2 251.2L442.8 253.2L444.8 253.8L445.2 251.2L443.8 247.8ZM219.2 244.8L218.8 248.2L219.8 248.8ZM469.2 234.8L464.2 236.8L461.8 236.8L459.2 235.2L457.8 236.2L457.8 242.8L460.2 243.8L463.2 247.8L460.8 252.8L458.2 253.8L461.8 255.8L464.8 253.8L467.8 253.8L468.8 252.8ZM508.2 186.2L508.2 192.2L510.2 194.8L510.2 207.2L512.2 211.8L515.2 210.2L518.8 211.8L521.8 211.8L524.2 209.2L523.2 204.8L523.8 202.2L524.8 201.2L527.2 202.8L530.2 198.8L533.8 201.2L543.8 199.2L543.8 193.2L539.8 195.8L536.2 195.8L533.8 193.8L531.2 193.8L530.2 194.8L527.2 194.2L525.2 191.8L525.8 186.2L524.8 185.2L521.8 185.2L519.2 182.2L518.2 182.2L515.8 185.2L513.2 182.2L511.8 182.2ZM385.8 172.8L385.2 174.2L386.2 175.8L386.8 173.2Z"/><path fill-rule="evenodd" fill="#c8f000" d="M452.8 311.8L447.8 313.8L446.2 322.2L447.8 325.2L449.8 325.2L453.8 328.2L455.8 326.2L457.8 321.8L458.2 316.8L455.2 312.2ZM291.2 280.8L290.2 282.2L290.2 295.8L291.2 298.2L292.2 297.2L294.2 298.2L294.2 300.2L292.2 302.2L292.2 305.2L295.8 310.2L296.8 314.8L298.8 314.8L300.2 316.2L300.8 324.8L301.8 326.8L306.2 329.2L310.2 334.8L313.8 334.8L317.2 332.2L322.8 333.8L326.2 328.8L327.8 323.8L331.2 317.8L331.2 306.2L328.2 294.8L326.2 294.2L319.2 286.8L317.2 288.2L313.8 288.2L311.2 289.8L308.2 288.2L304.2 289.8L301.8 285.8L298.8 285.8L296.8 281.8ZM127.2 267.8L124.2 272.2L121.2 271.8L120.2 272.8L115.8 283.2L114.8 289.2L112.2 290.8L112.2 292.8L114.2 295.2L113.2 306.2L117.2 317.8L122.8 324.8L127.2 325.8L130.2 328.8L134.2 324.2L139.2 323.8L139.8 317.8L144.8 306.2L143.8 297.8L145.2 294.2L145.2 289.8L143.8 286.8L142.2 279.2L139.8 277.8L138.8 273.2L136.8 272.8L130.2 267.8ZM395.8 266.8L387.2 267.8L385.2 272.8L381.2 275.8L380.2 277.8L380.2 289.2L378.2 297.2L380.2 305.8L379.8 312.8L382.8 319.8L385.2 320.2L387.8 325.2L391.8 327.2L396.8 325.8L402.2 321.2L406.2 302.8L404.8 278.2L402.2 277.2L400.2 269.8L397.8 269.8ZM212.8 264.2L211.2 264.2L207.2 268.8L198.8 272.2L198.2 286.2L195.8 294.8L195.8 301.2L199.2 320.2L200.8 323.2L204.8 323.8L206.8 328.8L210.8 326.8L213.8 327.2L217.2 325.2L220.2 321.2L226.8 303.2L226.2 287.2L224.2 280.8L222.2 278.8L222.8 272.2L221.8 270.8L219.2 270.8ZM387.8 252.8L388.8 254.2L393.2 253.8L390.2 251.8L388.2 251.8Z"/><path fill-rule="evenodd" fill="#f0f000" d="M451.8 317.2L450.2 319.2L452.8 322.8L453.8 322.8L454.2 319.2L452.8 317.2ZM321.8 295.2L317.2 295.8L313.2 294.8L310.2 295.8L306.2 299.2L303.8 300.2L301.8 303.2L301.8 306.8L304.2 311.2L304.8 321.2L305.8 322.2L307.8 321.8L313.2 328.8L317.2 326.2L322.8 327.2L324.2 325.8L328.2 316.2L329.2 311.2L328.8 306.8L325.2 304.8L324.2 299.2ZM127.2 275.8L124.8 278.2L121.8 279.2L120.2 281.8L117.2 292.2L118.2 299.8L116.2 304.8L117.8 308.2L121.8 311.2L123.2 316.2L126.2 319.8L130.2 319.8L132.8 321.2L134.8 319.8L136.8 316.2L137.8 311.2L140.8 304.8L141.8 300.2L141.2 285.8L136.8 282.8L136.2 280.2L133.2 275.8ZM388.2 274.2L383.8 280.2L381.8 293.2L381.8 300.2L383.2 303.8L383.8 309.2L386.2 313.2L387.8 318.8L388.8 319.8L391.8 319.2L393.2 320.8L394.8 320.8L399.2 315.8L400.2 310.8L403.2 305.2L402.8 298.8L403.8 291.8L398.2 277.8L394.2 274.2L391.8 275.8ZM209.2 271.2L204.2 276.2L198.8 291.2L199.2 307.8L200.2 311.2L203.8 316.8L213.2 320.8L217.8 315.8L222.8 302.2L223.2 294.8L222.2 286.8L216.8 273.8L215.2 273.2L213.2 274.8L210.2 271.2Z"/><path fill-rule="evenodd" fill="#f0d000" d="M318.2 300.2L314.8 301.8L311.2 300.8L309.8 302.8L307.8 309.8L307.8 312.8L309.8 315.2L310.8 319.2L313.8 322.2L316.8 320.8L320.8 320.2L324.2 315.2L324.2 311.8L320.2 301.8ZM133.2 281.8L126.8 282.8L123.8 285.2L121.8 285.2L119.8 290.8L119.8 293.2L121.8 297.8L121.2 305.2L127.2 314.8L131.2 314.2L135.2 310.2L137.8 303.2L138.2 291.8L135.2 287.8ZM394.2 281.2L388.8 281.2L384.8 289.8L385.2 304.8L388.8 312.2L394.8 310.2L397.2 308.2L399.8 300.8L400.2 291.2L396.8 282.8ZM213.8 278.2L211.8 278.8L207.8 282.8L204.8 282.2L201.8 292.8L201.8 299.8L204.2 309.8L209.8 315.2L211.8 315.2L216.2 311.8L220.2 299.2L219.8 290.2L218.2 285.2L215.8 280.2Z"/><path fill-rule="evenodd" fill="#f0a000" d="M129.8 288.8L127.2 288.8L124.2 293.8L124.2 303.2L127.2 307.8L128.8 307.2L130.2 304.2L132.8 305.2L135.2 299.8L135.2 295.2L132.2 292.8L131.8 290.2ZM393.8 287.2L391.8 288.2L391.8 290.2L390.8 291.2L388.8 290.8L387.8 292.2L388.2 299.2L392.8 303.8L394.2 303.2L395.8 298.2L395.8 291.8ZM211.8 287.2L205.8 289.8L204.2 297.2L205.2 300.2L210.8 304.2L211.8 307.2L213.2 307.2L216.2 301.2L216.8 297.2L215.2 294.2L214.8 289.2L213.8 287.8Z"/></g><path d="M112.3 111.0v3M112.3 334.7v-3M130.3 111.0v6M130.3 334.7v-6M148.4 111.0v3M148.4 334.7v-3M166.4 111.0v6M166.4 334.7v-6M184.5 111.0v3M184.5 334.7v-3M202.6 111.0v6M202.6 334.7v-6M220.6 111.0v3M220.6 334.7v-3M238.7 111.0v6M238.7 334.7v-6M256.7 111.0v3M256.7 334.7v-3M274.8 111.0v6M274.8 334.7v-6M292.9 111.0v3M292.9 334.7v-3M310.9 111.0v6M310.9 334.7v-6M329.0 111.0v3M329.0 334.7v-3M347.0 111.0v6M347.0 334.7v-6M365.1 111.0v3M365.1 334.7v-3M383.2 111.0v6M383.2 334.7v-6M401.2 111.0v3M401.2 334.7v-3M419.3 111.0v6M419.3 334.7v-6M437.3 111.0v3M437.3 334.7v-3M455.4 111.0v6M455.4 334.7v-6M473.5 111.0v3M473.5 334.7v-3M491.5 111.0v6M491.5 334.7v-6M509.6 111.0v3M509.6 334.7v-3M527.6 111.0v6M527.6 334.7v-6M96.4 325.2h3M543.4 325.2h-3M96.4 313.9h3M543.4 313.9h-3M96.4 302.6h3M543.4 302.6h-3M96.4 291.2h3M543.4 291.2h-3M96.4 279.9h6M543.4 279.9h-6M96.4 268.5h3M543.4 268.5h-3M96.4 257.2h3M543.4 257.2h-3M96.4 245.8h3M543.4 245.8h-3M96.4 234.5h3M543.4 234.5h-3M96.4 223.1h6M543.4 223.1h-6M96.4 211.8h3M543.4 211.8h-3M96.4 200.4h3M543.4 200.4h-3M96.4 189.1h3M543.4 189.1h-3M96.4 177.7h3M543.4 177.7h-3M96.4 166.4h6M543.4 166.4h-6M96.4 155.0h3M543.4 155.0h-3M96.4 143.7h3M543.4 143.7h-3M96.4 132.3h3M543.4 132.3h-3M96.4 121.0h3M543.4 121.0h-3" stroke="#000" stroke-width="1.5" fill="none"/><rect x="96.4" y="111.0" width="447.0" height="223.7" fill="none" stroke="#000" stroke-width="1.7"/><text x="320.5" y="80" text-anchor="middle" font-size="21" letter-spacing="0.9" word-spacing="3.5">vertical velocity</text><text x="33.5" y="95" font-size="12.5" letter-spacing="1.45" stroke="#000" stroke-width="0.3">(×1000 m)</text><text x="484.5" y="366.2" font-size="12.5" letter-spacing="1.55" stroke="#000" stroke-width="0.3">(×1000 m)</text><text x="320" y="387" text-anchor="middle" font-size="16" letter-spacing="1.5">X coordinate</text><text transform="translate(64.5,220.5) rotate(-90)" x="0" y="0" text-anchor="middle" font-size="16" letter-spacing="1.15">Z coordinate</text><text x="90.3" y="283.5" text-anchor="end" font-size="12.5" letter-spacing="1" stroke="#000" stroke-width="0.45">5</text><text x="90.3" y="226.7" text-anchor="end" font-size="12.5" letter-spacing="1" stroke="#000" stroke-width="0.45">10</text><text x="90.3" y="170.0" text-anchor="end" font-size="12.5" letter-spacing="1" stroke="#000" stroke-width="0.45">15</text><text x="131.1" y="350.9" text-anchor="middle" font-size="12.5" letter-spacing="1" stroke="#000" stroke-width="0.45">4</text><text x="167.2" y="350.9" text-anchor="middle" font-size="12.5" letter-spacing="1" stroke="#000" stroke-width="0.45">8</text><text x="203.4" y="350.9" text-anchor="middle" font-size="12.5" letter-spacing="1" stroke="#000" stroke-width="0.45">12</text><text x="239.5" y="350.9" text-anchor="middle" font-size="12.5" letter-spacing="1" stroke="#000" stroke-width="0.45">16</text><text x="275.6" y="350.9" text-anchor="middle" font-size="12.5" letter-spacing="1" stroke="#000" stroke-width="0.45">20</text><text x="311.7" y="350.9" text-anchor="middle" font-size="12.5" letter-spacing="1" stroke="#000" stroke-width="0.45">24</text><text x="347.8" y="350.9" text-anchor="middle" font-size="12.5" letter-spacing="1" stroke="#000" stroke-width="0.45">28</text><text x="384.0" y="350.9" text-anchor="middle" font-size="12.5" letter-spacing="1" stroke="#000" stroke-width="0.45">32</text><text x="420.1" y="350.9" text-anchor="middle" font-size="12.5" letter-spacing="1" stroke="#000" stroke-width="0.45">36</text><text x="456.2" y="350.9" text-anchor="middle" font-size="12.5" letter-spacing="1" stroke="#000" stroke-width="0.45">40</text><text x="492.3" y="350.9" text-anchor="middle" font-size="12.5" letter-spacing="1" stroke="#000" stroke-width="0.45">44</text><text x="528.4" y="350.9" text-anchor="middle" font-size="12.5" letter-spacing="1" stroke="#000" stroke-width="0.45">48</text><text x="551" y="119.8" font-size="12" fill="#333" letter-spacing="1.27">t=496800 s</text><rect x="555.0" y="326.66" width="13.0" height="8.04" fill="#4800b0"/><rect x="555.0" y="318.63" width="13.0" height="8.04" fill="#2800a8"/><rect x="555.0" y="310.59" width="13.0" height="8.04" fill="#1000c0"/><rect x="555.0" y="302.56" width="13.0" height="8.04" fill="#0010f0"/><rect x="555.0" y="294.52" width="13.0" height="8.04" fill="#0040f0"/><rect x="555.0" y="286.49" width="13.0" height="8.04" fill="#0070f0"/><rect x="555.0" y="278.45" width="13.0" height="8.04" fill="#00a8f0"/><rect x="555.0" y="270.42" width="13.0" height="8.04" fill="#00f0f0"/><rect x="555.0" y="262.38" width="13.0" height="8.04" fill="#00f0c8"/><rect x="555.0" y="254.35" width="13.0" height="8.04" fill="#00f890"/><rect x="555.0" y="246.31" width="13.0" height="8.04" fill="#00f000"/><rect x="555.0" y="238.28" width="13.0" height="8.04" fill="#90f000"/><rect x="555.0" y="230.25" width="13.0" height="8.04" fill="#c8f000"/><rect x="555.0" y="222.21" width="13.0" height="8.04" fill="#f0f000"/><rect x="555.0" y="214.17" width="13.0" height="8.04" fill="#f0d000"/><rect x="555.0" y="206.14" width="13.0" height="8.04" fill="#f0a000"/><rect x="555.0" y="198.10" width="13.0" height="8.04" fill="#f07800"/><rect x="555.0" y="190.07" width="13.0" height="8.04" fill="#f05000"/><rect x="555.0" y="182.03" width="13.0" height="8.04" fill="#f02000"/><rect x="555.0" y="174.00" width="13.0" height="8.04" fill="#e01828"/><path d="M555.0 326.66H568.0M555.0 318.63H568.0M555.0 310.59H568.0M555.0 302.56H568.0M555.0 294.52H568.0M555.0 286.49H568.0M555.0 278.45H568.0M555.0 270.42H568.0M555.0 262.38H568.0M555.0 254.35H568.0M555.0 246.31H568.0M555.0 238.28H568.0M555.0 230.25H568.0M555.0 222.21H568.0M555.0 214.17H568.0M555.0 206.14H568.0M555.0 198.10H568.0M555.0 190.07H568.0M555.0 182.03H568.0" stroke="#000" stroke-width="1.3"/><path d="M555.0 174.0L561.5 146.5L568.0 174.0Z" fill="#f8aca8" stroke="#000" stroke-width="1.3"/><path d="M555.0 334.7L561.5 364L568.0 334.7Z" fill="#7400b4" stroke="#000" stroke-width="1.3"/><rect x="555.0" y="174.0" width="13.0" height="160.7" fill="none" stroke="#000" stroke-width="1.5"/><text x="574" y="331.5" font-size="12" font-weight="bold" letter-spacing="0.4">−18</text><text x="574" y="307.4" font-size="12" font-weight="bold" letter-spacing="0.4">−12</text><text x="574" y="283.3" font-size="12" font-weight="bold" letter-spacing="0.4">−6</text><text x="574" y="259.1" font-size="12" font-weight="bold" letter-spacing="0.4">0</text><text x="574" y="235.0" font-size="12" font-weight="bold" letter-spacing="0.4">6</text><text x="574" y="210.9" font-size="12" font-weight="bold" letter-spacing="0.4">12</text><text x="574" y="186.8" font-size="12" font-weight="bold" letter-spacing="0.4">18</text></g>
</svg></body></html>
